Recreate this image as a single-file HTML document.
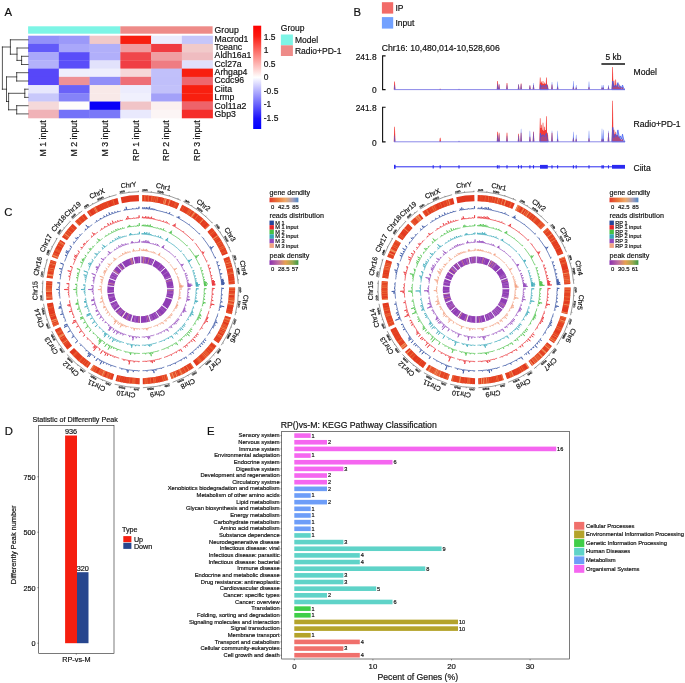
<!DOCTYPE html>
<html><head><meta charset="utf-8"><title>Figure</title>
<style>html,body{margin:0;padding:0;background:#fff}svg{display:block;opacity:0.999}text{font-family:"Liberation Sans",sans-serif;fill:#111;stroke:#111;stroke-width:0.18px}</style>
</head><body>
<svg width="685" height="683" viewBox="0 0 685 683">
<defs>
<linearGradient id="cbA" x1="0" y1="0" x2="0" y2="1">
<stop offset="0" stop-color="#ff0000"/><stop offset="0.10" stop-color="#fb1a10"/><stop offset="0.5" stop-color="#ffffff"/><stop offset="0.90" stop-color="#1a10fb"/><stop offset="1" stop-color="#0000ff"/></linearGradient>
<linearGradient id="gd" x1="0" y1="0" x2="1" y2="0"><stop offset="0" stop-color="#e23a2a"/><stop offset="0.3" stop-color="#ea7a3c"/><stop offset="0.55" stop-color="#efaa6a"/><stop offset="0.8" stop-color="#a8a0b8"/><stop offset="1" stop-color="#4a86c8"/></linearGradient>
<linearGradient id="pd" x1="0" y1="0" x2="1" y2="0"><stop offset="0" stop-color="#8a30b0"/><stop offset="0.3" stop-color="#c070a0"/><stop offset="0.55" stop-color="#e8a050"/><stop offset="0.8" stop-color="#9aa850"/><stop offset="1" stop-color="#3a9a48"/></linearGradient>
<filter id="bl" x="-5%" y="-30%" width="110%" height="160%"><feGaussianBlur stdDeviation="0.35"/></filter>
</defs>
<rect width="685" height="683" fill="#fff"/>
<g id="panelA">
<text x="4.6" y="16" font-size="11.3">A</text>
<rect x="28.1" y="26.3" width="92.25" height="7.4" fill="#7df5e6"/>
<rect x="120.35" y="26.3" width="92.25" height="7.4" fill="#ee8b88"/>
<rect x="28.10" y="35.70" width="31.05" height="8.53" fill="#9391f9"/>
<rect x="58.85" y="35.70" width="31.05" height="8.53" fill="#9b99f9"/>
<rect x="89.60" y="35.70" width="31.05" height="8.53" fill="#f1c9c9"/>
<rect x="120.35" y="35.70" width="31.05" height="8.53" fill="#f81f10"/>
<rect x="151.10" y="35.70" width="31.05" height="8.53" fill="#ececfd"/>
<rect x="181.85" y="35.70" width="31.05" height="8.53" fill="#c6c6fa"/>
<rect x="28.10" y="43.93" width="31.05" height="8.53" fill="#625af9"/>
<rect x="58.85" y="43.93" width="31.05" height="8.53" fill="#a9a7fa"/>
<rect x="89.60" y="43.93" width="31.05" height="8.53" fill="#b1aff9"/>
<rect x="120.35" y="43.93" width="31.05" height="8.53" fill="#f09da0"/>
<rect x="151.10" y="43.93" width="31.05" height="8.53" fill="#f03c42"/>
<rect x="181.85" y="43.93" width="31.05" height="8.53" fill="#f1caca"/>
<rect x="28.10" y="52.16" width="31.05" height="8.53" fill="#aaa8fa"/>
<rect x="58.85" y="52.16" width="31.05" height="8.53" fill="#5a4ef9"/>
<rect x="89.60" y="52.16" width="31.05" height="8.53" fill="#b1affa"/>
<rect x="120.35" y="52.16" width="31.05" height="8.53" fill="#f0464b"/>
<rect x="151.10" y="52.16" width="31.05" height="8.53" fill="#f09ea2"/>
<rect x="181.85" y="52.16" width="31.05" height="8.53" fill="#efbcc0"/>
<rect x="28.10" y="60.39" width="31.05" height="8.53" fill="#b3b1fa"/>
<rect x="58.85" y="60.39" width="31.05" height="8.53" fill="#5a4ef9"/>
<rect x="89.60" y="60.39" width="31.05" height="8.53" fill="#e2e2fc"/>
<rect x="120.35" y="60.39" width="31.05" height="8.53" fill="#f03e44"/>
<rect x="151.10" y="60.39" width="31.05" height="8.53" fill="#ef7c82"/>
<rect x="181.85" y="60.39" width="31.05" height="8.53" fill="#e0e0fc"/>
<rect x="28.10" y="68.62" width="31.05" height="8.53" fill="#5747f9"/>
<rect x="58.85" y="68.62" width="31.05" height="8.53" fill="#efeffd"/>
<rect x="89.60" y="68.62" width="31.05" height="8.53" fill="#efeffd"/>
<rect x="120.35" y="68.62" width="31.05" height="8.53" fill="#f6d8d9"/>
<rect x="151.10" y="68.62" width="31.05" height="8.53" fill="#c1c0fa"/>
<rect x="181.85" y="68.62" width="31.05" height="8.53" fill="#f81f10"/>
<rect x="28.10" y="76.85" width="31.05" height="8.53" fill="#5747f9"/>
<rect x="58.85" y="76.85" width="31.05" height="8.53" fill="#ee9196"/>
<rect x="89.60" y="76.85" width="31.05" height="8.53" fill="#918ff8"/>
<rect x="120.35" y="76.85" width="31.05" height="8.53" fill="#ee6f76"/>
<rect x="151.10" y="76.85" width="31.05" height="8.53" fill="#c0bffa"/>
<rect x="181.85" y="76.85" width="31.05" height="8.53" fill="#ee676e"/>
<rect x="28.10" y="85.08" width="31.05" height="8.53" fill="#e7e7fd"/>
<rect x="58.85" y="85.08" width="31.05" height="8.53" fill="#6a62f8"/>
<rect x="89.60" y="85.08" width="31.05" height="8.53" fill="#f8e9e8"/>
<rect x="120.35" y="85.08" width="31.05" height="8.53" fill="#ececfd"/>
<rect x="151.10" y="85.08" width="31.05" height="8.53" fill="#c2c1fa"/>
<rect x="181.85" y="85.08" width="31.05" height="8.53" fill="#f81f10"/>
<rect x="28.10" y="93.31" width="31.05" height="8.53" fill="#c8c8fb"/>
<rect x="58.85" y="93.31" width="31.05" height="8.53" fill="#8583f8"/>
<rect x="89.60" y="93.31" width="31.05" height="8.53" fill="#f8e9e8"/>
<rect x="120.35" y="93.31" width="31.05" height="8.53" fill="#f0f0fd"/>
<rect x="151.10" y="93.31" width="31.05" height="8.53" fill="#a3a1f9"/>
<rect x="181.85" y="93.31" width="31.05" height="8.53" fill="#f81f10"/>
<rect x="28.10" y="101.54" width="31.05" height="8.53" fill="#f5d9da"/>
<rect x="58.85" y="101.54" width="31.05" height="8.53" fill="#fffdfb"/>
<rect x="89.60" y="101.54" width="31.05" height="8.53" fill="#0a00f8"/>
<rect x="120.35" y="101.54" width="31.05" height="8.53" fill="#f1c4c7"/>
<rect x="151.10" y="101.54" width="31.05" height="8.53" fill="#fbf0f0"/>
<rect x="181.85" y="101.54" width="31.05" height="8.53" fill="#ee636a"/>
<rect x="28.10" y="109.77" width="31.05" height="8.53" fill="#f0b2b7"/>
<rect x="58.85" y="109.77" width="31.05" height="8.53" fill="#7472f8"/>
<rect x="89.60" y="109.77" width="31.05" height="8.53" fill="#7a78f8"/>
<rect x="120.35" y="109.77" width="31.05" height="8.53" fill="#e9e9fd"/>
<rect x="151.10" y="109.77" width="31.05" height="8.53" fill="#fcf5f5"/>
<rect x="181.85" y="109.77" width="31.05" height="8.53" fill="#f52e2a"/>
<text x="214.6" y="33.4" font-size="8.7">Group</text>
<text x="214.6" y="41.60" font-size="8.7">Macrod1</text>
<text x="214.6" y="49.97" font-size="8.7">Tceanc</text>
<text x="214.6" y="58.34" font-size="8.7">Aldh16a1</text>
<text x="214.6" y="66.71" font-size="8.7">Ccl27a</text>
<text x="214.6" y="75.08" font-size="8.7">Arhgap4</text>
<text x="214.6" y="83.45" font-size="8.7">Ccdc96</text>
<text x="214.6" y="91.82" font-size="8.7">Ciita</text>
<text x="214.6" y="100.19" font-size="8.7">Lrmp</text>
<text x="214.6" y="108.56" font-size="8.7">Col11a2</text>
<text x="214.6" y="116.93" font-size="8.7">Gbp3</text>
<text transform="translate(46.48,120.3) rotate(-90)" text-anchor="end" font-size="8.8">M 1 input</text>
<text transform="translate(77.22,120.3) rotate(-90)" text-anchor="end" font-size="8.8">M 2 input</text>
<text transform="translate(107.97,120.3) rotate(-90)" text-anchor="end" font-size="8.8">M 3 input</text>
<text transform="translate(138.72,120.3) rotate(-90)" text-anchor="end" font-size="8.8">RP 1 input</text>
<text transform="translate(169.47,120.3) rotate(-90)" text-anchor="end" font-size="8.8">RP 2 input</text>
<text transform="translate(200.22,120.3) rotate(-90)" text-anchor="end" font-size="8.8">RP 3 input</text>
<path d="M21.6 56.3L28.1 56.3M21.6 64.5L28.1 64.5M21.6 56.3L21.6 64.5M17.0 60.4L21.6 60.4M17.0 48.0L28.1 48.0M17.0 48.0L17.0 60.4M10.4 54.2L17.0 54.2M10.4 39.8L28.1 39.8M10.4 39.8L10.4 54.2M2.4 47.0L10.4 47.0M16.7 72.7L28.1 72.7M16.7 81.0L28.1 81.0M16.7 72.7L16.7 81.0M24.8 89.2L28.1 89.2M24.8 97.4L28.1 97.4M24.8 89.2L24.8 97.4M16.7 105.7L28.1 105.7M16.7 113.9L28.1 113.9M16.7 105.7L16.7 113.9M8.6 93.3L24.8 93.3M8.6 109.8L16.7 109.8M8.6 93.3L8.6 109.8M6.5 76.9L16.7 76.9M6.5 101.5L8.6 101.5M6.5 76.9L6.5 101.5M2.4 89.2L6.5 89.2M2.4 47.0L2.4 89.2" stroke="#111" stroke-width="0.7" fill="none" stroke-linecap="square"/>
<rect x="253.2" y="25.7" width="8" height="103.3" fill="url(#cbA)"/>
<text x="263.8" y="39.80" font-size="8.45">1.5</text>
<text x="263.8" y="53.32" font-size="8.45">1</text>
<text x="263.8" y="66.84" font-size="8.45">0.5</text>
<text x="263.8" y="80.36" font-size="8.45">0</text>
<text x="263.8" y="93.88" font-size="8.45">-0.5</text>
<text x="263.8" y="107.40" font-size="8.45">-1</text>
<text x="263.8" y="120.92" font-size="8.45">-1.5</text>
<text x="280.8" y="31.4" font-size="8.5">Group</text>
<rect x="280.9" y="34.5" width="12" height="10.8" fill="#7df5e6"/>
<rect x="280.9" y="45.3" width="12" height="10.7" fill="#ee8b88"/>
<text x="294.9" y="42.9" font-size="8.5">Model</text>
<text x="294.9" y="54.2" font-size="8.5">Radio+PD-1</text>
</g>
<g id="panelB">
<text x="353.4" y="16.1" font-size="11.3">B</text>
<rect x="381.9" y="2.2" width="11.3" height="11.4" fill="#f26b68"/>
<rect x="381.9" y="17.1" width="11.3" height="11.5" fill="#72a1ff"/>
<text x="395.4" y="10.6" font-size="8.5">IP</text>
<text x="395.4" y="26.1" font-size="8.5">Input</text>
<text x="381.8" y="50.7" font-size="8.66">Chr16: 10,480,014-10,528,606</text>
<path d="M385.6 55.9H382.6V89.6H385.6" stroke="#111" stroke-width="1.1" fill="none"/>
<text x="376.6" y="59.8" font-size="8.4" text-anchor="end">241.8</text>
<text x="376.6" y="93.2" font-size="8.4" text-anchor="end">0</text>
<path d="M385.6 107.2H382.6V141.9H385.6" stroke="#111" stroke-width="1.1" fill="none"/>
<text x="376.6" y="111.1" font-size="8.4" text-anchor="end">241.8</text>
<text x="376.6" y="145.5" font-size="8.4" text-anchor="end">0</text>
<path d="M601.4 64H625" stroke="#111" stroke-width="1.5"/>
<text x="613.4" y="59.8" font-size="8.4" text-anchor="middle">5 kb</text>
<text x="633.5" y="74.6" font-size="8.6">Model</text>
<text x="633.5" y="127.2" font-size="8.6">Radio+PD-1</text>
<text x="633.5" y="170.7" font-size="8.6">Ciita</text>
<g filter="url(#bl)"><path d="M393.75 89.6L394.30 81.6L394.90 81.6L395.45 89.6ZM439.35 89.6L439.90 88.8L440.50 88.8L441.05 89.6ZM458.15 89.6L458.70 89.3L459.30 89.3L459.85 89.6ZM496.75 89.6L497.30 81.0L497.90 81.0L498.45 89.6ZM498.25 89.6L498.80 84.6L499.40 84.6L499.95 89.6ZM506.15 89.6L506.70 83.1L507.30 83.1L507.85 89.6ZM517.75 89.6L518.30 84.6L518.90 84.6L519.45 89.6ZM520.25 89.6L520.80 83.6L521.40 83.6L521.95 89.6ZM529.05 89.6L529.60 85.6L530.20 85.6L530.75 89.6ZM532.65 89.6L533.20 85.1L533.80 85.1L534.35 89.6ZM539.35 89.6L539.90 77.6L540.50 77.6L541.05 89.6ZM540.75 89.6L541.30 81.6L541.90 81.6L542.45 89.6ZM542.15 89.6L542.70 81.1L543.30 81.1L543.85 89.6ZM543.75 89.6L544.30 82.6L544.90 82.6L545.45 89.6ZM545.55 89.6L546.10 77.6L546.70 77.6L547.25 89.6ZM546.75 89.6L547.30 84.6L547.90 84.6L548.45 89.6ZM551.15 89.6L551.70 84.6L552.30 84.6L552.85 89.6ZM556.75 89.6L557.30 86.6L557.90 86.6L558.45 89.6ZM572.55 89.6L573.10 86.6L573.70 86.6L574.25 89.6ZM575.35 89.6L575.90 87.6L576.50 87.6L577.05 89.6ZM588.15 89.6L588.70 87.1L589.30 87.1L589.85 89.6ZM601.15 89.6L601.70 87.6L602.30 87.6L602.85 89.6ZM602.45 89.6L603.00 87.6L603.60 87.6L604.15 89.6ZM607.65 89.6L608.20 86.6L608.80 86.6L609.35 89.6ZM611.75 89.6L612.30 67.1L612.90 67.1L613.45 89.6ZM613.15 89.6L613.70 80.6L614.30 80.6L614.85 89.6ZM614.85 89.6L615.40 79.6L616.00 79.6L616.55 89.6ZM616.65 89.6L617.20 83.6L617.80 83.6L618.35 89.6ZM618.35 89.6L618.90 84.6L619.50 84.6L620.05 89.6ZM619.75 89.6L620.30 86.6L620.90 86.6L621.45 89.6ZM621.55 89.6L622.10 87.1L622.70 87.1L623.25 89.6ZM623.15 89.6L623.70 88.6L624.30 88.6L624.85 89.6ZM540 89.6L540.6 82.6L543 84.1L546 83.6L547.8 87.6L548.2 89.6ZM612 89.6L612.8 82.6L615 86.1L618 86.6L621 88.6L623 89.6Z" fill="#f2302c" fill-opacity="0.95"/>
<path d="M393.85 89.6L394.42 85.1L394.78 85.1L395.35 89.6ZM439.45 89.6L440.02 89.1L440.38 89.1L440.95 89.6ZM458.25 89.6L458.82 88.8L459.18 88.8L459.75 89.6ZM496.85 89.6L497.42 83.6L497.78 83.6L498.35 89.6ZM498.35 89.6L498.92 84.1L499.28 84.1L499.85 89.6ZM506.25 89.6L506.82 84.6L507.18 84.6L507.75 89.6ZM517.85 89.6L518.42 84.1L518.78 84.1L519.35 89.6ZM520.35 89.6L520.92 84.1L521.28 84.1L521.85 89.6ZM529.15 89.6L529.72 84.9L530.08 84.9L530.65 89.6ZM532.75 89.6L533.32 83.1L533.68 83.1L534.25 89.6ZM551.25 89.6L551.82 82.1L552.18 82.1L552.75 89.6ZM556.85 89.6L557.42 81.6L557.78 81.6L558.35 89.6ZM572.65 89.6L573.22 81.1L573.58 81.1L574.15 89.6ZM575.45 89.6L576.02 84.9L576.38 84.9L576.95 89.6ZM588.25 89.6L588.82 81.6L589.18 81.6L589.75 89.6ZM601.25 89.6L601.82 84.9L602.18 84.9L602.75 89.6ZM602.55 89.6L603.12 84.9L603.48 84.9L604.05 89.6ZM607.75 89.6L608.32 84.9L608.68 84.9L609.25 89.6Z" fill="#4060f0" fill-opacity="0.72"/>
<path d="M540.0 89.6L540.4 84.6L541.5 86.6L543.0 85.4L544.5 86.6L546.4 84.6L547.4 87.6L548.2 89.6Z" fill="#4060f0" fill-opacity="0.4" stroke="#3656f0" stroke-width="0.7" stroke-linejoin="round"/>
<path d="M611.8 89.6L612.8 81.1L613.9 87.1L615.5 85.1L616.5 86.6L617.9 82.6L619.3 87.1L620.4 86.1L621.4 88.1L622.5 85.1L623.8 88.6L625.0 89.6Z" fill="#4060f0" fill-opacity="0.4" stroke="#3656f0" stroke-width="0.7" stroke-linejoin="round"/>
<path d="M394 89.6H625" stroke="#7672e4" stroke-width="0.85"/></g>
<g filter="url(#bl)"><path d="M393.75 141.8L394.30 126.8L394.90 126.8L395.45 141.8ZM439.35 141.8L439.90 137.8L440.50 137.8L441.05 141.8ZM458.15 141.8L458.70 141.5L459.30 141.5L459.85 141.8ZM496.75 141.8L497.30 131.8L497.90 131.8L498.45 141.8ZM498.25 141.8L498.80 132.8L499.40 132.8L499.95 141.8ZM506.15 141.8L506.70 132.8L507.30 132.8L507.85 141.8ZM517.75 141.8L518.30 133.8L518.90 133.8L519.45 141.8ZM520.25 141.8L520.80 132.8L521.40 132.8L521.95 141.8ZM529.05 141.8L529.60 136.8L530.20 136.8L530.75 141.8ZM532.65 141.8L533.20 131.8L533.80 131.8L534.35 141.8ZM539.35 141.8L539.90 118.3L540.50 118.3L541.05 141.8ZM540.75 141.8L541.30 124.8L541.90 124.8L542.45 141.8ZM542.15 141.8L542.70 122.8L543.30 122.8L543.85 141.8ZM543.75 141.8L544.30 126.8L544.90 126.8L545.45 141.8ZM545.55 141.8L546.10 116.3L546.70 116.3L547.25 141.8ZM546.75 141.8L547.30 132.8L547.90 132.8L548.45 141.8ZM551.15 141.8L551.70 132.8L552.30 132.8L552.85 141.8ZM556.75 141.8L557.30 138.8L557.90 138.8L558.45 141.8ZM572.55 141.8L573.10 137.8L573.70 137.8L574.25 141.8ZM575.35 141.8L575.90 138.8L576.50 138.8L577.05 141.8ZM588.15 141.8L588.70 138.3L589.30 138.3L589.85 141.8ZM601.15 141.8L601.70 138.8L602.30 138.8L602.85 141.8ZM602.45 141.8L603.00 138.8L603.60 138.8L604.15 141.8ZM607.65 141.8L608.20 132.8L608.80 132.8L609.35 141.8ZM611.75 141.8L612.30 100.8L612.90 100.8L613.45 141.8ZM613.15 141.8L613.70 129.8L614.30 129.8L614.85 141.8ZM614.85 141.8L615.40 131.8L616.00 131.8L616.55 141.8ZM616.65 141.8L617.20 134.8L617.80 134.8L618.35 141.8ZM618.35 141.8L618.90 136.8L619.50 136.8L620.05 141.8ZM619.75 141.8L620.30 138.8L620.90 138.8L621.45 141.8ZM621.55 141.8L622.10 138.8L622.70 138.8L623.25 141.8ZM623.15 141.8L623.70 140.8L624.30 140.8L624.85 141.8ZM540 141.8L540.6 127.8L543 130.8L546 129.8L547.8 137.8L548.2 141.8ZM612 141.8L612.8 127.8L615 134.8L618 135.8L621 139.8L623 141.8Z" fill="#f2302c" fill-opacity="0.95"/>
<path d="M393.85 141.8L394.42 135.3L394.78 135.3L395.35 141.8ZM439.45 141.8L440.02 141.2L440.38 141.2L440.95 141.8ZM458.25 141.8L458.82 140.8L459.18 140.8L459.75 141.8ZM496.85 141.8L497.42 134.8L497.78 134.8L498.35 141.8ZM498.35 141.8L498.92 134.3L499.28 134.3L499.85 141.8ZM506.25 141.8L506.82 135.8L507.18 135.8L507.75 141.8ZM517.85 141.8L518.42 135.3L518.78 135.3L519.35 141.8ZM520.35 141.8L520.92 128.8L521.28 128.8L521.85 141.8ZM529.15 141.8L529.72 130.8L530.08 130.8L530.65 141.8ZM532.75 141.8L533.32 131.8L533.68 131.8L534.25 141.8ZM551.25 141.8L551.82 130.8L552.18 130.8L552.75 141.8ZM556.85 141.8L557.42 130.8L557.78 130.8L558.35 141.8ZM572.65 141.8L573.22 131.8L573.58 131.8L574.15 141.8ZM575.45 141.8L576.02 134.8L576.38 134.8L576.95 141.8ZM588.25 141.8L588.82 130.8L589.18 130.8L589.75 141.8ZM601.25 141.8L601.82 128.8L602.18 128.8L602.75 141.8ZM602.55 141.8L603.12 129.8L603.48 129.8L604.05 141.8ZM607.75 141.8L608.32 130.8L608.68 130.8L609.25 141.8Z" fill="#4060f0" fill-opacity="0.72"/>
<path d="M540.0 141.8L540.4 133.3L541.5 136.7L543.0 134.7L544.5 136.7L546.4 133.3L547.4 138.4L548.2 141.8Z" fill="#4060f0" fill-opacity="0.4" stroke="#3656f0" stroke-width="0.7" stroke-linejoin="round"/>
<path d="M611.8 141.8L612.8 127.4L613.9 137.6L615.5 134.2L616.5 136.7L617.9 129.9L619.3 137.6L620.4 135.9L621.4 139.2L622.5 134.2L623.8 140.1L625.0 141.8Z" fill="#4060f0" fill-opacity="0.4" stroke="#3656f0" stroke-width="0.7" stroke-linejoin="round"/>
<path d="M394 141.8H625" stroke="#7672e4" stroke-width="0.85"/></g>
<path d="M394 166.8H625" stroke="#2a2af0" stroke-width="1"/>
<path d="M433.2 165.20000000000002V168.4M440.2 165.20000000000002V168.4M459.0 165.20000000000002V168.4M497.4 165.20000000000002V168.4M499.0 165.20000000000002V168.4M507.0 165.20000000000002V168.4M518.5 165.20000000000002V168.4M521.3 165.20000000000002V168.4M529.9 165.20000000000002V168.4M533.5 165.20000000000002V168.4M552.0 165.20000000000002V168.4M557.6 165.20000000000002V168.4M573.4 165.20000000000002V168.4M576.2 165.20000000000002V168.4M589.0 165.20000000000002V168.4M602.0 165.20000000000002V168.4M603.3 165.20000000000002V168.4M608.5 165.20000000000002V168.4" stroke="#2a2af0" stroke-width="1.1"/>
<rect x="394" y="164.8" width="1.6" height="4" fill="#2a2af0"/>
<rect x="540" y="164.9" width="7.8" height="3.8" fill="#2a2af0"/>
<rect x="612" y="164.9" width="13" height="3.8" fill="#2a2af0"/>
</g>
<g id="panelC">
<text x="4.3" y="215.7" font-size="11.3">C</text>
<g>
<path d="M142.2 195.1A94.6 94.6 0 0 1 179.3 203.4L176.8 209.0A88.5 88.5 0 0 0 142.0 201.2ZM182.3 204.8A94.6 94.6 0 0 1 209.8 225.3L205.3 229.5A88.5 88.5 0 0 0 179.6 210.3ZM212.0 227.8A94.6 94.6 0 0 1 227.9 253.5L222.3 255.8A88.5 88.5 0 0 0 207.4 231.8ZM229.1 256.6A94.6 94.6 0 0 1 234.9 284.1L228.8 284.5A88.5 88.5 0 0 0 223.4 258.7ZM235.1 287.4A94.6 94.6 0 0 1 231.8 314.3L225.9 312.8A88.5 88.5 0 0 0 229.0 287.5ZM230.9 317.5A94.6 94.6 0 0 1 218.5 343.3L213.4 339.8A88.5 88.5 0 0 0 225.1 315.7ZM216.5 346.0A94.6 94.6 0 0 1 196.5 365.9L192.9 361.0A88.5 88.5 0 0 0 211.6 342.3ZM193.8 367.8A94.6 94.6 0 0 1 171.5 379.1L169.5 373.3A88.5 88.5 0 0 0 190.4 362.8ZM168.3 380.1A94.6 94.6 0 0 1 142.8 384.3L142.7 378.2A88.5 88.5 0 0 0 166.5 374.3ZM139.5 384.3A94.6 94.6 0 0 1 115.5 380.9L117.1 375.1A88.5 88.5 0 0 0 139.6 378.2ZM112.4 380.0A94.6 94.6 0 0 1 90.2 369.8L93.5 364.7A88.5 88.5 0 0 0 114.2 374.2ZM87.5 368.0A94.6 94.6 0 0 1 69.4 352.1L74.0 348.1A88.5 88.5 0 0 0 90.9 363.0ZM67.3 349.6A94.6 94.6 0 0 1 54.8 329.7L60.3 327.1A88.5 88.5 0 0 0 72.0 345.8ZM53.4 326.7A94.6 94.6 0 0 1 46.9 303.4L52.9 302.5A88.5 88.5 0 0 0 59.0 324.3ZM46.5 300.1A94.6 94.6 0 0 1 46.3 281.0L52.4 281.5A88.5 88.5 0 0 0 52.5 299.4ZM46.7 277.7A94.6 94.6 0 0 1 50.7 259.8L56.5 261.8A88.5 88.5 0 0 0 52.7 278.5ZM51.8 256.7A94.6 94.6 0 0 1 60.2 239.7L65.4 242.9A88.5 88.5 0 0 0 57.6 258.9ZM62.0 236.9A94.6 94.6 0 0 1 72.7 223.7L77.1 228.0A88.5 88.5 0 0 0 67.0 240.3ZM75.0 221.4A94.6 94.6 0 0 1 84.2 213.7L87.9 218.6A88.5 88.5 0 0 0 79.2 225.8ZM86.9 211.7A94.6 94.6 0 0 1 117.5 198.0L118.9 203.9A88.5 88.5 0 0 0 90.4 216.8ZM120.7 197.2A94.6 94.6 0 0 1 138.8 195.1L139.0 201.2A88.5 88.5 0 0 0 121.9 203.2Z" fill="#e2381f"/>
<path d="M147.0 195.3A94.6 94.6 0 0 1 148.2 195.4L147.7 201.5A88.5 88.5 0 0 0 146.6 201.4ZM153.3 196.0A94.6 94.6 0 0 1 153.9 196.1L153.1 202.1A88.5 88.5 0 0 0 152.5 202.0ZM161.2 197.4A94.6 94.6 0 0 1 162.4 197.7L160.9 203.6A88.5 88.5 0 0 0 159.9 203.3ZM162.7 197.7A94.6 94.6 0 0 1 163.4 197.9L161.9 203.8A88.5 88.5 0 0 0 161.2 203.7ZM168.1 199.2A94.6 94.6 0 0 1 169.5 199.6L167.6 205.5A88.5 88.5 0 0 0 166.3 205.0ZM171.0 200.1A94.6 94.6 0 0 1 171.5 200.3L169.5 206.1A88.5 88.5 0 0 0 169.0 205.9ZM172.5 200.7A94.6 94.6 0 0 1 173.6 201.1L171.5 206.8A88.5 88.5 0 0 0 170.4 206.4ZM173.9 201.2A94.6 94.6 0 0 1 174.4 201.4L172.2 207.1A88.5 88.5 0 0 0 171.8 206.9ZM177.1 202.4A94.6 94.6 0 0 1 178.1 202.9L175.7 208.5A88.5 88.5 0 0 0 174.7 208.1ZM178.5 203.1A94.6 94.6 0 0 1 179.1 203.3L176.6 208.9A88.5 88.5 0 0 0 176.1 208.7ZM182.3 204.8A94.6 94.6 0 0 1 183.4 205.4L180.6 210.8A88.5 88.5 0 0 0 179.6 210.3ZM185.4 206.5A94.6 94.6 0 0 1 186.4 207.0L183.4 212.3A88.5 88.5 0 0 0 182.5 211.8ZM187.2 207.4A94.6 94.6 0 0 1 187.8 207.8L184.7 213.0A88.5 88.5 0 0 0 184.2 212.7ZM188.4 208.1A94.6 94.6 0 0 1 189.1 208.5L185.9 213.8A88.5 88.5 0 0 0 185.3 213.4ZM192.9 210.9A94.6 94.6 0 0 1 194.0 211.7L190.5 216.7A88.5 88.5 0 0 0 189.5 216.0ZM199.5 215.7A94.6 94.6 0 0 1 200.4 216.5L196.5 221.2A88.5 88.5 0 0 0 195.7 220.5ZM201.0 217.0A94.6 94.6 0 0 1 201.8 217.7L197.9 222.3A88.5 88.5 0 0 0 197.1 221.7ZM202.0 217.8A94.6 94.6 0 0 1 202.9 218.6L198.9 223.2A88.5 88.5 0 0 0 198.0 222.4ZM205.0 220.5A94.6 94.6 0 0 1 205.3 220.8L201.2 225.3A88.5 88.5 0 0 0 200.9 225.0ZM205.7 221.1A94.6 94.6 0 0 1 206.0 221.5L201.8 225.9A88.5 88.5 0 0 0 201.5 225.6ZM206.3 221.7A94.6 94.6 0 0 1 207.0 222.5L202.7 226.8A88.5 88.5 0 0 0 202.1 226.1ZM212.8 228.7A94.6 94.6 0 0 1 213.8 229.9L209.0 233.7A88.5 88.5 0 0 0 208.2 232.7ZM215.1 231.5A94.6 94.6 0 0 1 216.0 232.7L211.1 236.4A88.5 88.5 0 0 0 210.3 235.3ZM220.0 238.4A94.6 94.6 0 0 1 220.7 239.5L215.5 242.8A88.5 88.5 0 0 0 214.8 241.7ZM225.5 248.2A94.6 94.6 0 0 1 226.1 249.4L220.6 252.0A88.5 88.5 0 0 0 220.0 250.9ZM229.1 256.6A94.6 94.6 0 0 1 229.3 257.0L223.5 259.1A88.5 88.5 0 0 0 223.4 258.7ZM229.5 257.6A94.6 94.6 0 0 1 229.7 258.2L224.0 260.2A88.5 88.5 0 0 0 223.8 259.7ZM232.0 265.6A94.6 94.6 0 0 1 232.2 266.3L226.3 267.8A88.5 88.5 0 0 0 226.1 267.1ZM232.8 268.8A94.6 94.6 0 0 1 233.1 270.2L227.1 271.5A88.5 88.5 0 0 0 226.8 270.2ZM233.1 270.4A94.6 94.6 0 0 1 233.3 271.3L227.3 272.5A88.5 88.5 0 0 0 227.1 271.7ZM233.9 274.7A94.6 94.6 0 0 1 234.0 275.5L228.0 276.5A88.5 88.5 0 0 0 227.9 275.6ZM234.1 275.7A94.6 94.6 0 0 1 234.2 277.0L228.2 277.8A88.5 88.5 0 0 0 228.0 276.6ZM234.3 277.7A94.6 94.6 0 0 1 234.5 278.7L228.4 279.4A88.5 88.5 0 0 0 228.3 278.5ZM234.6 279.5A94.6 94.6 0 0 1 234.6 280.0L228.5 280.6A88.5 88.5 0 0 0 228.5 280.2ZM234.7 281.2A94.6 94.6 0 0 1 234.8 281.7L228.7 282.3A88.5 88.5 0 0 0 228.6 281.7ZM235.1 289.1A94.6 94.6 0 0 1 235.1 290.0L229.0 290.0A88.5 88.5 0 0 0 229.0 289.1ZM235.1 291.3A94.6 94.6 0 0 1 235.1 292.0L229.0 291.8A88.5 88.5 0 0 0 229.0 291.2ZM233.7 305.9A94.6 94.6 0 0 1 233.5 307.0L227.5 305.9A88.5 88.5 0 0 0 227.7 304.8ZM232.9 309.9A94.6 94.6 0 0 1 232.6 311.1L226.7 309.7A88.5 88.5 0 0 0 227.0 308.6ZM232.4 312.0A94.6 94.6 0 0 1 232.1 313.3L226.2 311.8A88.5 88.5 0 0 0 226.5 310.6ZM230.9 317.5A94.6 94.6 0 0 1 230.6 318.4L224.8 316.6A88.5 88.5 0 0 0 225.1 315.7ZM221.5 338.5A94.6 94.6 0 0 1 221.0 339.3L215.8 336.1A88.5 88.5 0 0 0 216.3 335.3ZM220.5 340.2A94.6 94.6 0 0 1 219.7 341.4L214.6 338.1A88.5 88.5 0 0 0 215.3 337.0ZM215.1 347.9A94.6 94.6 0 0 1 214.3 348.8L209.6 345.0A88.5 88.5 0 0 0 210.3 344.1ZM213.0 350.4A94.6 94.6 0 0 1 212.3 351.4L207.6 347.4A88.5 88.5 0 0 0 208.3 346.5ZM212.0 351.6A94.6 94.6 0 0 1 211.5 352.2L207.0 348.1A88.5 88.5 0 0 0 207.4 347.7ZM210.5 353.4A94.6 94.6 0 0 1 209.8 354.1L205.3 349.9A88.5 88.5 0 0 0 206.0 349.3ZM205.2 358.7A94.6 94.6 0 0 1 204.2 359.7L200.1 355.2A88.5 88.5 0 0 0 201.0 354.3ZM203.6 360.1A94.6 94.6 0 0 1 202.6 361.0L198.6 356.4A88.5 88.5 0 0 0 199.6 355.6ZM199.2 363.9A94.6 94.6 0 0 1 198.8 364.2L195.1 359.4A88.5 88.5 0 0 0 195.4 359.1ZM192.1 369.0A94.6 94.6 0 0 1 191.6 369.3L188.3 364.2A88.5 88.5 0 0 0 188.8 363.8ZM190.6 370.0A94.6 94.6 0 0 1 189.7 370.5L186.5 365.3A88.5 88.5 0 0 0 187.3 364.8ZM188.0 371.5A94.6 94.6 0 0 1 186.8 372.2L183.8 366.9A88.5 88.5 0 0 0 184.9 366.2ZM180.0 375.6A94.6 94.6 0 0 1 179.5 375.9L176.9 370.3A88.5 88.5 0 0 0 177.5 370.1ZM162.2 381.8A94.6 94.6 0 0 1 161.8 381.9L160.4 375.9A88.5 88.5 0 0 0 160.8 375.8ZM161.3 382.0A94.6 94.6 0 0 1 160.9 382.1L159.5 376.1A88.5 88.5 0 0 0 159.9 376.0ZM160.2 382.2A94.6 94.6 0 0 1 159.2 382.4L157.9 376.5A88.5 88.5 0 0 0 158.9 376.3ZM158.2 382.6A94.6 94.6 0 0 1 157.1 382.8L156.0 376.8A88.5 88.5 0 0 0 157.1 376.6ZM150.1 383.8A94.6 94.6 0 0 1 149.3 383.9L148.7 377.8A88.5 88.5 0 0 0 149.5 377.7ZM149.0 383.9A94.6 94.6 0 0 1 148.2 384.0L147.7 377.9A88.5 88.5 0 0 0 148.5 377.8ZM139.5 384.3A94.6 94.6 0 0 1 138.2 384.3L138.4 378.2A88.5 88.5 0 0 0 139.6 378.2ZM137.5 384.3A94.6 94.6 0 0 1 136.3 384.2L136.6 378.1A88.5 88.5 0 0 0 137.7 378.2ZM131.3 383.9A94.6 94.6 0 0 1 130.3 383.7L131.0 377.7A88.5 88.5 0 0 0 131.9 377.8ZM128.5 383.5A94.6 94.6 0 0 1 127.3 383.4L128.1 377.3A88.5 88.5 0 0 0 129.2 377.5ZM127.2 383.4A94.6 94.6 0 0 1 126.5 383.3L127.4 377.2A88.5 88.5 0 0 0 128.0 377.3ZM126.3 383.2A94.6 94.6 0 0 1 125.1 383.0L126.1 377.0A88.5 88.5 0 0 0 127.2 377.2ZM124.1 382.9A94.6 94.6 0 0 1 122.9 382.6L124.0 376.7A88.5 88.5 0 0 0 125.2 376.9ZM121.8 382.4A94.6 94.6 0 0 1 120.5 382.2L121.7 376.2A88.5 88.5 0 0 0 123.1 376.5ZM111.1 379.6A94.6 94.6 0 0 1 110.1 379.3L112.1 373.5A88.5 88.5 0 0 0 113.0 373.8ZM108.8 378.8A94.6 94.6 0 0 1 107.9 378.5L110.0 372.8A88.5 88.5 0 0 0 110.9 373.1ZM95.7 373.0A94.6 94.6 0 0 1 95.3 372.8L98.2 367.5A88.5 88.5 0 0 0 98.6 367.7ZM94.3 372.2A94.6 94.6 0 0 1 93.4 371.7L96.4 366.5A88.5 88.5 0 0 0 97.3 366.9ZM87.5 368.0A94.6 94.6 0 0 1 87.1 367.8L90.5 362.7A88.5 88.5 0 0 0 90.9 363.0ZM85.1 366.4A94.6 94.6 0 0 1 84.4 365.9L88.0 361.0A88.5 88.5 0 0 0 88.7 361.4ZM80.7 363.0A94.6 94.6 0 0 1 79.7 362.1L83.6 357.5A88.5 88.5 0 0 0 84.6 358.3ZM77.9 360.6A94.6 94.6 0 0 1 77.1 359.9L81.2 355.4A88.5 88.5 0 0 0 82.0 356.1ZM76.4 359.2A94.6 94.6 0 0 1 76.0 358.9L80.2 354.5A88.5 88.5 0 0 0 80.5 354.8ZM75.4 358.4A94.6 94.6 0 0 1 75.1 358.0L79.3 353.6A88.5 88.5 0 0 0 79.6 353.9ZM74.4 357.4A94.6 94.6 0 0 1 73.6 356.6L77.9 352.3A88.5 88.5 0 0 0 78.7 353.0ZM67.3 349.6A94.6 94.6 0 0 1 66.5 348.6L71.3 344.8A88.5 88.5 0 0 0 72.0 345.8ZM65.1 346.9A94.6 94.6 0 0 1 64.7 346.3L69.6 342.7A88.5 88.5 0 0 0 70.0 343.2ZM64.4 346.0A94.6 94.6 0 0 1 64.0 345.3L68.9 341.7A88.5 88.5 0 0 0 69.4 342.3ZM61.0 341.0A94.6 94.6 0 0 1 60.7 340.4L65.8 337.2A88.5 88.5 0 0 0 66.2 337.7ZM55.7 331.6A94.6 94.6 0 0 1 55.2 330.5L60.7 327.9A88.5 88.5 0 0 0 61.2 328.9ZM48.8 312.9A94.6 94.6 0 0 1 48.6 312.3L54.6 310.9A88.5 88.5 0 0 0 54.7 311.4ZM48.3 311.0A94.6 94.6 0 0 1 48.2 310.3L54.1 308.9A88.5 88.5 0 0 0 54.3 309.6ZM48.0 309.5A94.6 94.6 0 0 1 47.8 308.3L53.7 307.1A88.5 88.5 0 0 0 54.0 308.3ZM47.4 306.3A94.6 94.6 0 0 1 47.3 305.9L53.3 304.8A88.5 88.5 0 0 0 53.4 305.2ZM47.2 305.6A94.6 94.6 0 0 1 47.1 305.0L53.2 304.0A88.5 88.5 0 0 0 53.3 304.6ZM46.5 300.1A94.6 94.6 0 0 1 46.4 299.4L52.5 298.8A88.5 88.5 0 0 0 52.5 299.4ZM46.0 293.0A94.6 94.6 0 0 1 45.9 292.1L52.0 291.9A88.5 88.5 0 0 0 52.1 292.8ZM46.1 284.1A94.6 94.6 0 0 1 46.1 283.5L52.2 283.9A88.5 88.5 0 0 0 52.2 284.4ZM46.7 277.7A94.6 94.6 0 0 1 46.9 276.2L52.9 277.1A88.5 88.5 0 0 0 52.7 278.5ZM47.4 272.8A94.6 94.6 0 0 1 47.5 272.3L53.5 273.4A88.5 88.5 0 0 0 53.4 273.9ZM48.7 266.9A94.6 94.6 0 0 1 49.0 265.6L54.9 267.1A88.5 88.5 0 0 0 54.6 268.4ZM49.9 262.5A94.6 94.6 0 0 1 50.1 261.8L55.9 263.6A88.5 88.5 0 0 0 55.7 264.3ZM55.8 247.7A94.6 94.6 0 0 1 56.1 247.0L61.5 249.8A88.5 88.5 0 0 0 61.2 250.4ZM57.9 243.6A94.6 94.6 0 0 1 58.2 243.1L63.5 246.1A88.5 88.5 0 0 0 63.2 246.6ZM59.6 240.6A94.6 94.6 0 0 1 59.9 240.2L65.1 243.4A88.5 88.5 0 0 0 64.9 243.8ZM62.0 236.9A94.6 94.6 0 0 1 62.5 236.2L67.5 239.7A88.5 88.5 0 0 0 67.0 240.3ZM65.2 232.5A94.6 94.6 0 0 1 65.6 231.9L70.5 235.6A88.5 88.5 0 0 0 70.0 236.2ZM68.3 228.6A94.6 94.6 0 0 1 68.5 228.3L73.2 232.2A88.5 88.5 0 0 0 72.9 232.6ZM68.9 227.9A94.6 94.6 0 0 1 69.6 227.1L74.2 231.1A88.5 88.5 0 0 0 73.5 231.9ZM71.3 225.2A94.6 94.6 0 0 1 72.0 224.4L76.4 228.7A88.5 88.5 0 0 0 75.7 229.4ZM76.3 220.2A94.6 94.6 0 0 1 77.0 219.6L81.1 224.1A88.5 88.5 0 0 0 80.4 224.7ZM79.0 217.9A94.6 94.6 0 0 1 80.0 217.0L83.9 221.7A88.5 88.5 0 0 0 82.9 222.5ZM80.5 216.5A94.6 94.6 0 0 1 81.4 215.8L85.2 220.6A88.5 88.5 0 0 0 84.4 221.2ZM83.4 214.3A94.6 94.6 0 0 1 84.1 213.8L87.7 218.7A88.5 88.5 0 0 0 87.0 219.2ZM91.3 208.9A94.6 94.6 0 0 1 92.2 208.3L95.3 213.6A88.5 88.5 0 0 0 94.5 214.1ZM95.3 206.6A94.6 94.6 0 0 1 96.2 206.1L99.1 211.5A88.5 88.5 0 0 0 98.2 211.9ZM98.0 205.2A94.6 94.6 0 0 1 99.0 204.7L101.7 210.2A88.5 88.5 0 0 0 100.7 210.6ZM99.8 204.3A94.6 94.6 0 0 1 100.9 203.8L103.5 209.3A88.5 88.5 0 0 0 102.4 209.8ZM101.7 203.4A94.6 94.6 0 0 1 102.8 202.9L105.3 208.5A88.5 88.5 0 0 0 104.2 209.0ZM103.1 202.8A94.6 94.6 0 0 1 104.0 202.4L106.3 208.1A88.5 88.5 0 0 0 105.5 208.4ZM104.5 202.2A94.6 94.6 0 0 1 105.4 201.8L107.7 207.5A88.5 88.5 0 0 0 106.8 207.9ZM107.2 201.1A94.6 94.6 0 0 1 108.3 200.8L110.4 206.5A88.5 88.5 0 0 0 109.4 206.8ZM110.5 200.0A94.6 94.6 0 0 1 111.4 199.7L113.2 205.5A88.5 88.5 0 0 0 112.4 205.8Z" fill="#e84e28" fill-opacity="0.7"/>
<path d="M142.2 195.1A94.6 94.6 0 0 1 143.0 195.1L142.9 201.2A88.5 88.5 0 0 0 142.0 201.2ZM144.1 195.2A94.6 94.6 0 0 1 145.0 195.2L144.7 201.3A88.5 88.5 0 0 0 143.8 201.3ZM145.6 195.2A94.6 94.6 0 0 1 146.3 195.3L145.9 201.4A88.5 88.5 0 0 0 145.3 201.3ZM151.4 195.7A94.6 94.6 0 0 1 152.5 195.9L151.7 201.9A88.5 88.5 0 0 0 150.7 201.8ZM152.8 195.9A94.6 94.6 0 0 1 153.2 196.0L152.4 202.0A88.5 88.5 0 0 0 152.0 201.9ZM154.0 196.1A94.6 94.6 0 0 1 154.9 196.2L154.0 202.2A88.5 88.5 0 0 0 153.2 202.1ZM155.9 196.4A94.6 94.6 0 0 1 156.8 196.5L155.8 202.5A88.5 88.5 0 0 0 154.9 202.4ZM157.4 196.6A94.6 94.6 0 0 1 158.5 196.8L157.3 202.8A88.5 88.5 0 0 0 156.3 202.6ZM175.2 201.7A94.6 94.6 0 0 1 175.8 201.9L173.5 207.6A88.5 88.5 0 0 0 173.0 207.4ZM176.3 202.1A94.6 94.6 0 0 1 176.9 202.4L174.5 208.0A88.5 88.5 0 0 0 174.0 207.8ZM184.2 205.8A94.6 94.6 0 0 1 184.7 206.1L181.9 211.5A88.5 88.5 0 0 0 181.3 211.2ZM189.2 208.6A94.6 94.6 0 0 1 189.6 208.9L186.5 214.1A88.5 88.5 0 0 0 186.1 213.8ZM189.9 209.0A94.6 94.6 0 0 1 190.8 209.6L187.5 214.7A88.5 88.5 0 0 0 186.7 214.2ZM191.2 209.8A94.6 94.6 0 0 1 192.4 210.6L189.1 215.7A88.5 88.5 0 0 0 187.9 215.0ZM195.5 212.8A94.6 94.6 0 0 1 196.0 213.1L192.5 218.1A88.5 88.5 0 0 0 192.0 217.7ZM197.9 214.5A94.6 94.6 0 0 1 198.8 215.2L195.0 220.0A88.5 88.5 0 0 0 194.2 219.4ZM208.7 224.2A94.6 94.6 0 0 1 209.5 225.0L205.1 229.2A88.5 88.5 0 0 0 204.3 228.4ZM214.3 230.5A94.6 94.6 0 0 1 214.8 231.2L210.0 235.0A88.5 88.5 0 0 0 209.5 234.3ZM218.9 236.8A94.6 94.6 0 0 1 219.4 237.5L214.3 240.9A88.5 88.5 0 0 0 213.9 240.2ZM221.2 240.3A94.6 94.6 0 0 1 221.9 241.5L216.6 244.6A88.5 88.5 0 0 0 216.0 243.5ZM222.3 242.2A94.6 94.6 0 0 1 222.7 242.9L217.4 245.9A88.5 88.5 0 0 0 217.0 245.2ZM223.1 243.5A94.6 94.6 0 0 1 223.3 244.0L218.0 246.9A88.5 88.5 0 0 0 217.7 246.5ZM223.9 245.0A94.6 94.6 0 0 1 224.5 246.2L219.1 249.0A88.5 88.5 0 0 0 218.5 247.9ZM224.7 246.7A94.6 94.6 0 0 1 225.3 247.7L219.8 250.4A88.5 88.5 0 0 0 219.3 249.4ZM226.5 250.3A94.6 94.6 0 0 1 226.7 250.7L221.1 253.2A88.5 88.5 0 0 0 220.9 252.8ZM226.9 251.2A94.6 94.6 0 0 1 227.2 251.8L221.6 254.3A88.5 88.5 0 0 0 221.3 253.7ZM230.0 259.1A94.6 94.6 0 0 1 230.4 260.1L224.6 262.0A88.5 88.5 0 0 0 224.2 261.0ZM230.6 261.0A94.6 94.6 0 0 1 230.9 261.7L225.0 263.5A88.5 88.5 0 0 0 224.8 262.8ZM231.5 263.7A94.6 94.6 0 0 1 231.8 265.0L225.9 266.6A88.5 88.5 0 0 0 225.6 265.4ZM233.4 271.6A94.6 94.6 0 0 1 233.5 272.4L227.5 273.5A88.5 88.5 0 0 0 227.4 272.8ZM234.8 282.4A94.6 94.6 0 0 1 234.9 283.3L228.8 283.7A88.5 88.5 0 0 0 228.7 282.9ZM235.1 287.4A94.6 94.6 0 0 1 235.1 288.8L229.0 288.9A88.5 88.5 0 0 0 229.0 287.5ZM235.1 290.1A94.6 94.6 0 0 1 235.1 291.0L229.0 290.9A88.5 88.5 0 0 0 229.0 290.1ZM235.1 292.7A94.6 94.6 0 0 1 235.0 293.7L228.9 293.4A88.5 88.5 0 0 0 229.0 292.5ZM234.8 297.4A94.6 94.6 0 0 1 234.7 298.0L228.7 297.4A88.5 88.5 0 0 0 228.7 296.9ZM234.7 298.6A94.6 94.6 0 0 1 234.5 300.0L228.5 299.3A88.5 88.5 0 0 0 228.6 298.0ZM234.2 302.9A94.6 94.6 0 0 1 234.0 303.8L228.0 302.9A88.5 88.5 0 0 0 228.1 302.0ZM232.1 313.5A94.6 94.6 0 0 1 231.8 314.3L226.0 312.7A88.5 88.5 0 0 0 226.2 311.9ZM229.8 320.9A94.6 94.6 0 0 1 229.6 321.4L223.9 319.4A88.5 88.5 0 0 0 224.0 318.9ZM229.3 322.2A94.6 94.6 0 0 1 228.9 323.4L223.2 321.3A88.5 88.5 0 0 0 223.6 320.1ZM228.1 325.4A94.6 94.6 0 0 1 227.8 326.0L222.2 323.7A88.5 88.5 0 0 0 222.4 323.1ZM227.7 326.4A94.6 94.6 0 0 1 227.2 327.5L221.6 325.0A88.5 88.5 0 0 0 222.1 324.0ZM227.0 328.0A94.6 94.6 0 0 1 226.4 329.2L220.9 326.7A88.5 88.5 0 0 0 221.4 325.6ZM224.7 332.8A94.6 94.6 0 0 1 224.3 333.6L218.9 330.8A88.5 88.5 0 0 0 219.3 330.0ZM224.2 333.9A94.6 94.6 0 0 1 223.7 334.7L218.3 331.8A88.5 88.5 0 0 0 218.8 331.0ZM222.1 337.6A94.6 94.6 0 0 1 221.6 338.4L216.4 335.2A88.5 88.5 0 0 0 216.8 334.5ZM219.4 341.9A94.6 94.6 0 0 1 219.1 342.3L214.0 338.9A88.5 88.5 0 0 0 214.3 338.5ZM216.5 346.0A94.6 94.6 0 0 1 216.0 346.7L211.1 343.0A88.5 88.5 0 0 0 211.6 342.3ZM214.2 349.0A94.6 94.6 0 0 1 213.8 349.5L209.1 345.6A88.5 88.5 0 0 0 209.5 345.2ZM213.6 349.7A94.6 94.6 0 0 1 213.1 350.3L208.4 346.4A88.5 88.5 0 0 0 208.9 345.8ZM211.3 352.5A94.6 94.6 0 0 1 210.7 353.1L206.2 349.0A88.5 88.5 0 0 0 206.7 348.4ZM209.7 354.2A94.6 94.6 0 0 1 208.9 355.0L204.5 350.8A88.5 88.5 0 0 0 205.2 350.1ZM208.6 355.3A94.6 94.6 0 0 1 207.7 356.3L203.4 352.0A88.5 88.5 0 0 0 204.2 351.1ZM206.4 357.6A94.6 94.6 0 0 1 205.4 358.5L201.2 354.1A88.5 88.5 0 0 0 202.1 353.2ZM202.5 361.2A94.6 94.6 0 0 1 201.5 362.0L197.6 357.3A88.5 88.5 0 0 0 198.5 356.6ZM201.4 362.1A94.6 94.6 0 0 1 200.4 362.9L196.6 358.2A88.5 88.5 0 0 0 197.5 357.4ZM200.0 363.3A94.6 94.6 0 0 1 199.6 363.6L195.8 358.8A88.5 88.5 0 0 0 196.2 358.5ZM193.8 367.8A94.6 94.6 0 0 1 192.8 368.5L189.4 363.5A88.5 88.5 0 0 0 190.4 362.8ZM191.5 369.4A94.6 94.6 0 0 1 191.1 369.6L187.8 364.5A88.5 88.5 0 0 0 188.2 364.3ZM186.7 372.3A94.6 94.6 0 0 1 185.4 373.0L182.5 367.6A88.5 88.5 0 0 0 183.7 367.0ZM184.6 373.4A94.6 94.6 0 0 1 184.0 373.7L181.2 368.3A88.5 88.5 0 0 0 181.8 368.0ZM183.4 374.0A94.6 94.6 0 0 1 182.7 374.4L179.9 368.9A88.5 88.5 0 0 0 180.7 368.6ZM181.3 375.1A94.6 94.6 0 0 1 180.5 375.4L177.9 369.9A88.5 88.5 0 0 0 178.7 369.6ZM176.0 377.4A94.6 94.6 0 0 1 175.2 377.7L172.9 372.0A88.5 88.5 0 0 0 173.7 371.7ZM172.9 378.6A94.6 94.6 0 0 1 171.6 379.0L169.6 373.3A88.5 88.5 0 0 0 170.8 372.8ZM168.3 380.1A94.6 94.6 0 0 1 167.1 380.5L165.4 374.6A88.5 88.5 0 0 0 166.5 374.3ZM166.2 380.7A94.6 94.6 0 0 1 164.9 381.1L163.3 375.2A88.5 88.5 0 0 0 164.6 374.9ZM164.2 381.3A94.6 94.6 0 0 1 163.0 381.6L161.5 375.7A88.5 88.5 0 0 0 162.6 375.4ZM156.4 382.9A94.6 94.6 0 0 1 155.4 383.1L154.5 377.1A88.5 88.5 0 0 0 155.4 376.9ZM155.0 383.2A94.6 94.6 0 0 1 153.5 383.4L152.7 377.4A88.5 88.5 0 0 0 154.1 377.2ZM151.5 383.7A94.6 94.6 0 0 1 150.4 383.8L149.8 377.7A88.5 88.5 0 0 0 150.8 377.6ZM147.9 384.0A94.6 94.6 0 0 1 146.5 384.1L146.1 378.0A88.5 88.5 0 0 0 147.4 377.9ZM146.0 384.1A94.6 94.6 0 0 1 144.5 384.2L144.3 378.1A88.5 88.5 0 0 0 145.6 378.1ZM135.3 384.2A94.6 94.6 0 0 1 134.7 384.1L135.1 378.0A88.5 88.5 0 0 0 135.6 378.1ZM134.5 384.1A94.6 94.6 0 0 1 133.5 384.0L134.0 378.0A88.5 88.5 0 0 0 134.9 378.0ZM133.4 384.0A94.6 94.6 0 0 1 132.0 383.9L132.5 377.8A88.5 88.5 0 0 0 133.8 377.9ZM129.9 383.7A94.6 94.6 0 0 1 128.8 383.6L129.6 377.5A88.5 88.5 0 0 0 130.6 377.6ZM119.5 381.9A94.6 94.6 0 0 1 118.6 381.7L120.0 375.8A88.5 88.5 0 0 0 120.8 376.0ZM117.6 381.5A94.6 94.6 0 0 1 116.9 381.3L118.5 375.4A88.5 88.5 0 0 0 119.1 375.6ZM109.8 379.2A94.6 94.6 0 0 1 108.9 378.9L111.0 373.1A88.5 88.5 0 0 0 111.7 373.4ZM107.6 378.4A94.6 94.6 0 0 1 106.6 378.0L108.8 372.3A88.5 88.5 0 0 0 109.8 372.7ZM106.4 377.9A94.6 94.6 0 0 1 105.4 377.6L107.7 371.9A88.5 88.5 0 0 0 108.6 372.3ZM103.7 376.9A94.6 94.6 0 0 1 102.6 376.4L105.1 370.8A88.5 88.5 0 0 0 106.1 371.2ZM100.9 375.6A94.6 94.6 0 0 1 100.2 375.3L102.8 369.8A88.5 88.5 0 0 0 103.5 370.1ZM99.9 375.1A94.6 94.6 0 0 1 99.0 374.7L101.6 369.2A88.5 88.5 0 0 0 102.5 369.6ZM98.7 374.5A94.6 94.6 0 0 1 97.6 374.0L100.3 368.6A88.5 88.5 0 0 0 101.4 369.1ZM95.1 372.7A94.6 94.6 0 0 1 94.4 372.3L97.4 367.0A88.5 88.5 0 0 0 98.1 367.4ZM93.3 371.7A94.6 94.6 0 0 1 92.3 371.1L95.4 365.9A88.5 88.5 0 0 0 96.3 366.4ZM92.0 370.9A94.6 94.6 0 0 1 91.3 370.5L94.5 365.3A88.5 88.5 0 0 0 95.2 365.7ZM86.3 367.2A94.6 94.6 0 0 1 85.4 366.6L88.9 361.6A88.5 88.5 0 0 0 89.8 362.2ZM83.6 365.3A94.6 94.6 0 0 1 83.0 364.8L86.7 360.0A88.5 88.5 0 0 0 87.3 360.4ZM82.1 364.1A94.6 94.6 0 0 1 81.5 363.6L85.3 358.8A88.5 88.5 0 0 0 85.8 359.3ZM78.8 361.4A94.6 94.6 0 0 1 78.4 361.1L82.4 356.5A88.5 88.5 0 0 0 82.8 356.8ZM73.4 356.4A94.6 94.6 0 0 1 72.9 355.8L77.2 351.6A88.5 88.5 0 0 0 77.8 352.1ZM72.5 355.5A94.6 94.6 0 0 1 72.2 355.1L76.6 350.9A88.5 88.5 0 0 0 76.9 351.3ZM63.7 344.9A94.6 94.6 0 0 1 63.3 344.4L68.3 340.9A88.5 88.5 0 0 0 68.7 341.4ZM61.9 342.3A94.6 94.6 0 0 1 61.6 341.8L66.7 338.5A88.5 88.5 0 0 0 67.0 339.0ZM60.3 339.9A94.6 94.6 0 0 1 59.8 339.1L65.0 335.9A88.5 88.5 0 0 0 65.5 336.7ZM58.0 336.1A94.6 94.6 0 0 1 57.8 335.6L63.1 332.7A88.5 88.5 0 0 0 63.4 333.1ZM57.3 334.8A94.6 94.6 0 0 1 57.1 334.3L62.5 331.4A88.5 88.5 0 0 0 62.7 331.9ZM57.0 334.1A94.6 94.6 0 0 1 56.4 333.0L61.8 330.3A88.5 88.5 0 0 0 62.4 331.3ZM56.3 332.8A94.6 94.6 0 0 1 56.0 332.2L61.4 329.4A88.5 88.5 0 0 0 61.7 330.0ZM53.4 326.7A94.6 94.6 0 0 1 53.0 325.6L58.6 323.3A88.5 88.5 0 0 0 59.0 324.3ZM52.7 325.0A94.6 94.6 0 0 1 52.3 323.9L58.0 321.7A88.5 88.5 0 0 0 58.4 322.8ZM50.0 317.4A94.6 94.6 0 0 1 49.8 316.4L55.6 314.7A88.5 88.5 0 0 0 55.9 315.6ZM49.5 315.6A94.6 94.6 0 0 1 49.3 314.7L55.2 313.1A88.5 88.5 0 0 0 55.4 313.9ZM47.7 308.2A94.6 94.6 0 0 1 47.6 307.3L53.5 306.2A88.5 88.5 0 0 0 53.7 307.0ZM46.4 299.1A94.6 94.6 0 0 1 46.3 298.5L52.4 297.9A88.5 88.5 0 0 0 52.4 298.5ZM46.0 294.8A94.6 94.6 0 0 1 46.0 294.0L52.1 293.8A88.5 88.5 0 0 0 52.1 294.5ZM45.9 290.0A94.6 94.6 0 0 1 45.9 289.1L52.0 289.1A88.5 88.5 0 0 0 52.0 290.0ZM45.9 288.7A94.6 94.6 0 0 1 45.9 287.2L52.0 287.4A88.5 88.5 0 0 0 52.0 288.8ZM45.9 286.9A94.6 94.6 0 0 1 46.0 286.5L52.1 286.7A88.5 88.5 0 0 0 52.0 287.1ZM46.0 286.0A94.6 94.6 0 0 1 46.0 284.8L52.1 285.1A88.5 88.5 0 0 0 52.1 286.3ZM47.7 271.5A94.6 94.6 0 0 1 47.8 271.0L53.7 272.2A88.5 88.5 0 0 0 53.7 272.7ZM47.9 270.4A94.6 94.6 0 0 1 48.2 269.0L54.1 270.4A88.5 88.5 0 0 0 53.9 271.7ZM49.3 264.7A94.6 94.6 0 0 1 49.4 264.1L55.3 265.7A88.5 88.5 0 0 0 55.2 266.3ZM50.2 261.4A94.6 94.6 0 0 1 50.5 260.6L56.3 262.5A88.5 88.5 0 0 0 56.0 263.3ZM51.8 256.7A94.6 94.6 0 0 1 52.0 256.2L57.7 258.4A88.5 88.5 0 0 0 57.6 258.9ZM52.9 253.9A94.6 94.6 0 0 1 53.1 253.5L58.7 255.8A88.5 88.5 0 0 0 58.6 256.2ZM53.4 252.9A94.6 94.6 0 0 1 53.6 252.3L59.2 254.7A88.5 88.5 0 0 0 59.0 255.3ZM54.3 250.8A94.6 94.6 0 0 1 54.5 250.2L60.1 252.8A88.5 88.5 0 0 0 59.8 253.3ZM54.7 249.9A94.6 94.6 0 0 1 55.0 249.2L60.5 251.8A88.5 88.5 0 0 0 60.2 252.5ZM55.1 248.9A94.6 94.6 0 0 1 55.5 248.2L61.0 250.9A88.5 88.5 0 0 0 60.7 251.5ZM57.0 245.3A94.6 94.6 0 0 1 57.5 244.2L62.9 247.2A88.5 88.5 0 0 0 62.4 248.1ZM58.2 243.0A94.6 94.6 0 0 1 58.8 242.0L64.1 245.1A88.5 88.5 0 0 0 63.5 246.0ZM63.1 235.3A94.6 94.6 0 0 1 63.6 234.6L68.6 238.1A88.5 88.5 0 0 0 68.1 238.8ZM65.7 231.8A94.6 94.6 0 0 1 66.2 231.1L71.0 234.9A88.5 88.5 0 0 0 70.5 235.5ZM67.0 230.2A94.6 94.6 0 0 1 67.8 229.2L72.5 233.1A88.5 88.5 0 0 0 71.7 234.0ZM69.9 226.7A94.6 94.6 0 0 1 70.6 226.0L75.1 230.1A88.5 88.5 0 0 0 74.5 230.8ZM75.0 221.4A94.6 94.6 0 0 1 76.0 220.5L80.2 224.9A88.5 88.5 0 0 0 79.2 225.8ZM77.4 219.2A94.6 94.6 0 0 1 78.5 218.2L82.5 222.8A88.5 88.5 0 0 0 81.5 223.8ZM81.5 215.8A94.6 94.6 0 0 1 82.0 215.3L85.8 220.1A88.5 88.5 0 0 0 85.3 220.5ZM88.0 211.0A94.6 94.6 0 0 1 88.9 210.4L92.2 215.5A88.5 88.5 0 0 0 91.4 216.1ZM106.1 201.6A94.6 94.6 0 0 1 106.8 201.3L109.0 207.0A88.5 88.5 0 0 0 108.3 207.2ZM112.2 199.4A94.6 94.6 0 0 1 113.3 199.1L115.0 204.9A88.5 88.5 0 0 0 114.0 205.3Z" fill="#ee7840" fill-opacity="0.7"/>
<path d="M148.6 195.4A94.6 94.6 0 0 1 149.1 195.5L148.6 201.6A88.5 88.5 0 0 0 148.1 201.5ZM164.2 198.1A94.6 94.6 0 0 1 165.0 198.3L163.4 204.2A88.5 88.5 0 0 0 162.7 204.0ZM165.5 198.5A94.6 94.6 0 0 1 166.9 198.8L165.2 204.7A88.5 88.5 0 0 0 163.9 204.3ZM169.6 199.7A94.6 94.6 0 0 1 170.7 200.0L168.7 205.8A88.5 88.5 0 0 0 167.7 205.5ZM194.2 211.8A94.6 94.6 0 0 1 195.3 212.6L191.8 217.6A88.5 88.5 0 0 0 190.7 216.8ZM203.1 218.8A94.6 94.6 0 0 1 203.9 219.4L199.8 224.0A88.5 88.5 0 0 0 199.1 223.3ZM217.7 235.0A94.6 94.6 0 0 1 218.3 235.9L213.3 239.4A88.5 88.5 0 0 0 212.7 238.5ZM230.9 262.0A94.6 94.6 0 0 1 231.2 262.8L225.3 264.5A88.5 88.5 0 0 0 225.1 263.8ZM232.3 266.8A94.6 94.6 0 0 1 232.6 268.1L226.7 269.5A88.5 88.5 0 0 0 226.4 268.3ZM233.6 273.0A94.6 94.6 0 0 1 233.7 273.7L227.7 274.7A88.5 88.5 0 0 0 227.6 274.0ZM234.6 280.4A94.6 94.6 0 0 1 234.7 280.9L228.6 281.5A88.5 88.5 0 0 0 228.6 281.0ZM235.0 294.4A94.6 94.6 0 0 1 234.9 295.3L228.8 294.9A88.5 88.5 0 0 0 228.9 294.1ZM234.5 300.6A94.6 94.6 0 0 1 234.3 301.9L228.3 301.1A88.5 88.5 0 0 0 228.4 299.9ZM234.0 304.0A94.6 94.6 0 0 1 233.8 305.2L227.8 304.2A88.5 88.5 0 0 0 228.0 303.1ZM230.4 319.3A94.6 94.6 0 0 1 230.2 319.7L224.4 317.8A88.5 88.5 0 0 0 224.6 317.4ZM230.1 320.0A94.6 94.6 0 0 1 229.9 320.7L224.1 318.7A88.5 88.5 0 0 0 224.3 318.0ZM226.3 329.6A94.6 94.6 0 0 1 225.9 330.3L220.4 327.7A88.5 88.5 0 0 0 220.7 327.0ZM225.5 331.2A94.6 94.6 0 0 1 225.2 331.8L219.8 329.1A88.5 88.5 0 0 0 220.0 328.6ZM222.8 336.3A94.6 94.6 0 0 1 222.4 337.0L217.1 333.9A88.5 88.5 0 0 0 217.5 333.3ZM207.3 356.7A94.6 94.6 0 0 1 206.8 357.2L202.5 352.8A88.5 88.5 0 0 0 203.0 352.4ZM189.5 370.6A94.6 94.6 0 0 1 188.9 371.0L185.8 365.7A88.5 88.5 0 0 0 186.3 365.4ZM182.6 374.4A94.6 94.6 0 0 1 181.5 374.9L178.9 369.4A88.5 88.5 0 0 0 179.9 369.0ZM178.9 376.2A94.6 94.6 0 0 1 178.5 376.3L176.1 370.7A88.5 88.5 0 0 0 176.4 370.6ZM177.7 376.7A94.6 94.6 0 0 1 176.6 377.1L174.3 371.5A88.5 88.5 0 0 0 175.3 371.1ZM174.6 377.9A94.6 94.6 0 0 1 173.3 378.4L171.1 372.7A88.5 88.5 0 0 0 172.4 372.2ZM102.5 376.3A94.6 94.6 0 0 1 101.3 375.8L103.8 370.2A88.5 88.5 0 0 0 105.0 370.7ZM91.2 370.4A94.6 94.6 0 0 1 90.5 370.0L93.7 364.8A88.5 88.5 0 0 0 94.4 365.2ZM79.3 361.8A94.6 94.6 0 0 1 78.9 361.5L82.9 356.9A88.5 88.5 0 0 0 83.2 357.2ZM62.8 343.7A94.6 94.6 0 0 1 62.3 342.9L67.3 339.5A88.5 88.5 0 0 0 67.8 340.2ZM59.3 338.2A94.6 94.6 0 0 1 58.7 337.2L64.0 334.1A88.5 88.5 0 0 0 64.5 335.0ZM58.6 337.1A94.6 94.6 0 0 1 58.1 336.2L63.4 333.2A88.5 88.5 0 0 0 63.9 334.0ZM52.0 323.0A94.6 94.6 0 0 1 51.7 322.2L57.4 320.1A88.5 88.5 0 0 0 57.7 320.9ZM51.4 321.5A94.6 94.6 0 0 1 51.0 320.2L56.7 318.3A88.5 88.5 0 0 0 57.1 319.4ZM46.3 298.1A94.6 94.6 0 0 1 46.2 297.1L52.3 296.6A88.5 88.5 0 0 0 52.3 297.5ZM46.1 296.5A94.6 94.6 0 0 1 46.1 295.8L52.2 295.4A88.5 88.5 0 0 0 52.2 296.1ZM45.9 291.9A94.6 94.6 0 0 1 45.9 290.5L52.0 290.5A88.5 88.5 0 0 0 52.0 291.8ZM46.1 283.1A94.6 94.6 0 0 1 46.2 282.4L52.3 282.9A88.5 88.5 0 0 0 52.2 283.5ZM47.0 275.6A94.6 94.6 0 0 1 47.0 275.0L53.1 276.0A88.5 88.5 0 0 0 53.0 276.5ZM47.1 274.9A94.6 94.6 0 0 1 47.3 273.7L53.3 274.7A88.5 88.5 0 0 0 53.1 275.9ZM48.4 268.1A94.6 94.6 0 0 1 48.6 267.4L54.5 268.8A88.5 88.5 0 0 0 54.3 269.5ZM49.6 263.5A94.6 94.6 0 0 1 49.8 262.9L55.6 264.6A88.5 88.5 0 0 0 55.5 265.2ZM52.2 255.8A94.6 94.6 0 0 1 52.7 254.5L58.4 256.7A88.5 88.5 0 0 0 57.9 258.0ZM58.9 241.8A94.6 94.6 0 0 1 59.4 241.1L64.6 244.2A88.5 88.5 0 0 0 64.2 244.9ZM64.1 233.9A94.6 94.6 0 0 1 64.8 232.9L69.7 236.6A88.5 88.5 0 0 0 69.0 237.5ZM93.2 207.8A94.6 94.6 0 0 1 93.8 207.4L96.8 212.7A88.5 88.5 0 0 0 96.2 213.1ZM94.2 207.2A94.6 94.6 0 0 1 95.1 206.7L98.0 212.1A88.5 88.5 0 0 0 97.1 212.5Z" fill="#f4a468" fill-opacity="0.8"/>
<text transform="translate(142.6,190.9) rotate(1.0)" font-size="2.7" text-anchor="start" fill="#333" stroke="none">0Mb</text>
<text transform="translate(160.5,192.9) rotate(11.7)" font-size="2.7" text-anchor="middle" fill="#333" stroke="none">90Mb</text>
<text transform="translate(184.4,201.2) rotate(26.2)" font-size="2.7" text-anchor="start" fill="#333" stroke="none">0Mb</text>
<text transform="translate(199.3,210.3) rotate(36.5)" font-size="2.7" text-anchor="middle" fill="#333" stroke="none">90Mb</text>
<text transform="translate(215.4,225.3) rotate(49.1)" font-size="2.7" text-anchor="start" fill="#333" stroke="none">0Mb</text>
<text transform="translate(225.6,239.5) rotate(59.5)" font-size="2.7" text-anchor="middle" fill="#333" stroke="none">90Mb</text>
<text transform="translate(233.2,255.4) rotate(69.5)" font-size="2.7" text-anchor="start" fill="#333" stroke="none">0Mb</text>
<text transform="translate(237.6,271.4) rotate(79.3)" font-size="2.7" text-anchor="middle" fill="#333" stroke="none">90Mb</text>
<text transform="translate(239.3,287.6) rotate(88.6)" font-size="2.7" text-anchor="start" fill="#333" stroke="none">0Mb</text>
<text transform="translate(238.2,304.1) rotate(98.4)" font-size="2.7" text-anchor="middle" fill="#333" stroke="none">90Mb</text>
<text transform="translate(234.8,319.1) rotate(107.1)" font-size="2.7" text-anchor="start" fill="#333" stroke="none">0Mb</text>
<text transform="translate(228.1,335.4) rotate(117.6)" font-size="2.7" text-anchor="middle" fill="#333" stroke="none">90Mb</text>
<text transform="translate(219.7,348.7) rotate(126.5)" font-size="2.7" text-anchor="start" fill="#333" stroke="none">0Mb</text>
<text transform="translate(207.7,362.1) rotate(137.1)" font-size="2.7" text-anchor="middle" fill="#333" stroke="none">90Mb</text>
<text transform="translate(195.9,371.5) rotate(145.7)" font-size="2.7" text-anchor="start" fill="#333" stroke="none">0Mb</text>
<text transform="translate(180.3,380.1) rotate(156.3)" font-size="2.7" text-anchor="middle" fill="#333" stroke="none">90Mb</text>
<text transform="translate(169.2,384.2) rotate(162.9)" font-size="2.7" text-anchor="start" fill="#333" stroke="none">0Mb</text>
<text transform="translate(150.4,388.0) rotate(174.2)" font-size="2.7" text-anchor="middle" fill="#333" stroke="none">90Mb</text>
<text transform="translate(139.1,388.5) rotate(180.6)" font-size="2.7" text-anchor="start" fill="#333" stroke="none">0Mb</text>
<text transform="translate(122.1,386.8) rotate(190.7)" font-size="2.7" text-anchor="middle" fill="#333" stroke="none">90Mb</text>
<text transform="translate(110.8,383.9) rotate(197.3)" font-size="2.7" text-anchor="start" fill="#333" stroke="none">0Mb</text>
<text transform="translate(93.8,376.8) rotate(208.2)" font-size="2.7" text-anchor="middle" fill="#333" stroke="none">90Mb</text>
<text transform="translate(84.8,371.3) rotate(214.1)" font-size="2.7" text-anchor="start" fill="#333" stroke="none">0Mb</text>
<text transform="translate(70.6,359.5) rotate(225.0)" font-size="2.7" text-anchor="middle" fill="#333" stroke="none">90Mb</text>
<text transform="translate(63.8,352.0) rotate(230.7)" font-size="2.7" text-anchor="start" fill="#333" stroke="none">0Mb</text>
<text transform="translate(53.8,337.0) rotate(241.4)" font-size="2.7" text-anchor="middle" fill="#333" stroke="none">90Mb</text>
<text transform="translate(49.4,328.0) rotate(247.0)" font-size="2.7" text-anchor="start" fill="#333" stroke="none">0Mb</text>
<text transform="translate(44.0,310.9) rotate(257.6)" font-size="2.7" text-anchor="middle" fill="#333" stroke="none">90Mb</text>
<text transform="translate(42.3,300.2) rotate(263.7)" font-size="2.7" text-anchor="start" fill="#333" stroke="none">0Mb</text>
<text transform="translate(42.5,276.8) rotate(277.3)" font-size="2.7" text-anchor="start" fill="#333" stroke="none">0Mb</text>
<text transform="translate(48.0,254.9) rotate(290.4)" font-size="2.7" text-anchor="start" fill="#333" stroke="none">0Mb</text>
<text transform="translate(58.7,234.3) rotate(303.9)" font-size="2.7" text-anchor="start" fill="#333" stroke="none">0Mb</text>
<text transform="translate(72.4,218.2) rotate(316.2)" font-size="2.7" text-anchor="start" fill="#333" stroke="none">0Mb</text>
<text transform="translate(84.8,208.1) rotate(325.5)" font-size="2.7" text-anchor="start" fill="#333" stroke="none">0Mb</text>
<text transform="translate(100.7,199.3) rotate(336.2)" font-size="2.7" text-anchor="middle" fill="#333" stroke="none">90Mb</text>
<text transform="translate(120.1,193.0) rotate(347.9)" font-size="2.7" text-anchor="start" fill="#333" stroke="none">0Mb</text>
<path d="M142.2 191.7A98.0 98.0 0 0 1 180.7 200.3M142.2 191.7L142.2 190.7M151.3 192.3L151.4 191.3M160.3 193.7L160.5 192.8M169.2 196.0L169.5 195.0M177.8 199.1L178.2 198.1M183.8 201.8A98.0 98.0 0 0 1 212.3 223.0M183.8 201.8L184.2 200.9M191.5 206.0L192.0 205.2M198.8 211.0L199.4 210.1M205.7 216.5L206.4 215.8M212.0 222.7L212.7 222.0M214.6 225.5A98.0 98.0 0 0 1 231.0 252.2M214.6 225.5L215.3 224.9M220.1 232.5L220.9 231.9M224.9 239.9L225.8 239.4M229.0 247.7L229.9 247.3M232.3 255.4A98.0 98.0 0 0 1 238.3 283.9M232.3 255.4L233.2 255.0M234.9 263.4L235.9 263.1M236.8 271.6L237.8 271.4M238.0 279.9L239.0 279.8M238.5 287.3A98.0 98.0 0 0 1 235.1 315.2M238.5 287.3L239.5 287.3M238.3 295.7L239.3 295.7M237.5 304.0L238.4 304.1M235.9 312.2L236.9 312.4M234.2 318.5A98.0 98.0 0 0 1 221.3 345.2M234.2 318.5L235.1 318.8M231.2 326.9L232.1 327.3M227.4 335.0L228.3 335.5M222.9 342.8L223.7 343.3M219.3 348.0A98.0 98.0 0 0 1 198.5 368.7M219.3 348.0L220.1 348.6M213.5 355.0L214.3 355.7M207.2 361.5L207.8 362.3M200.2 367.4L200.8 368.2M195.7 370.7A98.0 98.0 0 0 1 172.6 382.3M195.7 370.7L196.3 371.5M188.0 375.4L188.5 376.3M179.9 379.4L180.3 380.3M169.3 383.4A98.0 98.0 0 0 1 142.9 387.7M169.3 383.4L169.6 384.3M159.9 385.8L160.1 386.7M150.3 387.2L150.4 388.2M139.5 387.7A98.0 98.0 0 0 1 114.6 384.2M139.5 387.7L139.5 388.7M130.8 387.2L130.7 388.2M122.3 386.0L122.1 387.0M111.4 383.3A98.0 98.0 0 0 1 88.4 372.7M111.4 383.3L111.1 384.2M102.6 380.1L102.2 381.0M94.2 376.1L93.7 376.9M85.6 370.8A98.0 98.0 0 0 1 66.9 354.4M85.6 370.8L85.0 371.7M78.1 365.2L77.4 366.0M71.2 358.9L70.4 359.7M64.7 351.8A98.0 98.0 0 0 1 51.7 331.1M64.7 351.8L63.9 352.4M59.2 344.4L58.4 345.0M54.5 336.6L53.6 337.1M50.3 328.0A98.0 98.0 0 0 1 43.5 303.8M50.3 328.0L49.4 328.4M47.1 319.5L46.2 319.8M44.8 310.8L43.8 311.0M43.1 300.5A98.0 98.0 0 0 1 42.9 280.6M43.1 300.5L42.1 300.6M42.5 291.9L41.5 291.9M42.7 283.3L41.7 283.2M43.3 277.2A98.0 98.0 0 0 1 47.5 258.8M43.3 277.2L42.3 277.1M44.8 268.7L43.8 268.5M47.0 260.3L46.1 260.0M48.6 255.5A98.0 98.0 0 0 1 57.3 237.9M48.6 255.5L47.7 255.2M52.3 247.0L51.4 246.5M56.8 238.8L55.9 238.3M59.2 235.0A98.0 98.0 0 0 1 70.2 221.4M59.2 235.0L58.3 234.5M64.4 228.0L63.6 227.4M70.1 221.5L69.4 220.8M72.7 219.0A98.0 98.0 0 0 1 82.2 210.9M72.7 219.0L72.0 218.2M79.6 213.0L78.9 212.2M85.0 208.9A98.0 98.0 0 0 1 116.6 194.7M85.0 208.9L84.4 208.1M92.8 204.1L92.3 203.2M101.0 200.0L100.6 199.1M109.6 196.7L109.3 195.8M120.0 193.9A98.0 98.0 0 0 1 138.8 191.7M120.0 193.9L119.7 192.9M129.1 192.4L129.0 191.4M138.4 191.7L138.4 190.7" stroke="#111" stroke-width="0.42" fill="none"/>
<text transform="translate(163.0,189.2) rotate(12.6)" font-size="7" text-anchor="middle">Chr1</text>
<text transform="translate(202.0,207.1) rotate(36.6)" font-size="7" text-anchor="middle">Chr2</text>
<text transform="translate(228.1,235.6) rotate(58.3)" font-size="7" text-anchor="middle">Chr3</text>
<text transform="translate(241.3,268.4) rotate(78.0)" font-size="7" text-anchor="middle">Chr4</text>
<text transform="translate(242.8,302.0) rotate(96.8)" font-size="7" text-anchor="middle">Chr5</text>
<text transform="translate(233.2,334.5) rotate(115.8)" font-size="7" text-anchor="middle">Chr6</text>
<text transform="translate(213.2,362.7) rotate(135.1)" font-size="7" text-anchor="middle">Chr7</text>
<text transform="translate(186.8,381.7) rotate(153.3)" font-size="7" text-anchor="middle">Chr8</text>
<text transform="translate(157.1,391.4) rotate(170.8)" font-size="7" text-anchor="middle">Chr9</text>
<text transform="translate(126.3,391.7) rotate(187.9)" font-size="7" text-anchor="middle">Chr10</text>
<text transform="translate(97.5,383.3) rotate(204.7)" font-size="7" text-anchor="middle">Chr11</text>
<text transform="translate(72.4,367.0) rotate(221.4)" font-size="7" text-anchor="middle">Chr12</text>
<text transform="translate(53.3,344.5) rotate(237.8)" font-size="7" text-anchor="middle">Chr13</text>
<text transform="translate(41.3,317.5) rotate(254.3)" font-size="7" text-anchor="middle">Chr14</text>
<text transform="translate(37.5,290.6) rotate(269.5)" font-size="7" text-anchor="middle">Chr15</text>
<text transform="translate(40.1,266.8) rotate(282.9)" font-size="7" text-anchor="middle">Chr16</text>
<text transform="translate(48.0,244.3) rotate(296.1)" font-size="7" text-anchor="middle">Chr17</text>
<text transform="translate(60.5,224.8) rotate(309.0)" font-size="7" text-anchor="middle">Chr18</text>
<text transform="translate(74.1,211.0) rotate(319.9)" font-size="7" text-anchor="middle">Chr19</text>
<text transform="translate(98.1,195.8) rotate(335.7)" font-size="7" text-anchor="middle">ChrX</text>
<text transform="translate(128.8,187.4) rotate(353.4)" font-size="7" text-anchor="middle">ChrY</text>
<path d="M141.9 208.7A81.0 81.0 0 0 1 142.6 208.7L142.9 207.1L143.2 208.7A81.0 81.0 0 0 1 144.2 208.8L144.6 207.4L144.8 208.8A81.0 81.0 0 0 1 145.9 208.9L146.3 207.0L146.5 208.9A81.0 81.0 0 0 1 147.5 209.0L148.0 207.4L148.1 209.1A81.0 81.0 0 0 1 149.1 209.2L149.7 206.7L149.7 209.2A81.0 81.0 0 0 1 150.8 209.4L151.2 208.2L151.4 209.4A81.0 81.0 0 0 1 152.4 209.6L152.9 208.3L153.0 209.7A81.0 81.0 0 0 1 154.0 209.8L154.5 208.9L154.6 209.9A81.0 81.0 0 0 1 155.3 210.1L155.7 209.5L155.9 210.2A81.0 81.0 0 0 1 161.7 211.5L162.1 211.1L162.3 211.7A81.0 81.0 0 0 1 165.8 212.7L166.4 211.9L166.4 212.9A81.0 81.0 0 0 1 168.9 213.8L169.8 212.3L169.4 214.0A81.0 81.0 0 0 1 170.4 214.4L170.9 214.0L171.0 214.6A81.0 81.0 0 0 1 173.7 215.8M176.3 217.0A81.0 81.0 0 0 1 177.3 217.5L178.2 216.5L177.8 217.8A81.0 81.0 0 0 1 178.1 218.0L179.2 216.5L178.6 218.2A81.0 81.0 0 0 1 178.9 218.4L179.7 217.6L179.4 218.7A81.0 81.0 0 0 1 188.6 224.5L189.3 224.2L189.1 224.9A81.0 81.0 0 0 1 199.0 233.7L199.7 233.5L199.4 234.1A81.0 81.0 0 0 1 199.8 234.6M201.7 236.7A81.0 81.0 0 0 1 203.2 238.4L203.8 238.3L203.6 238.9A81.0 81.0 0 0 1 209.5 247.3L211.0 246.8L209.8 247.8A81.0 81.0 0 0 1 210.1 248.2L213.6 246.5L210.4 248.7A81.0 81.0 0 0 1 210.6 249.1L212.1 248.6L210.9 249.6A81.0 81.0 0 0 1 214.8 257.5L215.9 257.3L215.0 258.0A81.0 81.0 0 0 1 215.3 258.7M216.4 261.3A81.0 81.0 0 0 1 216.7 262.2L218.3 261.9L216.9 262.8A81.0 81.0 0 0 1 217.8 265.6L219.7 265.4L218.0 266.2A81.0 81.0 0 0 1 219.0 269.8L220.6 269.7L219.2 270.4A81.0 81.0 0 0 1 219.9 273.8L222.2 273.7L220.0 274.4A81.0 81.0 0 0 1 220.5 276.9L221.5 277.1L220.6 277.5A81.0 81.0 0 0 1 220.8 279.3L223.4 279.3L220.9 279.9A81.0 81.0 0 0 1 221.0 280.5L223.9 280.5L221.0 281.1A81.0 81.0 0 0 1 221.1 281.5L223.6 281.5L221.1 282.1A81.0 81.0 0 0 1 221.2 282.4L224.3 282.5L221.2 283.0A81.0 81.0 0 0 1 221.3 283.4L224.6 283.4L221.3 284.0A81.0 81.0 0 0 1 221.3 284.2L224.1 284.4L221.4 284.8A81.0 81.0 0 0 1 221.4 284.9M221.5 287.7A81.0 81.0 0 0 1 221.5 288.1L223.8 288.4L221.5 288.7A81.0 81.0 0 0 1 221.5 289.8L222.2 290.1L221.5 290.4A81.0 81.0 0 0 1 221.4 294.4L222.6 294.8L221.3 295.0A81.0 81.0 0 0 1 221.1 297.9L222.1 298.3L221.0 298.5A81.0 81.0 0 0 1 220.7 301.4L222.5 302.0L220.6 302.0A81.0 81.0 0 0 1 219.9 305.5L224.2 306.7L219.8 306.1A81.0 81.0 0 0 1 219.7 306.7L221.2 307.3L219.6 307.2A81.0 81.0 0 0 1 219.1 309.4L219.9 309.9L218.9 310.0A81.0 81.0 0 0 1 218.7 310.8M217.9 313.5A81.0 81.0 0 0 1 217.3 315.6L217.9 316.1L217.1 316.1A81.0 81.0 0 0 1 215.5 320.2L216.7 321.0L215.3 320.7A81.0 81.0 0 0 1 215.0 321.5L217.4 322.9L214.7 322.1A81.0 81.0 0 0 1 214.4 322.9L215.3 323.7L214.1 323.4A81.0 81.0 0 0 1 213.8 324.2L215.4 325.4L213.5 324.8A81.0 81.0 0 0 1 213.1 325.6L214.2 326.4L212.9 326.1A81.0 81.0 0 0 1 212.5 326.9L213.7 327.9L212.2 327.4A81.0 81.0 0 0 1 209.4 332.2L210.2 333.1L209.1 332.7A81.0 81.0 0 0 1 207.3 335.6M205.6 337.9A81.0 81.0 0 0 1 204.6 339.2L206.0 340.7L204.3 339.7A81.0 81.0 0 0 1 203.1 341.1L204.6 342.8L202.7 341.6A81.0 81.0 0 0 1 201.5 343.0L202.8 344.5L201.1 343.4A81.0 81.0 0 0 1 199.6 345.1L201.0 346.9L199.2 345.6A81.0 81.0 0 0 1 197.9 346.9L198.5 347.9L197.5 347.3A81.0 81.0 0 0 1 195.8 348.9L196.0 349.6L195.4 349.3A81.0 81.0 0 0 1 192.5 351.8L193.6 353.5L192.1 352.2A81.0 81.0 0 0 1 190.6 353.3L191.2 354.5L190.2 353.7A81.0 81.0 0 0 1 188.5 355.0M186.1 356.6A81.0 81.0 0 0 1 185.9 356.8L186.6 358.5L185.4 357.1A81.0 81.0 0 0 1 184.2 357.9L184.5 358.8L183.7 358.2A81.0 81.0 0 0 1 180.9 359.9L181.2 360.9L180.4 360.2A81.0 81.0 0 0 1 175.2 362.9L175.5 364.1L174.7 363.1A81.0 81.0 0 0 1 170.3 365.0L170.3 365.8L169.7 365.2A81.0 81.0 0 0 1 167.0 366.2M164.3 367.1A81.0 81.0 0 0 1 161.4 368.0L161.3 368.8L160.8 368.1A81.0 81.0 0 0 1 156.0 369.2L156.0 370.7L155.4 369.3A81.0 81.0 0 0 1 153.8 369.6L154.1 373.1L153.2 369.7A81.0 81.0 0 0 1 152.5 369.8L152.4 371.0L151.9 369.9A81.0 81.0 0 0 1 147.2 370.4L147.0 371.5L146.6 370.5A81.0 81.0 0 0 1 142.5 370.7M139.7 370.7A81.0 81.0 0 0 1 138.9 370.7L138.6 371.3L138.3 370.7A81.0 81.0 0 0 1 133.7 370.4L133.3 372.1L133.1 370.4A81.0 81.0 0 0 1 128.6 369.8L127.8 372.7L128.0 369.7A81.0 81.0 0 0 1 127.5 369.7L127.0 371.3L126.9 369.6A81.0 81.0 0 0 1 122.4 368.7L121.9 369.5L121.9 368.5A81.0 81.0 0 0 1 119.1 367.8M116.4 367.0A81.0 81.0 0 0 1 111.5 365.3L110.8 366.4L110.9 365.1A81.0 81.0 0 0 1 109.4 364.5L108.8 365.1L108.9 364.3A81.0 81.0 0 0 1 107.2 363.6L106.5 364.4L106.7 363.3A81.0 81.0 0 0 1 104.4 362.2L103.3 363.6L103.8 361.9A81.0 81.0 0 0 1 102.2 361.1L100.1 364.4L101.7 360.8A81.0 81.0 0 0 1 100.6 360.2L99.7 361.1L100.1 359.9A81.0 81.0 0 0 1 97.8 358.5L95.9 360.9L97.5 358.3M95.1 356.8L94.2 357.9L94.8 356.6A81.0 81.0 0 0 1 91.4 354.1L88.9 357.0L91.0 353.8A81.0 81.0 0 0 1 90.4 353.4L87.4 356.7L90.0 353.0A81.0 81.0 0 0 1 89.5 352.6L87.9 354.0L89.0 352.2A81.0 81.0 0 0 1 86.9 350.4L85.8 351.1L86.4 350.0A81.0 81.0 0 0 1 81.4 345.0L80.4 345.6L80.9 344.6A81.0 81.0 0 0 1 79.6 343.2M77.8 341.0L75.3 342.9L77.6 340.7A81.0 81.0 0 0 1 74.2 336.3L71.7 337.7L73.9 335.8A81.0 81.0 0 0 1 73.4 335.1L72.6 335.3L73.1 334.6A81.0 81.0 0 0 1 70.7 330.8L67.7 332.2L70.4 330.3A81.0 81.0 0 0 1 68.0 325.8L64.0 327.4L67.7 325.2A81.0 81.0 0 0 1 67.3 324.3L64.0 325.5L67.1 323.9M65.9 321.3A81.0 81.0 0 0 1 65.7 320.9L64.7 321.0L65.5 320.3A81.0 81.0 0 0 1 64.3 317.2L63.3 317.2L64.1 316.6A81.0 81.0 0 0 1 63.2 314.0L60.4 314.6L63.1 313.5A81.0 81.0 0 0 1 62.6 311.9L61.5 311.9L62.4 311.4A81.0 81.0 0 0 1 61.6 307.9L58.6 308.3L61.4 307.3A81.0 81.0 0 0 1 61.3 306.9L58.8 307.1L61.2 306.3A81.0 81.0 0 0 1 60.8 303.9L59.7 303.8L60.6 303.3A81.0 81.0 0 0 1 60.3 301.4M60.0 298.6A81.0 81.0 0 0 1 59.7 295.4L58.8 295.1L59.7 294.8A81.0 81.0 0 0 1 59.6 293.1L58.4 292.9L59.5 292.5A81.0 81.0 0 0 1 59.5 289.8L56.3 289.4L59.5 289.2A81.0 81.0 0 0 1 59.5 287.6L58.4 287.3L59.5 287.0A81.0 81.0 0 0 1 59.8 283.3L57.3 282.8L59.8 282.7A81.0 81.0 0 0 1 59.8 282.2M60.2 279.4A81.0 81.0 0 0 1 60.8 275.1L59.4 274.5L60.9 274.5A81.0 81.0 0 0 1 61.5 272.0L60.5 271.4L61.6 271.4A81.0 81.0 0 0 1 62.1 269.5L59.2 268.5L62.2 268.9A81.0 81.0 0 0 1 63.5 264.5L60.4 263.1L63.6 264.1M64.6 261.5A81.0 81.0 0 0 1 66.8 256.2L65.0 255.0L67.0 255.6A81.0 81.0 0 0 1 67.9 253.7L65.6 252.2L68.2 253.2A81.0 81.0 0 0 1 68.6 252.4L66.0 250.7L68.9 251.9A81.0 81.0 0 0 1 69.1 251.4L68.5 250.8L69.4 250.9A81.0 81.0 0 0 1 70.3 249.4L69.8 248.8L70.6 248.8A81.0 81.0 0 0 1 71.5 247.2L69.8 245.8L71.7 246.9M73.3 244.5A81.0 81.0 0 0 1 74.3 243.0L73.3 241.9L74.7 242.5A81.0 81.0 0 0 1 77.0 239.5L75.3 237.8L77.3 239.0A81.0 81.0 0 0 1 77.9 238.3L76.9 237.1L78.2 237.9A81.0 81.0 0 0 1 80.2 235.6L79.6 234.6L80.6 235.1A81.0 81.0 0 0 1 82.4 233.2M84.4 231.2A81.0 81.0 0 0 1 85.7 230.0L85.1 228.9L86.2 229.6A81.0 81.0 0 0 1 88.0 228.0L85.8 224.9L88.5 227.6A81.0 81.0 0 0 1 88.8 227.3L88.4 226.4L89.3 226.9A81.0 81.0 0 0 1 92.3 224.6M94.6 222.9A81.0 81.0 0 0 1 96.8 221.5L96.4 220.4L97.3 221.2A81.0 81.0 0 0 1 100.5 219.3L100.1 218.0L101.0 219.0A81.0 81.0 0 0 1 104.3 217.2L103.8 215.6L104.8 217.0A81.0 81.0 0 0 1 106.9 216.0L106.5 214.4L107.4 215.8A81.0 81.0 0 0 1 109.5 214.9L108.9 212.5L110.1 214.6A81.0 81.0 0 0 1 112.2 213.8L111.9 212.1L112.8 213.6A81.0 81.0 0 0 1 114.9 212.8L114.8 211.5L115.5 212.7A81.0 81.0 0 0 1 117.7 212.0L117.7 210.9L118.3 211.8A81.0 81.0 0 0 1 120.8 211.1M123.5 210.5A81.0 81.0 0 0 1 124.8 210.2L124.8 208.9L125.4 210.1A81.0 81.0 0 0 1 126.3 210.0L126.1 206.8L126.9 209.9A81.0 81.0 0 0 1 127.9 209.7L128.1 209.0L128.4 209.6A81.0 81.0 0 0 1 132.5 209.1L132.7 208.3L133.1 209.0A81.0 81.0 0 0 1 136.4 208.8L136.7 207.8L137.0 208.8A81.0 81.0 0 0 1 138.7 208.7L139.0 206.7L139.1 208.7" stroke="#25449a" stroke-width="0.65" fill="none" stroke-linejoin="miter"/>
<path d="M141.8 218.0A71.7 71.7 0 0 1 142.3 218.0L142.7 216.5L142.9 218.0A71.7 71.7 0 0 1 143.8 218.1L144.1 217.0L144.4 218.1A71.7 71.7 0 0 1 145.2 218.2L145.7 216.2L145.8 218.2A71.7 71.7 0 0 1 146.7 218.3L147.1 216.7L147.3 218.3A71.7 71.7 0 0 1 148.1 218.4L148.6 216.7L148.7 218.5A71.7 71.7 0 0 1 149.6 218.6L150.0 217.3L150.2 218.7A71.7 71.7 0 0 1 151.0 218.8L151.6 216.7L151.6 218.9A71.7 71.7 0 0 1 152.4 219.0L152.9 218.1L153.0 219.1A71.7 71.7 0 0 1 153.6 219.2L154.0 218.4L154.2 219.3A71.7 71.7 0 0 1 159.2 220.5L159.7 219.8L159.8 220.6A71.7 71.7 0 0 1 162.8 221.6L163.5 220.6L163.4 221.8A71.7 71.7 0 0 1 165.6 222.5L166.3 221.4L166.1 222.7A71.7 71.7 0 0 1 166.9 223.1L167.5 222.4L167.5 223.3A71.7 71.7 0 0 1 169.9 224.3M172.2 225.4A71.7 71.7 0 0 1 173.1 225.8L174.1 224.5L173.6 226.1A71.7 71.7 0 0 1 173.8 226.2L175.5 223.6L174.3 226.5A71.7 71.7 0 0 1 174.4 226.5L175.4 225.5L175.0 226.8A71.7 71.7 0 0 1 183.1 232.0L183.7 231.6L183.5 232.4A71.7 71.7 0 0 1 192.3 240.1L193.2 239.6L192.7 240.5A71.7 71.7 0 0 1 193.0 240.9M194.7 242.8A71.7 71.7 0 0 1 196.0 244.3L196.5 244.3L196.4 244.8A71.7 71.7 0 0 1 201.6 252.2L202.8 251.8L201.9 252.7A71.7 71.7 0 0 1 202.1 252.9L204.3 252.0L202.4 253.5A71.7 71.7 0 0 1 202.5 253.7L203.5 253.5L202.8 254.3A71.7 71.7 0 0 1 206.3 261.1L207.3 261.0L206.5 261.7A71.7 71.7 0 0 1 206.7 262.3M207.7 264.6A71.7 71.7 0 0 1 207.9 265.3L209.5 265.1L208.1 265.9A71.7 71.7 0 0 1 208.9 268.4L210.8 268.1L209.1 268.9A71.7 71.7 0 0 1 210.0 272.1L211.0 272.1L210.1 272.6A71.7 71.7 0 0 1 210.8 275.6L212.2 275.6L210.9 276.2A71.7 71.7 0 0 1 211.3 278.3L212.5 278.5L211.4 278.9A71.7 71.7 0 0 1 211.6 280.5L214.0 280.5L211.7 281.1A71.7 71.7 0 0 1 211.7 281.5L215.0 281.5L211.8 282.1A71.7 71.7 0 0 1 211.8 282.4L214.6 282.4L211.9 283.0A71.7 71.7 0 0 1 211.9 283.2L214.6 283.3L212.0 283.8A71.7 71.7 0 0 1 212.0 284.1L215.4 284.1L212.0 284.7A71.7 71.7 0 0 1 212.0 284.8L215.3 284.9L212.1 285.4A71.7 71.7 0 0 1 212.1 285.4M212.2 287.9A71.7 71.7 0 0 1 212.2 288.3L214.6 288.5L212.2 288.9A71.7 71.7 0 0 1 212.2 289.7L213.3 290.0L212.2 290.3A71.7 71.7 0 0 1 212.1 293.8L213.6 294.2L212.0 294.4A71.7 71.7 0 0 1 211.8 296.9L212.7 297.3L211.8 297.5A71.7 71.7 0 0 1 211.5 300.0L213.3 300.6L211.4 300.6A71.7 71.7 0 0 1 210.8 303.7L214.3 304.7L210.7 304.3A71.7 71.7 0 0 1 210.6 304.7L211.7 305.2L210.5 305.3A71.7 71.7 0 0 1 210.1 307.1L210.7 307.6L209.9 307.7A71.7 71.7 0 0 1 209.7 308.4M209.0 310.8A71.7 71.7 0 0 1 208.5 312.6L209.1 313.1L208.3 313.1A71.7 71.7 0 0 1 206.9 316.7L208.4 317.6L206.7 317.2A71.7 71.7 0 0 1 206.4 317.9L208.0 318.9L206.2 318.4A71.7 71.7 0 0 1 205.9 319.1L207.1 319.9L205.7 319.6A71.7 71.7 0 0 1 205.4 320.2L207.9 321.8L205.1 320.8A71.7 71.7 0 0 1 204.8 321.4L205.8 322.2L204.5 322.0A71.7 71.7 0 0 1 204.2 322.6L205.0 323.3L203.9 323.1A71.7 71.7 0 0 1 201.5 327.3L202.6 328.4L201.2 327.8A71.7 71.7 0 0 1 199.6 330.3M198.1 332.3A71.7 71.7 0 0 1 197.3 333.5L198.4 334.8L196.9 334.0A71.7 71.7 0 0 1 195.9 335.2L197.0 336.5L195.6 335.6A71.7 71.7 0 0 1 194.6 336.8L195.3 337.9L194.2 337.3A71.7 71.7 0 0 1 192.8 338.7L195.3 341.4L192.4 339.2A71.7 71.7 0 0 1 191.3 340.3L192.3 341.6L190.9 340.7A71.7 71.7 0 0 1 189.5 342.1L189.8 342.9L189.0 342.5A71.7 71.7 0 0 1 186.6 344.6L187.5 346.2L186.1 345.0A71.7 71.7 0 0 1 184.9 346.0L185.7 347.5L184.4 346.4A71.7 71.7 0 0 1 182.9 347.5M180.9 348.9A71.7 71.7 0 0 1 180.7 349.1L182.1 351.7L180.2 349.4A71.7 71.7 0 0 1 179.3 350.0L179.5 351.0L178.7 350.3A71.7 71.7 0 0 1 176.3 351.8L176.6 352.8L175.8 352.1A71.7 71.7 0 0 1 171.3 354.5L171.5 355.6L170.7 354.7A71.7 71.7 0 0 1 166.9 356.4L166.9 357.0L166.4 356.6A71.7 71.7 0 0 1 164.0 357.5M161.6 358.2A71.7 71.7 0 0 1 159.0 359.0L158.9 359.5L158.5 359.1A71.7 71.7 0 0 1 154.3 360.1L154.3 362.0L153.7 360.2A71.7 71.7 0 0 1 152.3 360.4L152.5 363.1L151.7 360.5A71.7 71.7 0 0 1 151.2 360.6L151.1 362.2L150.6 360.7A71.7 71.7 0 0 1 146.5 361.2L146.2 362.0L145.9 361.2A71.7 71.7 0 0 1 142.3 361.4M139.7 361.4A71.7 71.7 0 0 1 139.1 361.4L138.8 362.2L138.5 361.4A71.7 71.7 0 0 1 134.5 361.2L134.1 362.4L133.9 361.1A71.7 71.7 0 0 1 130.0 360.6L129.1 364.4L129.4 360.5A71.7 71.7 0 0 1 129.1 360.5L128.6 361.6L128.5 360.4A71.7 71.7 0 0 1 124.5 359.6L124.0 360.7L124.0 359.5A71.7 71.7 0 0 1 121.6 358.9M119.2 358.2A71.7 71.7 0 0 1 114.9 356.7L114.2 357.6L114.3 356.4A71.7 71.7 0 0 1 113.0 355.9L112.5 356.4L112.5 355.7A71.7 71.7 0 0 1 111.1 355.1L110.3 356.0L110.5 354.8A71.7 71.7 0 0 1 108.5 353.9L107.2 355.9L108.0 353.6A71.7 71.7 0 0 1 106.6 352.9L104.9 355.5L106.1 352.6A71.7 71.7 0 0 1 105.2 352.1L104.4 353.0L104.7 351.8A71.7 71.7 0 0 1 102.7 350.6L100.5 353.7L102.4 350.4M100.3 349.1L99.3 350.4L100.0 348.9A71.7 71.7 0 0 1 97.1 346.8L93.6 350.8L96.6 346.4A71.7 71.7 0 0 1 96.2 346.1L94.0 348.4L95.7 345.7A71.7 71.7 0 0 1 95.4 345.4L93.2 347.6L94.9 345.0A71.7 71.7 0 0 1 93.0 343.4L92.0 344.1L92.6 343.0A71.7 71.7 0 0 1 88.2 338.7L87.1 339.3L87.8 338.3A71.7 71.7 0 0 1 86.6 337.0M85.0 335.1L83.3 336.4L84.8 334.8A71.7 71.7 0 0 1 81.9 331.0L79.0 332.6L81.5 330.5A71.7 71.7 0 0 1 81.1 329.9L80.4 330.0L80.8 329.4A71.7 71.7 0 0 1 78.7 326.1L76.4 327.1L78.4 325.6A71.7 71.7 0 0 1 76.3 321.7L72.2 323.4L76.1 321.1A71.7 71.7 0 0 1 75.7 320.3L73.1 321.2L75.5 320.0M74.5 317.7A71.7 71.7 0 0 1 74.3 317.3L73.2 317.5L74.1 316.8A71.7 71.7 0 0 1 73.1 314.0L72.0 314.1L72.9 313.5A71.7 71.7 0 0 1 72.1 311.3L69.0 311.9L71.9 310.7A71.7 71.7 0 0 1 71.6 309.4L70.7 309.4L71.4 308.8A71.7 71.7 0 0 1 70.6 305.9L68.6 306.0L70.5 305.3A71.7 71.7 0 0 1 70.4 304.9L67.2 305.3L70.3 304.3A71.7 71.7 0 0 1 69.9 302.3L69.1 302.1L69.8 301.7A71.7 71.7 0 0 1 69.6 300.1M69.2 297.6A71.7 71.7 0 0 1 69.0 294.8L68.1 294.5L68.9 294.2A71.7 71.7 0 0 1 68.9 292.8L67.8 292.5L68.8 292.2A71.7 71.7 0 0 1 68.8 289.8L64.2 289.5L68.8 289.2A71.7 71.7 0 0 1 68.8 287.9L67.5 287.6L68.8 287.3A71.7 71.7 0 0 1 69.0 284.1L66.6 283.6L69.1 283.5A71.7 71.7 0 0 1 69.1 283.1M69.4 280.6A71.7 71.7 0 0 1 70.0 276.8L68.5 276.2L70.1 276.2A71.7 71.7 0 0 1 70.5 274.0L69.5 273.5L70.7 273.4A71.7 71.7 0 0 1 71.1 271.9L67.7 270.7L71.2 271.3A71.7 71.7 0 0 1 72.4 267.4L70.0 266.3L72.5 267.1M73.3 264.7A71.7 71.7 0 0 1 75.2 260.0L73.7 259.0L75.5 259.5A71.7 71.7 0 0 1 76.2 257.9L74.2 256.5L76.5 257.3A71.7 71.7 0 0 1 76.8 256.7L74.5 255.1L77.1 256.2A71.7 71.7 0 0 1 77.3 255.9L76.4 255.0L77.6 255.3A71.7 71.7 0 0 1 78.3 254.0L77.9 253.5L78.6 253.5A71.7 71.7 0 0 1 79.4 252.1L77.8 250.7L79.6 251.8M81.0 249.7A71.7 71.7 0 0 1 81.9 248.4L80.7 247.1L82.3 247.9A71.7 71.7 0 0 1 84.2 245.3L83.0 243.9L84.6 244.8A71.7 71.7 0 0 1 85.0 244.3L84.1 243.1L85.4 243.8A71.7 71.7 0 0 1 87.1 241.8L86.7 241.0L87.5 241.4A71.7 71.7 0 0 1 89.1 239.7M90.9 237.9A71.7 71.7 0 0 1 92.0 236.9L91.4 235.8L92.4 236.5A71.7 71.7 0 0 1 94.0 235.1L92.3 232.6L94.5 234.7A71.7 71.7 0 0 1 94.7 234.5L94.2 233.4L95.2 234.1A71.7 71.7 0 0 1 97.9 232.1M99.9 230.6A71.7 71.7 0 0 1 101.8 229.4L101.5 228.4L102.3 229.0A71.7 71.7 0 0 1 105.0 227.4L104.6 226.0L105.6 227.1A71.7 71.7 0 0 1 108.4 225.6L107.6 223.2L109.0 225.3A71.7 71.7 0 0 1 110.7 224.5L110.3 222.8L111.3 224.2A71.7 71.7 0 0 1 113.1 223.5L112.3 220.7L113.6 223.2A71.7 71.7 0 0 1 115.4 222.5L115.3 221.3L116.0 222.3A71.7 71.7 0 0 1 117.8 221.7L117.7 220.3L118.4 221.5A71.7 71.7 0 0 1 120.3 220.9L120.3 219.9L120.9 220.7A71.7 71.7 0 0 1 123.0 220.2M125.5 219.6A71.7 71.7 0 0 1 126.5 219.4L126.5 217.9L127.1 219.3A71.7 71.7 0 0 1 127.9 219.1L127.7 216.0L128.5 219.0A71.7 71.7 0 0 1 129.3 218.9L129.5 218.2L129.9 218.8A71.7 71.7 0 0 1 133.4 218.4L133.6 217.7L134.0 218.3A71.7 71.7 0 0 1 136.9 218.1L137.1 217.3L137.5 218.1A71.7 71.7 0 0 1 138.9 218.0L139.1 215.4L139.2 218.0" stroke="#e8242a" stroke-width="0.65" fill="none" stroke-linejoin="miter"/>
<path d="M141.6 226.0A63.7 63.7 0 0 1 142.1 226.0L142.4 224.9L142.7 226.0A63.7 63.7 0 0 1 143.4 226.1L143.7 224.7L144.0 226.1A63.7 63.7 0 0 1 144.7 226.1L145.1 224.6L145.3 226.2A63.7 63.7 0 0 1 145.9 226.2L146.4 225.1L146.5 226.3A63.7 63.7 0 0 1 147.2 226.4L147.7 224.7L147.8 226.4A63.7 63.7 0 0 1 148.5 226.5L149.0 225.1L149.1 226.6A63.7 63.7 0 0 1 149.8 226.7L150.4 224.5L150.4 226.8A63.7 63.7 0 0 1 151.1 226.9L151.5 226.0L151.7 227.0A63.7 63.7 0 0 1 152.1 227.1L152.5 226.4L152.7 227.2A63.7 63.7 0 0 1 157.1 228.2L157.6 227.6L157.7 228.4A63.7 63.7 0 0 1 160.3 229.2L161.0 228.1L160.9 229.4A63.7 63.7 0 0 1 162.8 230.0L163.7 228.5L163.3 230.2A63.7 63.7 0 0 1 164.0 230.5L164.4 230.1L164.5 230.7A63.7 63.7 0 0 1 166.6 231.6M168.6 232.5A63.7 63.7 0 0 1 169.4 232.9L170.4 231.7L169.9 233.2A63.7 63.7 0 0 1 170.0 233.2L171.7 230.7L170.5 233.5A63.7 63.7 0 0 1 170.6 233.6L171.6 232.4L171.2 233.9A63.7 63.7 0 0 1 178.3 238.4L178.8 238.3L178.8 238.8A63.7 63.7 0 0 1 186.5 245.6L187.3 245.2L186.9 246.0A63.7 63.7 0 0 1 187.2 246.3M188.6 248.0A63.7 63.7 0 0 1 189.8 249.3L190.2 249.3L190.2 249.8A63.7 63.7 0 0 1 194.8 256.3L196.3 255.7L195.1 256.8A63.7 63.7 0 0 1 195.2 257.0L198.9 255.1L195.5 257.5A63.7 63.7 0 0 1 195.6 257.7L197.2 257.2L195.9 258.2A63.7 63.7 0 0 1 198.9 264.3L199.7 264.3L199.2 264.8A63.7 63.7 0 0 1 199.4 265.3M200.2 267.4A63.7 63.7 0 0 1 200.4 268.0L201.6 267.9L200.6 268.6A63.7 63.7 0 0 1 201.3 270.7L202.9 270.5L201.5 271.3A63.7 63.7 0 0 1 202.2 274.0L203.6 274.0L202.4 274.6A63.7 63.7 0 0 1 203.0 277.1L204.3 277.2L203.1 277.7A63.7 63.7 0 0 1 203.4 279.6L205.0 279.6L203.5 280.2A63.7 63.7 0 0 1 203.7 281.5L205.4 281.5L203.7 282.1A63.7 63.7 0 0 1 203.8 282.4L206.9 282.4L203.8 283.0A63.7 63.7 0 0 1 203.9 283.2L205.6 283.3L203.9 283.8A63.7 63.7 0 0 1 203.9 283.9L207.8 283.9L204.0 284.5A63.7 63.7 0 0 1 204.0 284.7L206.0 284.8L204.0 285.3A63.7 63.7 0 0 1 204.1 285.3L207.0 285.5L204.1 285.9M204.2 288.1A63.7 63.7 0 0 1 204.2 288.4L206.4 288.7L204.2 289.0A63.7 63.7 0 0 1 204.2 289.7L205.0 290.0L204.2 290.3A63.7 63.7 0 0 1 204.1 293.3L205.6 293.7L204.1 293.9A63.7 63.7 0 0 1 203.9 296.1L204.8 296.5L203.8 296.7A63.7 63.7 0 0 1 203.5 298.8L205.1 299.4L203.5 299.4A63.7 63.7 0 0 1 203.0 302.1L205.6 302.9L202.9 302.7A63.7 63.7 0 0 1 202.8 303.0L204.1 303.6L202.7 303.6A63.7 63.7 0 0 1 202.3 305.1L203.1 305.6L202.2 305.7A63.7 63.7 0 0 1 202.0 306.3M201.4 308.4A63.7 63.7 0 0 1 200.9 310.0L201.6 310.6L200.7 310.6A63.7 63.7 0 0 1 199.5 313.6L200.8 314.5L199.3 314.2A63.7 63.7 0 0 1 199.1 314.7L201.4 316.0L198.9 315.2A63.7 63.7 0 0 1 198.6 315.7L199.4 316.4L198.4 316.3A63.7 63.7 0 0 1 198.1 316.8L200.9 318.5L197.9 317.3A63.7 63.7 0 0 1 197.6 317.9L198.6 318.7L197.4 318.4A63.7 63.7 0 0 1 197.1 318.9L198.5 319.9L196.8 319.4A63.7 63.7 0 0 1 194.7 323.1L195.7 324.1L194.4 323.6A63.7 63.7 0 0 1 193.0 325.8M191.7 327.6A63.7 63.7 0 0 1 191.0 328.6L192.1 329.8L190.6 329.0A63.7 63.7 0 0 1 189.8 330.1L191.4 331.8L189.4 330.5A63.7 63.7 0 0 1 188.5 331.5L190.0 333.2L188.1 332.0A63.7 63.7 0 0 1 187.0 333.2L189.5 336.0L186.6 333.7A63.7 63.7 0 0 1 185.7 334.6L186.5 335.8L185.3 335.0A63.7 63.7 0 0 1 184.0 336.2L184.2 336.9L183.6 336.6A63.7 63.7 0 0 1 181.5 338.5L182.3 340.0L181.0 338.9A63.7 63.7 0 0 1 180.0 339.7L180.7 341.1L179.5 340.1A63.7 63.7 0 0 1 178.2 341.0M176.4 342.3A63.7 63.7 0 0 1 176.2 342.4L177.7 345.1L175.7 342.8A63.7 63.7 0 0 1 175.0 343.3L175.2 344.3L174.5 343.6A63.7 63.7 0 0 1 172.4 344.9L172.5 345.8L171.8 345.2A63.7 63.7 0 0 1 167.9 347.2L168.2 348.6L167.3 347.5A63.7 63.7 0 0 1 164.0 348.9L163.9 349.4L163.4 349.1A63.7 63.7 0 0 1 161.3 349.9M159.2 350.6A63.7 63.7 0 0 1 157.0 351.2L156.8 351.8L156.4 351.4A63.7 63.7 0 0 1 152.8 352.2L152.7 353.8L152.2 352.3A63.7 63.7 0 0 1 151.0 352.5L151.3 356.2L150.4 352.6A63.7 63.7 0 0 1 150.0 352.7L149.9 354.1L149.4 352.8A63.7 63.7 0 0 1 145.8 353.2L145.6 354.3L145.2 353.2A63.7 63.7 0 0 1 142.1 353.4M139.8 353.4A63.7 63.7 0 0 1 139.3 353.4L139.0 354.0L138.7 353.4A63.7 63.7 0 0 1 135.2 353.2L134.8 354.4L134.6 353.1A63.7 63.7 0 0 1 131.2 352.7L130.5 354.9L130.6 352.6A63.7 63.7 0 0 1 130.4 352.6L129.9 353.6L129.8 352.5A63.7 63.7 0 0 1 126.4 351.8L125.9 352.5L125.8 351.7A63.7 63.7 0 0 1 123.7 351.1M121.6 350.5A63.7 63.7 0 0 1 117.8 349.2L116.9 350.6L117.2 349.0A63.7 63.7 0 0 1 116.1 348.5L115.6 349.0L115.6 348.3A63.7 63.7 0 0 1 114.4 347.8L113.6 348.9L113.9 347.6A63.7 63.7 0 0 1 112.1 346.7L110.9 348.5L111.6 346.5A63.7 63.7 0 0 1 110.4 345.9L108.1 349.6L109.9 345.6A63.7 63.7 0 0 1 109.2 345.2L108.3 346.1L108.7 344.9A63.7 63.7 0 0 1 107.0 343.9L104.8 346.7L106.6 343.7M104.8 342.4L103.7 343.9L104.5 342.2A63.7 63.7 0 0 1 102.0 340.4L98.6 344.4L101.5 340.1A63.7 63.7 0 0 1 101.2 339.8L98.9 342.2L100.7 339.4A63.7 63.7 0 0 1 100.4 339.2L98.7 340.8L100.0 338.8A63.7 63.7 0 0 1 98.4 337.5L97.3 338.2L97.9 337.1A63.7 63.7 0 0 1 94.0 333.3L93.1 333.7L93.6 332.8A63.7 63.7 0 0 1 92.6 331.7M91.2 330.0L89.1 331.7L91.0 329.8A63.7 63.7 0 0 1 88.4 326.4L85.5 328.1L88.1 325.9A63.7 63.7 0 0 1 87.8 325.5L87.0 325.6L87.5 325.0A63.7 63.7 0 0 1 85.6 322.1L83.4 323.0L85.3 321.6A63.7 63.7 0 0 1 83.5 318.1L80.4 319.3L83.2 317.6A63.7 63.7 0 0 1 82.9 316.9L80.0 318.0L82.8 316.6M81.9 314.6A63.7 63.7 0 0 1 81.7 314.3L80.9 314.3L81.5 313.7A63.7 63.7 0 0 1 80.6 311.4L79.4 311.4L80.4 310.8A63.7 63.7 0 0 1 79.8 308.9L77.1 309.4L79.6 308.3A63.7 63.7 0 0 1 79.3 307.2L78.3 307.2L79.1 306.7A63.7 63.7 0 0 1 78.4 304.1L75.7 304.4L78.3 303.5A63.7 63.7 0 0 1 78.3 303.3L75.8 303.5L78.1 302.7A63.7 63.7 0 0 1 77.8 300.9L77.0 300.8L77.7 300.3A63.7 63.7 0 0 1 77.5 298.9M77.2 296.7A63.7 63.7 0 0 1 77.0 294.2L76.3 294.0L76.9 293.6A63.7 63.7 0 0 1 76.9 292.5L75.7 292.2L76.8 291.9A63.7 63.7 0 0 1 76.8 289.8L73.4 289.5L76.8 289.2A63.7 63.7 0 0 1 76.8 288.1L75.8 287.8L76.8 287.5A63.7 63.7 0 0 1 77.0 284.8L75.1 284.3L77.0 284.2A63.7 63.7 0 0 1 77.1 283.8M77.3 281.6A63.7 63.7 0 0 1 77.8 278.2L76.2 277.6L77.9 277.7A63.7 63.7 0 0 1 78.3 275.8L76.9 275.2L78.5 275.2A63.7 63.7 0 0 1 78.8 273.9L77.0 273.1L78.9 273.3A63.7 63.7 0 0 1 79.9 269.9L76.9 268.6L80.1 269.6M80.8 267.5A63.7 63.7 0 0 1 82.5 263.4L80.3 262.0L82.7 262.8A63.7 63.7 0 0 1 83.4 261.5L81.9 260.4L83.7 260.9A63.7 63.7 0 0 1 83.9 260.4L81.8 259.0L84.2 259.9A63.7 63.7 0 0 1 84.3 259.7L83.2 258.7L84.6 259.1A63.7 63.7 0 0 1 85.2 258.0L84.8 257.5L85.5 257.5A63.7 63.7 0 0 1 86.2 256.3L84.8 255.1L86.4 256.0M87.6 254.2A63.7 63.7 0 0 1 88.4 253.0L87.6 252.1L88.8 252.5A63.7 63.7 0 0 1 90.5 250.3L88.9 248.6L90.9 249.8A63.7 63.7 0 0 1 91.2 249.4L90.3 248.2L91.6 248.9A63.7 63.7 0 0 1 93.1 247.2L92.6 246.3L93.5 246.7A63.7 63.7 0 0 1 94.8 245.3M96.4 243.7A63.7 63.7 0 0 1 97.4 242.8L96.8 241.8L97.8 242.4A63.7 63.7 0 0 1 99.2 241.2L97.5 238.7L99.7 240.8A63.7 63.7 0 0 1 99.8 240.7L99.2 239.5L100.3 240.3A63.7 63.7 0 0 1 102.6 238.5M104.4 237.2A63.7 63.7 0 0 1 106.1 236.1L105.8 235.1L106.6 235.8A63.7 63.7 0 0 1 109.0 234.4L108.8 233.4L109.5 234.1A63.7 63.7 0 0 1 112.0 232.7L111.6 231.3L112.5 232.5A63.7 63.7 0 0 1 114.0 231.8L113.8 230.6L114.6 231.5A63.7 63.7 0 0 1 116.1 230.9L115.7 229.0L116.6 230.6A63.7 63.7 0 0 1 118.2 230.0L117.9 228.5L118.8 229.8A63.7 63.7 0 0 1 120.3 229.3L120.3 228.2L120.9 229.1A63.7 63.7 0 0 1 122.5 228.6L122.5 227.5L123.1 228.4A63.7 63.7 0 0 1 125.0 227.9M127.1 227.4A63.7 63.7 0 0 1 128.1 227.2L128.1 226.0L128.7 227.1A63.7 63.7 0 0 1 129.3 227.0L129.2 224.9L129.9 226.9A63.7 63.7 0 0 1 130.5 226.8L130.6 225.8L131.1 226.7A63.7 63.7 0 0 1 134.2 226.3L134.4 225.8L134.8 226.3A63.7 63.7 0 0 1 137.2 226.1L137.5 224.9L137.8 226.1A63.7 63.7 0 0 1 139.0 226.0L139.3 223.1L139.4 226.0" stroke="#45c044" stroke-width="0.65" fill="none" stroke-linejoin="miter"/>
<path d="M141.5 234.2A55.5 55.5 0 0 1 141.8 234.2L142.2 233.1L142.4 234.2A55.5 55.5 0 0 1 143.0 234.3L143.3 233.3L143.6 234.3A55.5 55.5 0 0 1 144.1 234.3L144.6 232.0L144.7 234.4A55.5 55.5 0 0 1 145.2 234.4L145.6 232.9L145.8 234.5A55.5 55.5 0 0 1 146.3 234.5L146.9 232.2L146.9 234.6A55.5 55.5 0 0 1 147.4 234.6L147.9 233.6L148.0 234.7A55.5 55.5 0 0 1 148.6 234.8L149.2 232.6L149.1 234.9A55.5 55.5 0 0 1 149.7 235.0L150.1 234.1L150.3 235.1A55.5 55.5 0 0 1 150.6 235.1L151.0 234.2L151.1 235.2A55.5 55.5 0 0 1 154.9 236.1L155.4 235.5L155.5 236.3A55.5 55.5 0 0 1 157.7 236.9L158.5 235.7L158.3 237.1A55.5 55.5 0 0 1 159.9 237.7L160.7 236.2L160.4 237.9A55.5 55.5 0 0 1 160.9 238.1L161.4 237.8L161.5 238.3A55.5 55.5 0 0 1 163.3 239.1M165.0 239.9A55.5 55.5 0 0 1 165.6 240.2L166.7 238.9L166.2 240.5L167.9 237.9L166.7 240.8L167.6 239.7L167.2 241.1A55.5 55.5 0 0 1 173.4 245.0L173.8 244.9L173.9 245.4A55.5 55.5 0 0 1 180.5 251.3L181.5 250.8L180.9 251.7A55.5 55.5 0 0 1 181.2 251.9M182.4 253.4A55.5 55.5 0 0 1 183.4 254.5L184.0 254.4L183.8 255.0A55.5 55.5 0 0 1 187.7 260.6L189.2 260.1L188.1 261.1A55.5 55.5 0 0 1 188.1 261.2L192.0 259.3L188.4 261.7A55.5 55.5 0 0 1 188.5 261.8L190.1 261.2L188.8 262.3A55.5 55.5 0 0 1 191.4 267.5L192.2 267.5L191.6 268.1A55.5 55.5 0 0 1 191.8 268.5M192.5 270.3A55.5 55.5 0 0 1 192.7 270.8L194.2 270.5L192.9 271.3A55.5 55.5 0 0 1 193.5 273.1L195.0 273.0L193.6 273.7A55.5 55.5 0 0 1 194.3 276.0L195.8 275.9L194.4 276.6A55.5 55.5 0 0 1 194.9 278.7L196.5 278.7L195.0 279.3A55.5 55.5 0 0 1 195.3 280.8L196.6 280.9L195.4 281.4A55.5 55.5 0 0 1 195.5 282.5L197.4 282.5L195.6 283.1A55.5 55.5 0 0 1 195.6 283.3L198.0 283.3L195.7 283.9A55.5 55.5 0 0 1 195.7 284.0L197.7 284.1L195.8 284.6A55.5 55.5 0 0 1 195.8 284.6L200.0 284.6L195.8 285.2A55.5 55.5 0 0 1 195.8 285.3L197.8 285.4L195.9 285.9L198.9 286.0L195.9 286.4M196.0 288.3A55.5 55.5 0 0 1 196.0 288.5L198.6 288.8L196.0 289.1A55.5 55.5 0 0 1 196.0 289.6L197.0 289.9L196.0 290.2A55.5 55.5 0 0 1 195.9 292.8L197.2 293.2L195.9 293.4A55.5 55.5 0 0 1 195.7 295.2L196.5 295.6L195.7 295.8A55.5 55.5 0 0 1 195.4 297.6L196.7 298.1L195.3 298.2A55.5 55.5 0 0 1 195.0 300.4L198.1 301.4L194.8 301.0A55.5 55.5 0 0 1 194.8 301.2L196.9 302.0L194.7 301.8A55.5 55.5 0 0 1 194.4 303.1L195.2 303.6L194.2 303.7A55.5 55.5 0 0 1 194.1 304.2M193.5 306.0A55.5 55.5 0 0 1 193.1 307.3L194.1 308.0L192.9 307.9A55.5 55.5 0 0 1 192.0 310.5L193.0 311.3L191.7 311.1A55.5 55.5 0 0 1 191.6 311.4L193.3 312.5L191.3 312.0A55.5 55.5 0 0 1 191.2 312.4L192.3 313.2L190.9 312.9A55.5 55.5 0 0 1 190.7 313.3L193.5 314.9L190.5 313.8A55.5 55.5 0 0 1 190.3 314.2L191.2 315.0L190.0 314.7A55.5 55.5 0 0 1 189.8 315.1L191.1 316.1L189.6 315.6A55.5 55.5 0 0 1 187.8 318.8L188.7 319.7L187.5 319.3A55.5 55.5 0 0 1 186.2 321.1M185.1 322.7A55.5 55.5 0 0 1 184.5 323.5L185.3 324.5L184.1 324.0A55.5 55.5 0 0 1 183.5 324.8L184.9 326.4L183.1 325.3A55.5 55.5 0 0 1 182.4 326.1L183.4 327.4L182.0 326.6A55.5 55.5 0 0 1 181.0 327.6L183.1 330.0L180.6 328.0A55.5 55.5 0 0 1 179.9 328.8L181.0 330.4L179.5 329.2A55.5 55.5 0 0 1 178.5 330.2L178.8 331.0L178.0 330.6A55.5 55.5 0 0 1 176.2 332.2L177.5 334.3L175.8 332.6A55.5 55.5 0 0 1 174.9 333.2L175.4 334.4L174.4 333.6A55.5 55.5 0 0 1 173.4 334.4M171.8 335.5A55.5 55.5 0 0 1 171.7 335.6L173.1 338.4L171.2 336.0A55.5 55.5 0 0 1 170.6 336.4L170.7 337.1L170.0 336.7A55.5 55.5 0 0 1 168.3 337.7L168.7 339.0L167.8 338.0A55.5 55.5 0 0 1 164.4 339.8L164.6 340.9L163.8 340.1A55.5 55.5 0 0 1 161.0 341.3L161.0 342.0L160.5 341.5A55.5 55.5 0 0 1 158.7 342.1M156.8 342.7A55.5 55.5 0 0 1 154.9 343.3L154.8 343.9L154.3 343.4A55.5 55.5 0 0 1 151.2 344.2L151.2 345.8L150.6 344.3A55.5 55.5 0 0 1 149.7 344.4L149.8 346.7L149.1 344.5A55.5 55.5 0 0 1 148.8 344.6L148.7 345.8L148.2 344.7A55.5 55.5 0 0 1 145.2 345.0L145.0 345.9L144.6 345.0A55.5 55.5 0 0 1 141.9 345.2M139.9 345.2A55.5 55.5 0 0 1 139.5 345.2L139.2 346.1L138.9 345.2A55.5 55.5 0 0 1 136.0 345.0L135.5 346.2L135.4 345.0A55.5 55.5 0 0 1 132.4 344.6L131.6 347.7L131.8 344.5A55.5 55.5 0 0 1 131.7 344.5L131.2 346.0L131.1 344.4A55.5 55.5 0 0 1 128.2 343.8L127.7 344.7L127.6 343.7A55.5 55.5 0 0 1 125.9 343.2M124.0 342.7A55.5 55.5 0 0 1 120.7 341.6L119.9 342.7L120.2 341.3A55.5 55.5 0 0 1 119.3 341.0L118.8 341.5L118.7 340.8A55.5 55.5 0 0 1 117.8 340.3L116.8 341.8L117.3 340.1A55.5 55.5 0 0 1 115.8 339.4L114.8 340.8L115.3 339.1A55.5 55.5 0 0 1 114.4 338.7L112.2 342.1L113.8 338.4A55.5 55.5 0 0 1 113.3 338.0L112.6 338.6L112.7 337.8A55.5 55.5 0 0 1 111.3 336.9L109.5 339.2L111.0 336.7M109.4 335.7L108.2 337.3L109.1 335.5A55.5 55.5 0 0 1 107.0 333.9L104.1 337.2L106.5 333.5A55.5 55.5 0 0 1 106.3 333.4L104.2 335.5L105.8 333.0A55.5 55.5 0 0 1 105.6 332.9L104.2 334.2L105.1 332.5A55.5 55.5 0 0 1 103.8 331.3L102.7 332.1L103.4 330.9A55.5 55.5 0 0 1 100.0 327.7L99.1 328.2L99.6 327.3A55.5 55.5 0 0 1 98.8 326.3M97.6 324.9L95.0 326.9L97.3 324.6A55.5 55.5 0 0 1 95.2 321.7L92.2 323.4L94.8 321.2A55.5 55.5 0 0 1 94.6 320.9L93.8 321.1L94.3 320.4A55.5 55.5 0 0 1 92.7 318.0L90.2 319.1L92.4 317.4A55.5 55.5 0 0 1 90.9 314.5L86.6 316.2L90.6 314.0A55.5 55.5 0 0 1 90.4 313.5L86.6 314.9L90.2 313.2M89.4 311.4A55.5 55.5 0 0 1 89.3 311.1L88.3 311.2L89.1 310.6A55.5 55.5 0 0 1 88.3 308.6L87.3 308.6L88.1 308.0A55.5 55.5 0 0 1 87.6 306.5L84.5 307.1L87.4 305.9A55.5 55.5 0 0 1 87.2 305.0L86.1 305.0L87.0 304.4A55.5 55.5 0 0 1 86.4 302.3L84.5 302.4L86.3 301.7A55.5 55.5 0 0 1 86.3 301.6L84.0 301.7L86.2 301.0A55.5 55.5 0 0 1 85.9 299.5L84.8 299.4L85.8 298.9A55.5 55.5 0 0 1 85.6 297.7M85.3 295.8A55.5 55.5 0 0 1 85.1 293.7L84.5 293.4L85.1 293.1A55.5 55.5 0 0 1 85.1 292.1L83.7 291.9L85.0 291.5A55.5 55.5 0 0 1 85.0 289.8L81.0 289.5L85.0 289.2A55.5 55.5 0 0 1 85.0 288.4L83.9 288.0L85.0 287.8A55.5 55.5 0 0 1 85.2 285.4L83.1 285.0L85.2 284.8A55.5 55.5 0 0 1 85.2 284.6M85.4 282.6A55.5 55.5 0 0 1 85.9 279.8L84.8 279.2L86.0 279.2A55.5 55.5 0 0 1 86.3 277.6L84.5 276.9L86.5 277.1A55.5 55.5 0 0 1 86.7 276.0L83.6 274.8L86.9 275.4A55.5 55.5 0 0 1 87.7 272.5L83.8 270.9L87.8 272.2M88.5 270.4A55.5 55.5 0 0 1 89.9 266.8L88.7 265.9L90.2 266.3A55.5 55.5 0 0 1 90.7 265.1L88.1 263.5L91.0 264.6A55.5 55.5 0 0 1 91.2 264.2L89.6 263.0L91.5 263.7A55.5 55.5 0 0 1 91.5 263.6L90.9 262.9L91.8 263.0A55.5 55.5 0 0 1 92.3 262.1L91.9 261.5L92.6 261.6A55.5 55.5 0 0 1 93.2 260.7L91.8 259.4L93.4 260.4M94.4 258.7A55.5 55.5 0 0 1 95.1 257.8L94.5 256.9L95.5 257.3A55.5 55.5 0 0 1 96.9 255.4L94.7 253.2L97.3 254.9A55.5 55.5 0 0 1 97.5 254.6L96.7 253.5L97.9 254.1A55.5 55.5 0 0 1 99.1 252.7L98.5 251.7L99.5 252.2A55.5 55.5 0 0 1 100.7 251.0M102.1 249.6A55.5 55.5 0 0 1 102.9 248.9L102.0 247.4L103.3 248.5A55.5 55.5 0 0 1 104.5 247.5L102.5 244.7L104.9 247.1A55.5 55.5 0 0 1 105.0 247.0L104.5 245.9L105.5 246.6A55.5 55.5 0 0 1 107.5 245.1M109.1 244.0A55.5 55.5 0 0 1 110.5 243.0L110.1 241.9L111.0 242.7A55.5 55.5 0 0 1 113.0 241.5L112.5 240.0L113.5 241.2A55.5 55.5 0 0 1 115.6 240.1L115.1 238.4L116.1 239.8A55.5 55.5 0 0 1 117.4 239.2L117.0 237.7L117.9 239.0A55.5 55.5 0 0 1 119.2 238.5L118.5 236.0L119.8 238.2A55.5 55.5 0 0 1 121.0 237.7L120.9 236.6L121.6 237.5A55.5 55.5 0 0 1 122.9 237.1L122.9 236.1L123.5 236.9A55.5 55.5 0 0 1 124.8 236.5L124.9 235.8L125.4 236.3A55.5 55.5 0 0 1 127.0 235.9M128.9 235.4A55.5 55.5 0 0 1 129.6 235.3L129.7 233.9L130.2 235.2A55.5 55.5 0 0 1 130.7 235.1L130.6 233.0L131.3 235.0A55.5 55.5 0 0 1 131.7 234.9L131.9 234.1L132.3 234.8A55.5 55.5 0 0 1 134.9 234.5L135.2 233.9L135.5 234.4A55.5 55.5 0 0 1 137.6 234.3L137.9 233.6L138.2 234.2A55.5 55.5 0 0 1 139.2 234.2L139.4 231.8L139.5 234.2" stroke="#35a7b8" stroke-width="0.65" fill="none" stroke-linejoin="miter"/>
<path d="M141.3 242.4A47.3 47.3 0 0 1 141.6 242.4L141.9 241.3L142.2 242.4A47.3 47.3 0 0 1 142.6 242.4L142.9 241.5L143.2 242.5A47.3 47.3 0 0 1 143.5 242.5L143.9 240.8L144.1 242.5A47.3 47.3 0 0 1 144.5 242.6L144.9 241.3L145.1 242.6A47.3 47.3 0 0 1 145.4 242.7L146.0 240.0L146.0 242.7A47.3 47.3 0 0 1 146.4 242.8L146.8 241.6L147.0 242.8A47.3 47.3 0 0 1 147.3 242.9L148.0 240.6L147.9 243.0A47.3 47.3 0 0 1 148.3 243.0L148.8 241.5L148.9 243.1A47.3 47.3 0 0 1 149.0 243.2L149.5 242.3L149.6 243.3A47.3 47.3 0 0 1 152.8 244.0L153.2 243.4L153.3 244.2A47.3 47.3 0 0 1 155.1 244.7L155.8 243.6L155.7 244.9A47.3 47.3 0 0 1 157.0 245.4L157.8 244.0L157.5 245.6A47.3 47.3 0 0 1 157.8 245.7L158.4 245.1L158.4 245.9A47.3 47.3 0 0 1 159.9 246.6M161.4 247.3A47.3 47.3 0 0 1 161.9 247.5L162.9 246.2L162.4 247.8L164.1 245.2L162.9 248.0L163.6 247.2L163.3 248.3A47.3 47.3 0 0 1 168.5 251.6L169.0 251.4L169.0 251.9A47.3 47.3 0 0 1 174.6 256.9L175.6 256.4L175.0 257.3A47.3 47.3 0 0 1 175.1 257.5M176.3 258.7A47.3 47.3 0 0 1 177.0 259.7L177.6 259.6L177.4 260.1A47.3 47.3 0 0 1 180.7 264.8L182.2 264.3L181.1 265.4L183.6 264.2L181.4 265.9L182.6 265.5L181.7 266.4A47.3 47.3 0 0 1 183.8 270.8L184.9 270.6L184.1 271.3A47.3 47.3 0 0 1 184.2 271.6M184.8 273.1A47.3 47.3 0 0 1 184.9 273.5L186.5 273.3L185.1 274.1A47.3 47.3 0 0 1 185.6 275.5L187.6 275.2L185.8 276.1A47.3 47.3 0 0 1 186.3 278.0L187.7 277.9L186.5 278.5A47.3 47.3 0 0 1 186.9 280.3L188.7 280.2L187.0 280.9A47.3 47.3 0 0 1 187.2 282.1L188.4 282.2L187.3 282.7A47.3 47.3 0 0 1 187.4 283.5L189.1 283.6L187.5 284.1A47.3 47.3 0 0 1 187.5 284.2L191.4 284.1L187.5 284.8L189.2 284.9L187.6 285.4L192.4 285.2L187.6 285.9L190.5 286.0L187.7 286.5L190.6 286.5L187.7 286.9M187.8 288.5A47.3 47.3 0 0 1 187.8 288.7L190.5 288.9L187.8 289.3A47.3 47.3 0 0 1 187.8 289.6L188.5 289.9L187.8 290.2A47.3 47.3 0 0 1 187.7 292.3L189.1 292.7L187.7 292.9A47.3 47.3 0 0 1 187.6 294.4L188.4 294.8L187.5 295.0A47.3 47.3 0 0 1 187.3 296.4L189.5 297.0L187.2 297.0A47.3 47.3 0 0 1 186.9 298.8L190.1 299.8L186.8 299.4A47.3 47.3 0 0 1 186.8 299.5L188.8 300.2L186.7 300.1A47.3 47.3 0 0 1 186.4 301.1L187.0 301.5L186.3 301.7A47.3 47.3 0 0 1 186.2 302.0M185.7 303.6A47.3 47.3 0 0 1 185.4 304.7L186.2 305.3L185.2 305.3A47.3 47.3 0 0 1 184.4 307.4L185.3 308.1L184.1 307.9A47.3 47.3 0 0 1 184.0 308.2L185.3 309.1L183.8 308.7A47.3 47.3 0 0 1 183.7 309.0L184.8 309.8L183.4 309.5A47.3 47.3 0 0 1 183.3 309.8L186.3 311.5L183.1 310.3A47.3 47.3 0 0 1 183.0 310.5L184.4 311.6L182.7 311.1A47.3 47.3 0 0 1 182.6 311.3L183.9 312.3L182.3 311.8A47.3 47.3 0 0 1 180.8 314.4L182.0 315.5L180.5 314.9A47.3 47.3 0 0 1 179.5 316.5M178.5 317.8A47.3 47.3 0 0 1 178.0 318.5L179.2 319.8L177.7 319.0A47.3 47.3 0 0 1 177.1 319.6L178.2 320.9L176.8 320.1A47.3 47.3 0 0 1 176.2 320.7L177.4 322.1L175.8 321.2A47.3 47.3 0 0 1 175.1 322.0L176.5 323.8L174.7 322.4A47.3 47.3 0 0 1 174.1 323.0L175.0 324.3L173.7 323.4A47.3 47.3 0 0 1 172.9 324.2L173.2 325.0L172.4 324.6A47.3 47.3 0 0 1 171.0 325.9L172.1 327.8L170.5 326.3A47.3 47.3 0 0 1 169.9 326.8L170.3 327.8L169.4 327.1A47.3 47.3 0 0 1 168.5 327.8M167.2 328.8A47.3 47.3 0 0 1 167.1 328.8L168.5 331.4L166.6 329.2A47.3 47.3 0 0 1 166.2 329.4L166.3 330.3L165.6 329.8A47.3 47.3 0 0 1 164.2 330.6L164.5 331.7L163.7 330.9A47.3 47.3 0 0 1 160.9 332.4L161.0 333.4L160.4 332.6A47.3 47.3 0 0 1 158.0 333.6L158.0 334.4L157.5 333.9A47.3 47.3 0 0 1 156.0 334.4M154.4 334.9A47.3 47.3 0 0 1 152.8 335.4L152.7 336.1L152.2 335.5A47.3 47.3 0 0 1 149.7 336.1L149.8 338.4L149.1 336.2A47.3 47.3 0 0 1 148.4 336.3L148.6 339.3L147.8 336.4A47.3 47.3 0 0 1 147.6 336.5L147.5 337.5L147.0 336.5A47.3 47.3 0 0 1 144.5 336.8L144.3 337.6L143.9 336.9A47.3 47.3 0 0 1 141.7 337.0M140.0 337.0A47.3 47.3 0 0 1 139.7 337.0L139.4 337.8L139.1 337.0A47.3 47.3 0 0 1 136.7 336.8L136.2 338.3L136.1 336.8A47.3 47.3 0 0 1 133.7 336.5L132.8 340.3L133.1 336.4L132.5 338.0L132.5 336.3A47.3 47.3 0 0 1 130.1 335.8L129.5 337.1L129.5 335.7A47.3 47.3 0 0 1 128.0 335.3M126.4 334.9A47.3 47.3 0 0 1 123.7 333.9L122.8 335.4L123.1 333.7A47.3 47.3 0 0 1 122.5 333.4L121.9 334.1L121.9 333.2A47.3 47.3 0 0 1 121.2 332.9L120.2 334.3L120.6 332.6A47.3 47.3 0 0 1 119.5 332.1L118.6 333.2L119.0 331.8A47.3 47.3 0 0 1 118.3 331.4L116.3 334.4L117.7 331.2A47.3 47.3 0 0 1 117.3 330.9L116.5 331.7L116.8 330.6A47.3 47.3 0 0 1 115.7 330.0L113.4 333.0L115.4 329.8M114.0 328.9L112.9 330.4L113.7 328.7A47.3 47.3 0 0 1 111.9 327.4L109.0 330.8L111.5 327.0A47.3 47.3 0 0 1 111.4 327.0L108.4 330.2L110.9 326.6A47.3 47.3 0 0 1 110.8 326.5L109.3 327.8L110.3 326.1A47.3 47.3 0 0 1 109.3 325.2L108.3 325.9L108.8 324.8A47.3 47.3 0 0 1 106.0 322.1L104.8 322.9L105.6 321.7A47.3 47.3 0 0 1 105.0 320.9M103.9 319.7L102.3 320.9L103.7 319.4A47.3 47.3 0 0 1 101.9 317.0L99.5 318.3L101.5 316.5A47.3 47.3 0 0 1 101.4 316.3L100.5 316.6L101.1 315.8A47.3 47.3 0 0 1 99.8 313.8L96.7 315.3L99.5 313.3A47.3 47.3 0 0 1 98.2 310.9L95.9 311.7L97.9 310.3A47.3 47.3 0 0 1 97.8 310.0L95.6 310.7L97.6 309.7M97.0 308.2A47.3 47.3 0 0 1 96.9 308.0L95.7 308.2L96.7 307.5A47.3 47.3 0 0 1 96.0 305.8L95.0 305.9L95.8 305.3A47.3 47.3 0 0 1 95.4 304.0L91.7 304.9L95.2 303.5A47.3 47.3 0 0 1 95.1 302.8L94.1 302.8L94.9 302.2A47.3 47.3 0 0 1 94.4 300.5L91.4 300.8L94.3 299.9A47.3 47.3 0 0 1 94.3 299.8L91.2 300.2L94.2 299.3A47.3 47.3 0 0 1 94.0 298.1L93.3 297.9L93.9 297.5A47.3 47.3 0 0 1 93.7 296.5M93.5 294.9A47.3 47.3 0 0 1 93.3 293.1L92.7 292.9L93.3 292.5A47.3 47.3 0 0 1 93.2 291.8L91.8 291.6L93.2 291.2A47.3 47.3 0 0 1 93.2 289.9L88.2 289.5L93.2 289.3A47.3 47.3 0 0 1 93.2 288.6L91.9 288.3L93.2 288.0A47.3 47.3 0 0 1 93.3 286.1L91.2 285.6L93.4 285.5A47.3 47.3 0 0 1 93.4 285.3M93.6 283.7A47.3 47.3 0 0 1 94.0 281.3L92.7 280.7L94.1 280.7A47.3 47.3 0 0 1 94.3 279.5L93.0 278.9L94.5 278.9A47.3 47.3 0 0 1 94.7 278.0L92.8 277.2L94.8 277.5A47.3 47.3 0 0 1 95.5 275.1L91.7 273.5L95.6 274.8M96.2 273.2A47.3 47.3 0 0 1 97.4 270.2L96.0 269.3L97.6 269.7A47.3 47.3 0 0 1 98.1 268.8L95.7 267.3L98.3 268.3A47.3 47.3 0 0 1 98.5 268.0L96.4 266.6L98.7 267.5A47.3 47.3 0 0 1 98.7 267.5L98.0 266.7L99.0 266.9A47.3 47.3 0 0 1 99.4 266.3L98.9 265.6L99.7 265.7A47.3 47.3 0 0 1 100.2 265.0L98.9 263.8L100.3 264.7M101.2 263.3A47.3 47.3 0 0 1 101.8 262.5L101.1 261.6L102.1 262.0A47.3 47.3 0 0 1 103.3 260.5L101.0 258.2L103.7 260.0A47.3 47.3 0 0 1 103.8 259.8L103.2 258.9L104.2 259.3A47.3 47.3 0 0 1 105.2 258.2L104.9 257.5L105.6 257.7A47.3 47.3 0 0 1 106.6 256.7M107.8 255.6A47.3 47.3 0 0 1 108.4 254.9L107.9 253.9L108.9 254.5A47.3 47.3 0 0 1 109.8 253.7L108.1 251.2L110.2 253.4L109.5 252.0L110.7 253.0A47.3 47.3 0 0 1 112.4 251.7M113.7 250.7A47.3 47.3 0 0 1 114.9 250.0L114.7 249.1L115.4 249.6A47.3 47.3 0 0 1 117.0 248.6L116.7 247.5L117.5 248.3A47.3 47.3 0 0 1 119.2 247.4L118.6 245.4L119.8 247.2A47.3 47.3 0 0 1 120.8 246.7L120.6 245.6L121.3 246.5A47.3 47.3 0 0 1 122.3 246.0L121.7 243.9L122.9 245.8A47.3 47.3 0 0 1 123.9 245.4L123.8 244.3L124.4 245.2A47.3 47.3 0 0 1 125.5 244.9L125.3 243.5L126.0 244.7A47.3 47.3 0 0 1 127.1 244.3L127.2 243.6L127.6 244.2A47.3 47.3 0 0 1 129.0 243.8M130.6 243.5A47.3 47.3 0 0 1 131.2 243.3L131.3 242.2L131.8 243.2A47.3 47.3 0 0 1 132.1 243.2L132.0 241.0L132.7 243.1A47.3 47.3 0 0 1 133.0 243.0L133.2 242.2L133.6 242.9A47.3 47.3 0 0 1 135.7 242.6L135.9 241.9L136.3 242.6A47.3 47.3 0 0 1 138.0 242.5L138.3 241.5L138.6 242.4A47.3 47.3 0 0 1 139.3 242.4L139.6 239.6L139.7 242.4" stroke="#9348bd" stroke-width="0.65" fill="none" stroke-linejoin="miter"/>
<path d="M141.2 250.7A39.0 39.0 0 0 1 141.4 250.7L141.7 249.5L142.0 250.7A39.0 39.0 0 0 1 142.1 250.7L142.5 250.0L142.7 250.8A39.0 39.0 0 0 1 142.9 250.8L143.4 248.8L143.5 250.8A39.0 39.0 0 0 1 143.7 250.8L144.1 249.9L144.3 250.9A39.0 39.0 0 0 1 144.5 250.9L145.0 249.4L145.1 251.0A39.0 39.0 0 0 1 145.3 251.0L145.8 249.8L145.9 251.1A39.0 39.0 0 0 1 146.1 251.1L146.7 248.9L146.7 251.2A39.0 39.0 0 0 1 146.9 251.2L147.3 250.2L147.4 251.3A39.0 39.0 0 0 1 147.5 251.3L147.9 250.7L148.1 251.4A39.0 39.0 0 0 1 150.6 252.0L151.0 251.4L151.1 252.2A39.0 39.0 0 0 1 152.5 252.6L153.2 251.5L153.1 252.8A39.0 39.0 0 0 1 154.0 253.1L154.7 252.1L154.6 253.3A39.0 39.0 0 0 1 154.8 253.4L155.2 253.1L155.3 253.6A39.0 39.0 0 0 1 156.5 254.1M157.7 254.7A39.0 39.0 0 0 1 158.1 254.9L159.0 253.8L158.6 255.2L160.0 252.8L159.0 255.4L159.6 254.5L159.4 255.6A39.0 39.0 0 0 1 163.5 258.2L164.1 258.0L164.0 258.6A39.0 39.0 0 0 1 168.6 262.6L169.3 262.4L169.0 263.1A39.0 39.0 0 0 1 169.1 263.2M170.0 264.2A39.0 39.0 0 0 1 170.6 264.9L171.1 264.9L171.0 265.4A39.0 39.0 0 0 1 173.7 269.2L174.9 268.8L174.0 269.7L176.9 268.2L174.2 270.1L175.3 269.7L174.5 270.5A39.0 39.0 0 0 1 176.2 274.0L177.4 273.9L176.5 274.6A39.0 39.0 0 0 1 176.5 274.8M177.0 276.0A39.0 39.0 0 0 1 177.1 276.3L178.0 276.3L177.3 276.9A39.0 39.0 0 0 1 177.7 278.0L179.1 277.8L177.9 278.5A39.0 39.0 0 0 1 178.3 280.0L179.4 280.0L178.4 280.6A39.0 39.0 0 0 1 178.7 281.9L179.9 282.0L178.8 282.5A39.0 39.0 0 0 1 179.0 283.4L180.5 283.5L179.1 284.0A39.0 39.0 0 0 1 179.2 284.5L180.5 284.7L179.2 285.1L181.4 285.2L179.3 285.7L181.7 285.6L179.3 286.2L183.6 286.0L179.4 286.6L182.3 286.6L179.4 287.1L182.5 287.0L179.4 287.4M179.5 288.7A39.0 39.0 0 0 1 179.5 288.8L181.9 289.0L179.5 289.4A39.0 39.0 0 0 1 179.5 289.6L180.1 289.9L179.5 290.2A39.0 39.0 0 0 1 179.4 291.8L180.7 292.2L179.4 292.4A39.0 39.0 0 0 1 179.3 293.5L180.5 293.9L179.3 294.1A39.0 39.0 0 0 1 179.1 295.2L180.3 295.6L179.0 295.8A39.0 39.0 0 0 1 178.8 297.2L181.2 298.0L178.7 297.7L180.3 298.4L178.5 298.3A39.0 39.0 0 0 1 178.4 299.0L179.2 299.6L178.2 299.6A39.0 39.0 0 0 1 178.2 299.9M177.8 301.2A39.0 39.0 0 0 1 177.5 302.0L178.2 302.6L177.3 302.6A39.0 39.0 0 0 1 176.7 304.2L178.2 305.2L176.5 304.8A39.0 39.0 0 0 1 176.4 304.9L178.0 305.9L176.2 305.4A39.0 39.0 0 0 1 176.1 305.5L177.0 306.3L175.9 306.1A39.0 39.0 0 0 1 175.8 306.2L177.3 307.2L175.6 306.7A39.0 39.0 0 0 1 175.5 306.8L176.4 307.6L175.3 307.4A39.0 39.0 0 0 1 175.2 307.5L176.4 308.4L174.9 308.0A39.0 39.0 0 0 1 173.8 310.0L174.3 310.7L173.5 310.6A39.0 39.0 0 0 1 172.6 311.8M171.9 312.9A39.0 39.0 0 0 1 171.5 313.4L172.3 314.4L171.1 313.9A39.0 39.0 0 0 1 170.7 314.3L171.9 315.7L170.4 314.8A39.0 39.0 0 0 1 170.0 315.2L170.6 316.2L169.6 315.7A39.0 39.0 0 0 1 169.1 316.3L170.4 318.0L168.6 316.7A39.0 39.0 0 0 1 168.2 317.1L168.8 318.1L167.8 317.5A39.0 39.0 0 0 1 167.2 318.1L167.4 318.7L166.8 318.5A39.0 39.0 0 0 1 165.7 319.5L166.7 321.2L165.2 319.9A39.0 39.0 0 0 1 164.8 320.2L165.3 321.4L164.3 320.6A39.0 39.0 0 0 1 163.6 321.1M162.5 321.9A39.0 39.0 0 0 1 162.5 321.9L163.6 324.1L162.0 322.3A39.0 39.0 0 0 1 161.7 322.4L161.9 323.4L161.2 322.8A39.0 39.0 0 0 1 160.1 323.4L160.3 324.4L159.6 323.7A39.0 39.0 0 0 1 157.4 324.9L157.7 326.3L156.8 325.1A39.0 39.0 0 0 1 155.0 325.9L154.9 326.4L154.4 326.1A39.0 39.0 0 0 1 153.3 326.6M152.0 327.0A39.0 39.0 0 0 1 150.7 327.3L150.5 327.9L150.1 327.5A39.0 39.0 0 0 1 148.1 327.9L148.0 329.1L147.5 328.1A39.0 39.0 0 0 1 147.1 328.1L147.1 330.4L146.5 328.2A39.0 39.0 0 0 1 146.4 328.2L146.3 329.6L145.8 328.3A39.0 39.0 0 0 1 143.9 328.6L143.7 329.5L143.3 328.6A39.0 39.0 0 0 1 141.5 328.7M140.1 328.7A39.0 39.0 0 0 1 139.9 328.7L139.6 329.5L139.3 328.7A39.0 39.0 0 0 1 137.4 328.6L137.0 329.5L136.8 328.5A39.0 39.0 0 0 1 134.9 328.3L134.2 330.6L134.3 328.2L133.9 329.4L133.8 328.1A39.0 39.0 0 0 1 132.0 327.8L131.5 328.5L131.4 327.6A39.0 39.0 0 0 1 130.2 327.3M128.9 326.9A39.0 39.0 0 0 1 126.7 326.2L125.9 327.3L126.1 326.0A39.0 39.0 0 0 1 125.7 325.8L125.1 326.3L125.1 325.5A39.0 39.0 0 0 1 124.6 325.3L123.9 326.3L124.1 325.1A39.0 39.0 0 0 1 123.2 324.7L122.1 326.2L122.7 324.4A39.0 39.0 0 0 1 122.2 324.1L120.1 327.4L121.7 323.9A39.0 39.0 0 0 1 121.4 323.7L120.8 324.3L120.9 323.4A39.0 39.0 0 0 1 120.1 322.9L118.5 324.8L119.8 322.7M118.6 322.0L117.5 323.6L118.4 321.8A39.0 39.0 0 0 1 117.0 320.8L113.9 324.4L116.5 320.5L115.0 321.9L116.1 320.1L114.1 322.0L115.6 319.7A39.0 39.0 0 0 1 114.8 319.0L114.0 319.5L114.3 318.6A39.0 39.0 0 0 1 112.1 316.5L111.4 316.7L111.7 316.0A39.0 39.0 0 0 1 111.2 315.4M110.3 314.4L108.7 315.6L110.1 314.1A39.0 39.0 0 0 1 108.7 312.3L106.5 313.4L108.3 311.8A39.0 39.0 0 0 1 108.3 311.7L107.5 311.9L108.0 311.2A39.0 39.0 0 0 1 107.0 309.6L105.2 310.3L106.7 309.1A39.0 39.0 0 0 1 105.7 307.2L103.6 307.9L105.4 306.7A39.0 39.0 0 0 1 105.3 306.5L103.1 307.2L105.2 306.2M104.6 304.9A39.0 39.0 0 0 1 104.6 304.8L103.5 305.0L104.3 304.3A39.0 39.0 0 0 1 103.9 303.1L103.0 303.1L103.7 302.5A39.0 39.0 0 0 1 103.3 301.6L99.8 302.4L103.2 301.0A39.0 39.0 0 0 1 103.0 300.6L102.2 300.5L102.9 300.0A39.0 39.0 0 0 1 102.5 298.6L100.7 298.7L102.4 298.0L100.8 298.2L102.3 297.5A39.0 39.0 0 0 1 102.1 296.7L101.4 296.5L102.0 296.1A39.0 39.0 0 0 1 101.9 295.3M101.7 294.0A39.0 39.0 0 0 1 101.6 292.6L101.0 292.3L101.6 292.0A39.0 39.0 0 0 1 101.5 291.5L100.6 291.2L101.5 290.9A39.0 39.0 0 0 1 101.5 289.9L97.9 289.6L101.5 289.3A39.0 39.0 0 0 1 101.5 288.9L100.7 288.5L101.5 288.3A39.0 39.0 0 0 1 101.6 286.8L99.6 286.3L101.7 286.2A39.0 39.0 0 0 1 101.7 286.1M101.8 284.7A39.0 39.0 0 0 1 102.1 282.8L100.7 282.2L102.2 282.2A39.0 39.0 0 0 1 102.4 281.3L101.3 280.8L102.5 280.7A39.0 39.0 0 0 1 102.7 280.1L100.6 279.3L102.8 279.6A39.0 39.0 0 0 1 103.4 277.7L99.8 276.2L103.5 277.4M103.9 276.1A39.0 39.0 0 0 1 104.9 273.7L103.4 272.7L105.2 273.1A39.0 39.0 0 0 1 105.5 272.5L103.7 271.3L105.8 272.0A39.0 39.0 0 0 1 105.8 271.9L104.0 270.6L106.1 271.3L105.4 270.7L106.3 270.9A39.0 39.0 0 0 1 106.6 270.4L106.3 269.9L106.9 269.9A39.0 39.0 0 0 1 107.2 269.4L105.7 268.1L107.4 269.1M108.1 267.9A39.0 39.0 0 0 1 108.6 267.3L107.9 266.5L108.9 266.8A39.0 39.0 0 0 1 109.8 265.6L107.7 263.6L110.2 265.2A39.0 39.0 0 0 1 110.2 265.1L109.3 264.0L110.6 264.6A39.0 39.0 0 0 1 111.4 263.8L110.9 262.9L111.8 263.3A39.0 39.0 0 0 1 112.5 262.5M113.5 261.6A39.0 39.0 0 0 1 114.0 261.1L113.6 260.2L114.5 260.7A39.0 39.0 0 0 1 115.1 260.1L113.6 257.8L115.6 259.7L114.8 258.4L116.0 259.4A39.0 39.0 0 0 1 117.3 258.3M118.4 257.6A39.0 39.0 0 0 1 119.3 257.0L119.2 256.2L119.8 256.6A39.0 39.0 0 0 1 121.1 255.9L120.9 254.9L121.6 255.6A39.0 39.0 0 0 1 122.9 254.9L122.3 253.0L123.5 254.6A39.0 39.0 0 0 1 124.2 254.3L124.1 253.3L124.7 254.0A39.0 39.0 0 0 1 125.4 253.7L125.0 251.7L126.0 253.5A39.0 39.0 0 0 1 126.7 253.2L126.7 252.3L127.3 253.0A39.0 39.0 0 0 1 128.0 252.7L127.9 251.5L128.6 252.6A39.0 39.0 0 0 1 129.4 252.3L129.5 251.6L129.9 252.2A39.0 39.0 0 0 1 131.0 251.9M132.3 251.6A39.0 39.0 0 0 1 132.8 251.5L132.9 250.6L133.4 251.4A39.0 39.0 0 0 1 133.5 251.3L133.4 248.9L134.1 251.2A39.0 39.0 0 0 1 134.3 251.2L134.4 250.5L134.9 251.1A39.0 39.0 0 0 1 136.5 250.9L136.7 250.3L137.1 250.8A39.0 39.0 0 0 1 138.4 250.8L138.7 250.0L139.0 250.7A39.0 39.0 0 0 1 139.5 250.7L139.7 248.0L139.8 250.7" stroke="#f2a384" stroke-width="0.65" fill="none" stroke-linejoin="miter"/>
<path d="M141.0 256.5A33.2 33.2 0 0 1 154.6 259.7L151.8 265.6A26.6 26.6 0 0 0 140.9 263.1ZM155.1 259.9A33.2 33.2 0 0 1 165.2 267.5L160.3 271.9A26.6 26.6 0 0 0 152.2 265.8ZM165.6 267.9A33.2 33.2 0 0 1 171.4 277.5L165.2 280.0A26.6 26.6 0 0 0 160.6 272.2ZM171.6 278.0A33.2 33.2 0 0 1 173.7 288.3L167.1 288.6A26.6 26.6 0 0 0 165.4 280.3ZM173.7 288.8A33.2 33.2 0 0 1 172.4 298.9L166.1 297.1A26.6 26.6 0 0 0 167.1 289.0ZM172.2 299.4A33.2 33.2 0 0 1 167.5 309.0L162.2 305.1A26.6 26.6 0 0 0 165.9 297.5ZM167.2 309.4A33.2 33.2 0 0 1 159.7 316.8L155.9 311.4A26.6 26.6 0 0 0 161.9 305.5ZM159.3 317.1A33.2 33.2 0 0 1 150.8 321.3L148.8 315.0A26.6 26.6 0 0 0 155.5 311.6ZM150.3 321.4A33.2 33.2 0 0 1 140.7 322.9L140.7 316.3A26.6 26.6 0 0 0 148.4 315.1ZM140.2 322.9A33.2 33.2 0 0 1 131.2 321.6L133.0 315.2A26.6 26.6 0 0 0 140.3 316.3ZM130.7 321.4A33.2 33.2 0 0 1 122.4 317.5L126.0 312.0A26.6 26.6 0 0 0 132.6 315.1ZM121.9 317.2A33.2 33.2 0 0 1 115.2 311.2L120.2 306.9A26.6 26.6 0 0 0 125.6 311.8ZM114.8 310.8A33.2 33.2 0 0 1 110.2 303.2L116.2 300.5A26.6 26.6 0 0 0 119.9 306.6ZM110.0 302.7A33.2 33.2 0 0 1 107.6 293.9L114.1 293.1A26.6 26.6 0 0 0 116.0 300.1ZM107.5 293.4A33.2 33.2 0 0 1 107.5 286.1L114.1 286.8A26.6 26.6 0 0 0 114.1 292.7ZM107.6 285.5A33.2 33.2 0 0 1 109.2 278.7L115.4 280.9A26.6 26.6 0 0 0 114.1 286.4ZM109.4 278.2A33.2 33.2 0 0 1 112.6 271.7L118.2 275.3A26.6 26.6 0 0 0 115.6 280.5ZM112.9 271.2A33.2 33.2 0 0 1 117.1 266.1L121.8 270.8A26.6 26.6 0 0 0 118.4 274.9ZM117.5 265.8A33.2 33.2 0 0 1 121.2 262.7L125.1 268.0A26.6 26.6 0 0 0 122.1 270.5ZM121.6 262.4A33.2 33.2 0 0 1 133.0 257.4L134.5 263.8A26.6 26.6 0 0 0 125.4 267.8ZM133.5 257.2A33.2 33.2 0 0 1 140.5 256.5L140.5 263.1A26.6 26.6 0 0 0 134.9 263.7Z" fill="#8f3cb5"/>
<path d="M141.1 256.5A33.2 33.2 0 0 1 141.7 256.5L141.5 263.1A26.6 26.6 0 0 0 141.0 263.1ZM141.9 256.5A33.2 33.2 0 0 1 142.5 256.6L142.1 263.1A26.6 26.6 0 0 0 141.6 263.1ZM145.6 256.9A33.2 33.2 0 0 1 146.5 257.0L145.3 263.5A26.6 26.6 0 0 0 144.6 263.4ZM151.6 258.4A33.2 33.2 0 0 1 152.2 258.6L149.9 264.8A26.6 26.6 0 0 0 149.4 264.6ZM153.1 259.0A33.2 33.2 0 0 1 153.7 259.2L151.1 265.3A26.6 26.6 0 0 0 150.6 265.1ZM161.1 263.6A33.2 33.2 0 0 1 161.6 264.0L157.4 269.1A26.6 26.6 0 0 0 157.0 268.8ZM163.6 265.8A33.2 33.2 0 0 1 164.1 266.3L159.4 271.0A26.6 26.6 0 0 0 159.0 270.6ZM168.0 271.1A33.2 33.2 0 0 1 168.4 271.7L162.9 275.3A26.6 26.6 0 0 0 162.5 274.8ZM170.5 275.5A33.2 33.2 0 0 1 170.7 276.0L164.7 278.7A26.6 26.6 0 0 0 164.5 278.3ZM171.0 276.5A33.2 33.2 0 0 1 171.1 276.8L165.0 279.3A26.6 26.6 0 0 0 164.9 279.1ZM172.4 280.5A33.2 33.2 0 0 1 172.5 281.0L166.2 282.7A26.6 26.6 0 0 0 166.1 282.4ZM173.5 286.3A33.2 33.2 0 0 1 173.6 287.1L167.0 287.6A26.6 26.6 0 0 0 167.0 287.0ZM173.7 288.9A33.2 33.2 0 0 1 173.7 289.5L167.1 289.5A26.6 26.6 0 0 0 167.1 289.1ZM173.6 292.0A33.2 33.2 0 0 1 173.6 292.5L167.0 291.9A26.6 26.6 0 0 0 167.0 291.6ZM173.5 293.2A33.2 33.2 0 0 1 173.5 293.7L166.9 292.9A26.6 26.6 0 0 0 166.9 292.5ZM173.4 293.9A33.2 33.2 0 0 1 173.4 294.2L166.8 293.3A26.6 26.6 0 0 0 166.9 293.1ZM173.0 296.4A33.2 33.2 0 0 1 172.9 296.9L166.5 295.5A26.6 26.6 0 0 0 166.6 295.1ZM172.2 299.5A33.2 33.2 0 0 1 172.1 299.8L165.8 297.8A26.6 26.6 0 0 0 165.9 297.5ZM167.2 309.4A33.2 33.2 0 0 1 166.8 309.9L161.6 305.9A26.6 26.6 0 0 0 161.9 305.5ZM165.7 311.3A33.2 33.2 0 0 1 165.5 311.5L160.5 307.2A26.6 26.6 0 0 0 160.7 307.0ZM164.9 312.2A33.2 33.2 0 0 1 164.6 312.6L159.8 308.0A26.6 26.6 0 0 0 160.1 307.7ZM161.3 315.6A33.2 33.2 0 0 1 161.0 315.8L156.9 310.6A26.6 26.6 0 0 0 157.2 310.4ZM158.3 317.7A33.2 33.2 0 0 1 157.5 318.2L154.1 312.5A26.6 26.6 0 0 0 154.8 312.2ZM156.1 319.0A33.2 33.2 0 0 1 155.7 319.2L152.6 313.4A26.6 26.6 0 0 0 153.0 313.2ZM153.5 320.2A33.2 33.2 0 0 1 153.0 320.5L150.5 314.3A26.6 26.6 0 0 0 150.9 314.2ZM152.4 320.7A33.2 33.2 0 0 1 151.9 320.9L149.6 314.7A26.6 26.6 0 0 0 150.0 314.5ZM150.3 321.4A33.2 33.2 0 0 1 149.7 321.6L147.9 315.3A26.6 26.6 0 0 0 148.3 315.1ZM147.3 322.2A33.2 33.2 0 0 1 146.7 322.3L145.5 315.8A26.6 26.6 0 0 0 145.9 315.7ZM135.6 322.5A33.2 33.2 0 0 1 134.9 322.4L136.0 315.9A26.6 26.6 0 0 0 136.6 316.0ZM134.4 322.3A33.2 33.2 0 0 1 133.5 322.1L134.9 315.7A26.6 26.6 0 0 0 135.6 315.8ZM130.6 321.4A33.2 33.2 0 0 1 129.8 321.1L132.0 314.9A26.6 26.6 0 0 0 132.6 315.1ZM127.6 320.3A33.2 33.2 0 0 1 127.0 320.0L129.7 314.0A26.6 26.6 0 0 0 130.2 314.2ZM119.7 315.5A33.2 33.2 0 0 1 119.1 315.1L123.4 310.0A26.6 26.6 0 0 0 123.8 310.4ZM118.4 314.5A33.2 33.2 0 0 1 118.0 314.1L122.5 309.2A26.6 26.6 0 0 0 122.8 309.5ZM114.8 310.7A33.2 33.2 0 0 1 114.3 310.1L119.5 306.1A26.6 26.6 0 0 0 119.9 306.5ZM113.0 308.4A33.2 33.2 0 0 1 112.7 307.9L118.3 304.3A26.6 26.6 0 0 0 118.5 304.6ZM112.5 307.5A33.2 33.2 0 0 1 112.1 306.9L117.8 303.5A26.6 26.6 0 0 0 118.0 303.9ZM111.8 306.5A33.2 33.2 0 0 1 111.5 305.8L117.3 302.6A26.6 26.6 0 0 0 117.5 303.1ZM110.7 304.3A33.2 33.2 0 0 1 110.5 303.9L116.5 301.1A26.6 26.6 0 0 0 116.6 301.4ZM108.5 298.5A33.2 33.2 0 0 1 108.3 297.6L114.7 296.1A26.6 26.6 0 0 0 114.8 296.7ZM108.1 297.0A33.2 33.2 0 0 1 108.0 296.5L114.5 295.2A26.6 26.6 0 0 0 114.6 295.6ZM107.5 293.3A33.2 33.2 0 0 1 107.5 292.9L114.0 292.3A26.6 26.6 0 0 0 114.1 292.6ZM107.3 291.2A33.2 33.2 0 0 1 107.3 290.7L113.9 290.5A26.6 26.6 0 0 0 113.9 290.9ZM107.6 285.5A33.2 33.2 0 0 1 107.6 285.0L114.2 285.9A26.6 26.6 0 0 0 114.1 286.3ZM108.2 282.0A33.2 33.2 0 0 1 108.3 281.7L114.7 283.3A26.6 26.6 0 0 0 114.6 283.5ZM109.4 278.1A33.2 33.2 0 0 1 109.5 277.8L115.7 280.2A26.6 26.6 0 0 0 115.6 280.4ZM109.8 277.0A33.2 33.2 0 0 1 110.0 276.6L116.0 279.2A26.6 26.6 0 0 0 115.9 279.5ZM110.3 275.9A33.2 33.2 0 0 1 110.6 275.2L116.6 278.1A26.6 26.6 0 0 0 116.3 278.6ZM111.4 273.8A33.2 33.2 0 0 1 111.6 273.3L117.4 276.6A26.6 26.6 0 0 0 117.2 276.9ZM111.9 272.9A33.2 33.2 0 0 1 112.1 272.5L117.7 275.9A26.6 26.6 0 0 0 117.6 276.2ZM112.9 271.2A33.2 33.2 0 0 1 113.3 270.6L118.7 274.4A26.6 26.6 0 0 0 118.4 274.9ZM117.5 265.7A33.2 33.2 0 0 1 117.9 265.4L122.4 270.2A26.6 26.6 0 0 0 122.1 270.5ZM120.3 263.3A33.2 33.2 0 0 1 120.6 263.1L124.5 268.4A26.6 26.6 0 0 0 124.3 268.6ZM121.7 262.3A33.2 33.2 0 0 1 122.3 262.0L125.9 267.5A26.6 26.6 0 0 0 125.4 267.8ZM128.4 258.8A33.2 33.2 0 0 1 128.7 258.7L131.0 264.8A26.6 26.6 0 0 0 130.8 264.9ZM134.1 257.1A33.2 33.2 0 0 1 134.4 257.1L135.6 263.5A26.6 26.6 0 0 0 135.3 263.6ZM138.0 256.6A33.2 33.2 0 0 1 138.6 256.6L139.0 263.1A26.6 26.6 0 0 0 138.5 263.2Z" fill="#b070c4" fill-opacity="0.9"/>
<path d="M143.2 256.6A33.2 33.2 0 0 1 143.9 256.7L143.2 263.2A26.6 26.6 0 0 0 142.7 263.2ZM144.2 256.7A33.2 33.2 0 0 1 144.8 256.8L143.9 263.3A26.6 26.6 0 0 0 143.4 263.3ZM149.0 257.6A33.2 33.2 0 0 1 149.8 257.8L148.0 264.2A26.6 26.6 0 0 0 147.3 264.0ZM172.1 279.4A33.2 33.2 0 0 1 172.3 280.1L166.0 282.0A26.6 26.6 0 0 0 165.8 281.4ZM173.7 290.5A33.2 33.2 0 0 1 173.7 291.1L167.1 290.9A26.6 26.6 0 0 0 167.1 290.4ZM161.7 315.3A33.2 33.2 0 0 1 161.4 315.5L157.3 310.3A26.6 26.6 0 0 0 157.5 310.2ZM148.8 321.8A33.2 33.2 0 0 1 148.3 322.0L146.7 315.6A26.6 26.6 0 0 0 147.2 315.4ZM139.2 322.9A33.2 33.2 0 0 1 138.4 322.8L138.8 316.2A26.6 26.6 0 0 0 139.4 316.3ZM126.2 319.7A33.2 33.2 0 0 1 125.6 319.4L128.6 313.5A26.6 26.6 0 0 0 129.0 313.7ZM121.9 317.2A33.2 33.2 0 0 1 121.4 316.8L125.2 311.4A26.6 26.6 0 0 0 125.6 311.7ZM117.4 313.6A33.2 33.2 0 0 1 117.0 313.1L121.7 308.5A26.6 26.6 0 0 0 122.0 308.8ZM107.9 283.5A33.2 33.2 0 0 1 108.0 282.7L114.5 284.1A26.6 26.6 0 0 0 114.4 284.8ZM113.5 270.4A33.2 33.2 0 0 1 114.0 269.7L119.2 273.7A26.6 26.6 0 0 0 118.9 274.2ZM118.4 264.9A33.2 33.2 0 0 1 118.9 264.5L123.2 269.5A26.6 26.6 0 0 0 122.8 269.8ZM129.8 258.3A33.2 33.2 0 0 1 130.4 258.1L132.4 264.4A26.6 26.6 0 0 0 131.9 264.5ZM130.8 257.9A33.2 33.2 0 0 1 131.6 257.7L133.4 264.1A26.6 26.6 0 0 0 132.7 264.3Z" fill="#d8907c" fill-opacity="0.9"/>
<path d="M140.7 263.4L140.8 256.2M151.9 266.0L155.0 259.5M160.2 272.3L165.6 267.5M165.0 280.3L171.8 277.7M166.8 288.8L174.0 288.6M165.7 297.2L172.6 299.2M161.8 305.1L167.6 309.4M155.5 311.3L159.6 317.2M148.5 314.8L150.7 321.6M140.5 316.0L140.5 323.2M132.9 314.9L130.8 321.8M126.0 311.6L122.0 317.6M120.3 306.6L114.8 311.2M116.4 300.2L109.8 303.1M114.4 292.8L107.2 293.7M114.4 286.6L107.2 285.8M115.8 280.8L109.0 278.3M118.5 275.2L112.5 271.3M122.1 270.9L117.1 265.7M125.4 268.2L121.3 262.3M134.7 264.0L133.2 257.0" stroke="#fff" stroke-width="0.75"/>
<text x="269.5" y="194.6" font-size="7.1">gene dendity</text>
<rect x="269.5" y="197.6" width="28.9" height="4.7" fill="url(#gd)"/>
<text x="272.7" y="208.5" font-size="5.9" text-anchor="middle">0</text><text x="283.8" y="208.5" font-size="5.9" text-anchor="middle">42.5</text><text x="295.6" y="208.5" font-size="5.9" text-anchor="middle">85</text>
<text x="269.5" y="217.8" font-size="7.15">reads distribution</text>
<rect x="269.5" y="220.60" width="4.4" height="4.55" fill="#25449a"/>
<text x="275.2" y="224.80" font-size="5.6">M 1</text>
<rect x="269.5" y="225.15" width="4.4" height="4.55" fill="#e8242a"/>
<text x="275.2" y="229.35" font-size="5.6">M 1 input</text>
<rect x="269.5" y="229.70" width="4.4" height="4.55" fill="#45c044"/>
<text x="275.2" y="233.90" font-size="5.6">M 2</text>
<rect x="269.5" y="234.25" width="4.4" height="4.55" fill="#35a7b8"/>
<text x="275.2" y="238.45" font-size="5.6">M 2 input</text>
<rect x="269.5" y="238.80" width="4.4" height="4.55" fill="#9348bd"/>
<text x="275.2" y="243.00" font-size="5.6">M 3</text>
<rect x="269.5" y="243.35" width="4.4" height="4.55" fill="#f2a384"/>
<text x="275.2" y="247.55" font-size="5.6">M 3 input</text>
<text x="269.5" y="257.6" font-size="7.1">peak density</text>
<rect x="269.5" y="260.2" width="28.9" height="4.7" fill="url(#pd)"/>
<text x="272.7" y="270.5" font-size="5.9" text-anchor="middle">0</text><text x="283.8" y="270.5" font-size="5.9" text-anchor="middle">28.5</text><text x="295.1" y="270.5" font-size="5.9" text-anchor="middle">57</text>
</g>
<g>
<path d="M477.7 195.1A94.6 94.6 0 0 1 514.8 203.4L512.3 209.0A88.5 88.5 0 0 0 477.5 201.2ZM517.8 204.8A94.6 94.6 0 0 1 545.3 225.3L540.8 229.5A88.5 88.5 0 0 0 515.1 210.3ZM547.5 227.8A94.6 94.6 0 0 1 563.4 253.5L557.8 255.8A88.5 88.5 0 0 0 542.9 231.8ZM564.6 256.6A94.6 94.6 0 0 1 570.4 284.1L564.3 284.5A88.5 88.5 0 0 0 558.9 258.7ZM570.6 287.4A94.6 94.6 0 0 1 567.3 314.3L561.4 312.8A88.5 88.5 0 0 0 564.5 287.5ZM566.4 317.5A94.6 94.6 0 0 1 554.0 343.3L548.9 339.8A88.5 88.5 0 0 0 560.6 315.7ZM552.0 346.0A94.6 94.6 0 0 1 532.0 365.9L528.4 361.0A88.5 88.5 0 0 0 547.1 342.3ZM529.3 367.8A94.6 94.6 0 0 1 507.0 379.1L505.0 373.3A88.5 88.5 0 0 0 525.9 362.8ZM503.8 380.1A94.6 94.6 0 0 1 478.3 384.3L478.2 378.2A88.5 88.5 0 0 0 502.0 374.3ZM475.0 384.3A94.6 94.6 0 0 1 451.0 380.9L452.6 375.1A88.5 88.5 0 0 0 475.1 378.2ZM447.9 380.0A94.6 94.6 0 0 1 425.7 369.8L429.0 364.7A88.5 88.5 0 0 0 449.7 374.2ZM423.0 368.0A94.6 94.6 0 0 1 404.9 352.1L409.5 348.1A88.5 88.5 0 0 0 426.4 363.0ZM402.8 349.6A94.6 94.6 0 0 1 390.3 329.7L395.8 327.1A88.5 88.5 0 0 0 407.5 345.8ZM388.9 326.7A94.6 94.6 0 0 1 382.4 303.4L388.4 302.5A88.5 88.5 0 0 0 394.5 324.3ZM382.0 300.1A94.6 94.6 0 0 1 381.8 281.0L387.9 281.5A88.5 88.5 0 0 0 388.0 299.4ZM382.2 277.7A94.6 94.6 0 0 1 386.2 259.8L392.0 261.8A88.5 88.5 0 0 0 388.2 278.5ZM387.3 256.7A94.6 94.6 0 0 1 395.7 239.7L400.9 242.9A88.5 88.5 0 0 0 393.1 258.9ZM397.5 236.9A94.6 94.6 0 0 1 408.2 223.7L412.6 228.0A88.5 88.5 0 0 0 402.5 240.3ZM410.5 221.4A94.6 94.6 0 0 1 419.7 213.7L423.4 218.6A88.5 88.5 0 0 0 414.7 225.8ZM422.4 211.7A94.6 94.6 0 0 1 453.0 198.0L454.4 203.9A88.5 88.5 0 0 0 425.9 216.8ZM456.2 197.2A94.6 94.6 0 0 1 474.3 195.1L474.5 201.2A88.5 88.5 0 0 0 457.4 203.2Z" fill="#e2381f"/>
<path d="M481.0 195.2A94.6 94.6 0 0 1 482.0 195.3L481.6 201.4A88.5 88.5 0 0 0 480.7 201.3ZM482.3 195.3A94.6 94.6 0 0 1 483.2 195.4L482.7 201.5A88.5 88.5 0 0 0 481.9 201.4ZM483.7 195.4A94.6 94.6 0 0 1 484.2 195.5L483.6 201.5A88.5 88.5 0 0 0 483.2 201.5ZM486.6 195.7A94.6 94.6 0 0 1 487.4 195.8L486.7 201.8A88.5 88.5 0 0 0 486.0 201.8ZM490.0 196.1A94.6 94.6 0 0 1 491.5 196.4L490.5 202.4A88.5 88.5 0 0 0 489.1 202.2ZM493.8 196.8A94.6 94.6 0 0 1 494.6 196.9L493.4 202.9A88.5 88.5 0 0 0 492.7 202.8ZM496.8 197.4A94.6 94.6 0 0 1 497.9 197.7L496.5 203.6A88.5 88.5 0 0 0 495.5 203.4ZM499.1 198.0A94.6 94.6 0 0 1 499.7 198.1L498.1 204.0A88.5 88.5 0 0 0 497.6 203.9ZM501.3 198.6A94.6 94.6 0 0 1 502.1 198.8L500.4 204.6A88.5 88.5 0 0 0 499.7 204.4ZM503.8 199.3A94.6 94.6 0 0 1 504.4 199.5L502.6 205.3A88.5 88.5 0 0 0 502.0 205.1ZM508.2 200.8A94.6 94.6 0 0 1 509.6 201.3L507.4 207.0A88.5 88.5 0 0 0 506.2 206.5ZM510.6 201.6A94.6 94.6 0 0 1 511.0 201.8L508.8 207.5A88.5 88.5 0 0 0 508.3 207.3ZM530.3 212.2A94.6 94.6 0 0 1 530.8 212.6L527.3 217.6A88.5 88.5 0 0 0 526.8 217.2ZM532.6 213.9A94.6 94.6 0 0 1 533.6 214.7L529.9 219.5A88.5 88.5 0 0 0 529.0 218.8ZM538.1 218.4A94.6 94.6 0 0 1 539.0 219.2L535.0 223.7A88.5 88.5 0 0 0 534.1 223.0ZM539.3 219.4A94.6 94.6 0 0 1 540.3 220.3L536.1 224.7A88.5 88.5 0 0 0 535.2 224.0ZM549.9 230.7A94.6 94.6 0 0 1 550.4 231.3L545.6 235.1A88.5 88.5 0 0 0 545.2 234.5ZM550.7 231.6A94.6 94.6 0 0 1 551.5 232.8L546.7 236.4A88.5 88.5 0 0 0 545.9 235.4ZM552.7 234.4A94.6 94.6 0 0 1 553.3 235.2L548.3 238.7A88.5 88.5 0 0 0 547.8 237.9ZM553.5 235.5A94.6 94.6 0 0 1 553.8 235.9L548.8 239.4A88.5 88.5 0 0 0 548.5 239.0ZM554.9 237.5A94.6 94.6 0 0 1 555.4 238.3L550.3 241.6A88.5 88.5 0 0 0 549.8 240.9ZM556.4 239.9A94.6 94.6 0 0 1 557.1 241.1L551.9 244.2A88.5 88.5 0 0 0 551.3 243.1ZM557.7 242.1A94.6 94.6 0 0 1 558.3 243.0L553.0 246.0A88.5 88.5 0 0 0 552.5 245.1ZM558.8 243.9A94.6 94.6 0 0 1 559.1 244.5L553.7 247.4A88.5 88.5 0 0 0 553.4 246.8ZM559.2 244.7A94.6 94.6 0 0 1 559.8 245.9L554.4 248.7A88.5 88.5 0 0 0 553.8 247.6ZM562.1 250.5A94.6 94.6 0 0 1 562.3 251.0L556.8 253.5A88.5 88.5 0 0 0 556.5 253.0ZM565.7 259.7A94.6 94.6 0 0 1 565.9 260.2L560.1 262.1A88.5 88.5 0 0 0 559.9 261.6ZM567.0 263.8A94.6 94.6 0 0 1 567.2 264.7L561.4 266.3A88.5 88.5 0 0 0 561.1 265.5ZM568.6 270.5A94.6 94.6 0 0 1 568.9 271.7L562.9 272.9A88.5 88.5 0 0 0 562.6 271.7ZM570.6 290.4A94.6 94.6 0 0 1 570.6 290.9L564.5 290.8A88.5 88.5 0 0 0 564.5 290.3ZM570.5 293.5A94.6 94.6 0 0 1 570.5 294.6L564.4 294.3A88.5 88.5 0 0 0 564.4 293.2ZM570.5 294.9A94.6 94.6 0 0 1 570.4 295.9L564.3 295.5A88.5 88.5 0 0 0 564.4 294.5ZM570.2 298.4A94.6 94.6 0 0 1 570.1 299.5L564.0 298.8A88.5 88.5 0 0 0 564.1 297.8ZM569.8 301.9A94.6 94.6 0 0 1 569.7 302.5L563.7 301.7A88.5 88.5 0 0 0 563.8 301.1ZM569.6 303.5A94.6 94.6 0 0 1 569.5 304.2L563.5 303.2A88.5 88.5 0 0 0 563.6 302.6ZM569.2 306.0A94.6 94.6 0 0 1 568.9 307.4L562.9 306.3A88.5 88.5 0 0 0 563.2 305.0ZM564.3 323.7A94.6 94.6 0 0 1 563.8 324.9L558.1 322.7A88.5 88.5 0 0 0 558.6 321.5ZM563.4 325.9A94.6 94.6 0 0 1 562.8 327.2L557.2 324.8A88.5 88.5 0 0 0 557.8 323.5ZM561.1 331.1A94.6 94.6 0 0 1 560.5 332.2L555.1 329.5A88.5 88.5 0 0 0 555.6 328.4ZM559.5 334.1A94.6 94.6 0 0 1 558.9 335.3L553.5 332.3A88.5 88.5 0 0 0 554.1 331.3ZM556.9 338.7A94.6 94.6 0 0 1 556.6 339.2L551.4 336.0A88.5 88.5 0 0 0 551.7 335.6ZM548.7 350.2A94.6 94.6 0 0 1 547.8 351.2L543.2 347.3A88.5 88.5 0 0 0 544.1 346.3ZM547.6 351.5A94.6 94.6 0 0 1 547.1 352.1L542.5 348.1A88.5 88.5 0 0 0 543.0 347.6ZM544.8 354.6A94.6 94.6 0 0 1 544.2 355.2L539.8 351.0A88.5 88.5 0 0 0 540.4 350.4ZM543.9 355.5A94.6 94.6 0 0 1 543.5 356.0L539.1 351.7A88.5 88.5 0 0 0 539.5 351.3ZM525.9 370.1A94.6 94.6 0 0 1 524.7 370.8L521.6 365.6A88.5 88.5 0 0 0 522.7 364.9ZM521.0 372.9A94.6 94.6 0 0 1 519.8 373.6L517.0 368.2A88.5 88.5 0 0 0 518.1 367.5ZM519.0 373.9A94.6 94.6 0 0 1 518.1 374.4L515.4 369.0A88.5 88.5 0 0 0 516.3 368.5ZM517.7 374.6A94.6 94.6 0 0 1 517.2 374.9L514.5 369.4A88.5 88.5 0 0 0 515.0 369.1ZM516.8 375.0A94.6 94.6 0 0 1 516.2 375.4L513.6 369.8A88.5 88.5 0 0 0 514.2 369.5ZM509.7 378.1A94.6 94.6 0 0 1 509.1 378.3L506.9 372.6A88.5 88.5 0 0 0 507.5 372.4ZM508.4 378.6A94.6 94.6 0 0 1 507.3 379.0L505.3 373.2A88.5 88.5 0 0 0 506.3 372.8ZM501.5 380.8A94.6 94.6 0 0 1 500.1 381.2L498.5 375.3A88.5 88.5 0 0 0 499.8 374.9ZM495.2 382.3A94.6 94.6 0 0 1 493.9 382.6L492.8 376.6A88.5 88.5 0 0 0 493.9 376.4ZM493.8 382.6A94.6 94.6 0 0 1 493.3 382.7L492.2 376.7A88.5 88.5 0 0 0 492.6 376.6ZM492.8 382.8A94.6 94.6 0 0 1 491.5 383.0L490.5 377.0A88.5 88.5 0 0 0 491.7 376.8ZM491.3 383.1A94.6 94.6 0 0 1 490.2 383.2L489.3 377.2A88.5 88.5 0 0 0 490.3 377.0ZM472.9 384.2A94.6 94.6 0 0 1 472.0 384.2L472.3 378.1A88.5 88.5 0 0 0 473.1 378.2ZM471.0 384.2A94.6 94.6 0 0 1 469.9 384.1L470.3 378.0A88.5 88.5 0 0 0 471.3 378.1ZM465.9 383.8A94.6 94.6 0 0 1 464.7 383.6L465.4 377.6A88.5 88.5 0 0 0 466.6 377.7ZM462.9 383.4A94.6 94.6 0 0 1 461.7 383.2L462.6 377.2A88.5 88.5 0 0 0 463.8 377.4ZM461.4 383.2A94.6 94.6 0 0 1 460.6 383.0L461.6 377.0A88.5 88.5 0 0 0 462.4 377.1ZM458.4 382.7A94.6 94.6 0 0 1 457.1 382.4L458.4 376.4A88.5 88.5 0 0 0 459.6 376.7ZM456.8 382.3A94.6 94.6 0 0 1 455.8 382.1L457.1 376.2A88.5 88.5 0 0 0 458.1 376.4ZM455.5 382.0A94.6 94.6 0 0 1 455.0 381.9L456.3 376.0A88.5 88.5 0 0 0 456.8 376.1ZM454.7 381.9A94.6 94.6 0 0 1 453.4 381.6L454.8 375.6A88.5 88.5 0 0 0 456.1 375.9ZM446.2 379.5A94.6 94.6 0 0 1 445.0 379.1L447.0 373.3A88.5 88.5 0 0 0 448.1 373.7ZM444.9 379.0A94.6 94.6 0 0 1 444.3 378.8L446.3 373.1A88.5 88.5 0 0 0 446.9 373.3ZM444.1 378.8A94.6 94.6 0 0 1 443.6 378.6L445.7 372.8A88.5 88.5 0 0 0 446.2 373.0ZM442.0 378.0A94.6 94.6 0 0 1 440.8 377.5L443.1 371.8A88.5 88.5 0 0 0 444.2 372.3ZM440.7 377.5A94.6 94.6 0 0 1 439.7 377.0L442.0 371.4A88.5 88.5 0 0 0 443.0 371.8ZM427.2 370.7A94.6 94.6 0 0 1 426.6 370.4L429.8 365.2A88.5 88.5 0 0 0 430.3 365.5ZM423.0 368.0A94.6 94.6 0 0 1 422.1 367.5L425.6 362.4A88.5 88.5 0 0 0 426.4 363.0ZM421.8 367.2A94.6 94.6 0 0 1 421.1 366.8L424.7 361.8A88.5 88.5 0 0 0 425.3 362.2ZM420.3 366.2A94.6 94.6 0 0 1 419.2 365.4L422.9 360.5A88.5 88.5 0 0 0 423.9 361.3ZM416.6 363.3A94.6 94.6 0 0 1 416.2 363.0L420.0 358.2A88.5 88.5 0 0 0 420.5 358.6ZM415.4 362.3A94.6 94.6 0 0 1 414.4 361.5L418.4 356.9A88.5 88.5 0 0 0 419.3 357.6ZM410.6 358.1A94.6 94.6 0 0 1 410.2 357.6L414.4 353.3A88.5 88.5 0 0 0 414.8 353.7ZM408.3 355.7A94.6 94.6 0 0 1 407.4 354.9L411.9 350.7A88.5 88.5 0 0 0 412.6 351.5ZM399.5 345.4A94.6 94.6 0 0 1 398.9 344.5L403.8 340.9A88.5 88.5 0 0 0 404.5 341.8ZM396.8 341.5A94.6 94.6 0 0 1 396.5 341.0L401.6 337.7A88.5 88.5 0 0 0 401.9 338.2ZM396.1 340.3A94.6 94.6 0 0 1 395.4 339.2L400.6 336.0A88.5 88.5 0 0 0 401.2 337.0ZM395.2 339.0A94.6 94.6 0 0 1 394.7 338.1L400.0 335.0A88.5 88.5 0 0 0 400.4 335.8ZM394.4 337.6A94.6 94.6 0 0 1 394.0 336.9L399.3 333.9A88.5 88.5 0 0 0 399.7 334.5ZM393.6 336.2A94.6 94.6 0 0 1 393.3 335.6L398.6 332.7A88.5 88.5 0 0 0 398.9 333.2ZM393.0 335.1A94.6 94.6 0 0 1 392.3 333.8L397.7 331.0A88.5 88.5 0 0 0 398.3 332.1ZM392.1 333.5A94.6 94.6 0 0 1 391.8 332.8L397.2 330.0A88.5 88.5 0 0 0 397.5 330.6ZM391.5 332.3A94.6 94.6 0 0 1 391.0 331.2L396.5 328.5A88.5 88.5 0 0 0 397.0 329.6ZM387.2 322.4A94.6 94.6 0 0 1 386.7 321.0L392.5 319.0A88.5 88.5 0 0 0 393.0 320.3ZM386.5 320.3A94.6 94.6 0 0 1 386.1 319.1L391.9 317.2A88.5 88.5 0 0 0 392.2 318.3ZM386.0 318.8A94.6 94.6 0 0 1 385.7 317.7L391.5 315.9A88.5 88.5 0 0 0 391.8 316.9ZM384.4 313.2A94.6 94.6 0 0 1 384.2 312.4L390.1 310.9A88.5 88.5 0 0 0 390.3 311.6ZM383.6 310.2A94.6 94.6 0 0 1 383.5 309.4L389.4 308.1A88.5 88.5 0 0 0 389.6 308.9ZM383.2 308.3A94.6 94.6 0 0 1 383.1 307.5L389.1 306.4A88.5 88.5 0 0 0 389.2 307.1ZM382.9 306.7A94.6 94.6 0 0 1 382.8 305.7L388.8 304.6A88.5 88.5 0 0 0 388.9 305.6ZM381.8 298.1A94.6 94.6 0 0 1 381.7 297.6L387.8 297.1A88.5 88.5 0 0 0 387.8 297.5ZM381.6 295.1A94.6 94.6 0 0 1 381.5 294.4L387.6 294.1A88.5 88.5 0 0 0 387.6 294.8ZM381.4 290.1A94.6 94.6 0 0 1 381.4 288.7L387.5 288.7A88.5 88.5 0 0 0 387.5 290.1ZM382.2 277.7A94.6 94.6 0 0 1 382.3 276.5L388.4 277.4A88.5 88.5 0 0 0 388.2 278.5ZM382.6 274.8A94.6 94.6 0 0 1 382.8 273.4L388.8 274.4A88.5 88.5 0 0 0 388.6 275.8ZM383.0 272.5A94.6 94.6 0 0 1 383.2 271.2L389.2 272.4A88.5 88.5 0 0 0 389.0 273.6ZM383.4 270.5A94.6 94.6 0 0 1 383.5 269.9L389.5 271.2A88.5 88.5 0 0 0 389.3 271.8ZM385.6 261.9A94.6 94.6 0 0 1 385.7 261.4L391.6 263.2A88.5 88.5 0 0 0 391.4 263.7ZM385.8 261.3A94.6 94.6 0 0 1 385.9 260.8L391.7 262.7A88.5 88.5 0 0 0 391.6 263.1ZM387.3 256.7A94.6 94.6 0 0 1 387.6 256.1L393.3 258.3A88.5 88.5 0 0 0 393.1 258.9ZM387.7 255.7A94.6 94.6 0 0 1 388.0 255.0L393.7 257.3A88.5 88.5 0 0 0 393.4 257.9ZM388.2 254.6A94.6 94.6 0 0 1 388.6 253.5L394.3 255.8A88.5 88.5 0 0 0 393.8 256.9ZM390.8 248.5A94.6 94.6 0 0 1 391.5 247.3L396.9 250.0A88.5 88.5 0 0 0 396.3 251.1ZM393.3 243.8A94.6 94.6 0 0 1 393.9 242.7L399.2 245.7A88.5 88.5 0 0 0 398.6 246.8ZM394.1 242.4A94.6 94.6 0 0 1 394.3 242.0L399.6 245.1A88.5 88.5 0 0 0 399.3 245.5ZM399.9 233.5A94.6 94.6 0 0 1 400.3 233.0L405.2 236.6A88.5 88.5 0 0 0 404.8 237.1ZM402.1 230.6A94.6 94.6 0 0 1 403.0 229.6L407.7 233.4A88.5 88.5 0 0 0 406.9 234.4ZM404.4 227.8A94.6 94.6 0 0 1 405.0 227.2L409.6 231.2A88.5 88.5 0 0 0 409.0 231.8ZM405.6 226.5A94.6 94.6 0 0 1 406.5 225.5L411.0 229.6A88.5 88.5 0 0 0 410.2 230.5ZM406.9 225.1A94.6 94.6 0 0 1 407.3 224.6L411.8 228.8A88.5 88.5 0 0 0 411.4 229.2ZM407.5 224.5A94.6 94.6 0 0 1 407.8 224.1L412.2 228.3A88.5 88.5 0 0 0 411.9 228.7ZM412.8 219.3A94.6 94.6 0 0 1 413.3 218.8L417.4 223.4A88.5 88.5 0 0 0 416.9 223.8ZM413.5 218.7A94.6 94.6 0 0 1 414.6 217.7L418.6 222.4A88.5 88.5 0 0 0 417.6 223.2ZM423.6 210.9A94.6 94.6 0 0 1 424.5 210.3L427.8 215.5A88.5 88.5 0 0 0 427.0 216.0ZM429.8 207.2A94.6 94.6 0 0 1 430.7 206.6L433.6 212.0A88.5 88.5 0 0 0 432.8 212.5ZM434.3 204.8A94.6 94.6 0 0 1 435.5 204.2L438.1 209.7A88.5 88.5 0 0 0 437.0 210.2ZM437.4 203.3A94.6 94.6 0 0 1 438.7 202.8L441.1 208.4A88.5 88.5 0 0 0 439.9 208.9ZM443.0 201.0A94.6 94.6 0 0 1 443.7 200.8L445.8 206.5A88.5 88.5 0 0 0 445.1 206.8ZM444.0 200.7A94.6 94.6 0 0 1 444.8 200.4L446.9 206.1A88.5 88.5 0 0 0 446.1 206.4ZM446.7 199.7A94.6 94.6 0 0 1 447.4 199.5L449.2 205.3A88.5 88.5 0 0 0 448.6 205.5ZM448.8 199.1A94.6 94.6 0 0 1 450.1 198.7L451.7 204.6A88.5 88.5 0 0 0 450.6 204.9Z" fill="#e84e28" fill-opacity="0.7"/>
<path d="M480.0 195.2A94.6 94.6 0 0 1 480.5 195.2L480.2 201.3A88.5 88.5 0 0 0 479.8 201.3ZM485.0 195.5A94.6 94.6 0 0 1 485.8 195.6L485.2 201.7A88.5 88.5 0 0 0 484.4 201.6ZM488.3 195.9A94.6 94.6 0 0 1 489.3 196.0L488.5 202.1A88.5 88.5 0 0 0 487.5 202.0ZM492.3 196.5A94.6 94.6 0 0 1 493.1 196.7L492.0 202.7A88.5 88.5 0 0 0 491.3 202.5ZM495.1 197.1A94.6 94.6 0 0 1 496.3 197.3L495.0 203.3A88.5 88.5 0 0 0 493.9 203.0ZM499.8 198.1A94.6 94.6 0 0 1 500.5 198.3L498.9 204.2A88.5 88.5 0 0 0 498.2 204.0ZM511.1 201.9A94.6 94.6 0 0 1 512.3 202.3L510.0 208.0A88.5 88.5 0 0 0 508.8 207.5ZM519.4 205.7A94.6 94.6 0 0 1 520.7 206.3L517.8 211.7A88.5 88.5 0 0 0 516.6 211.1ZM520.9 206.5A94.6 94.6 0 0 1 521.4 206.7L518.4 212.0A88.5 88.5 0 0 0 518.0 211.8ZM523.1 207.6A94.6 94.6 0 0 1 523.5 207.9L520.4 213.2A88.5 88.5 0 0 0 520.0 212.9ZM527.3 210.2A94.6 94.6 0 0 1 528.4 211.0L525.0 216.0A88.5 88.5 0 0 0 524.0 215.3ZM531.2 212.8A94.6 94.6 0 0 1 532.2 213.6L528.5 218.5A88.5 88.5 0 0 0 527.6 217.8ZM534.1 215.1A94.6 94.6 0 0 1 534.7 215.5L531.0 220.3A88.5 88.5 0 0 0 530.4 219.9ZM536.0 216.6A94.6 94.6 0 0 1 536.8 217.2L532.9 221.9A88.5 88.5 0 0 0 532.1 221.3ZM537.0 217.4A94.6 94.6 0 0 1 537.8 218.1L533.8 222.7A88.5 88.5 0 0 0 533.1 222.1ZM540.9 220.8A94.6 94.6 0 0 1 541.3 221.3L537.1 225.7A88.5 88.5 0 0 0 536.7 225.3ZM541.5 221.4A94.6 94.6 0 0 1 542.1 222.0L537.9 226.4A88.5 88.5 0 0 0 537.3 225.8ZM542.2 222.2A94.6 94.6 0 0 1 543.1 223.0L538.7 227.3A88.5 88.5 0 0 0 538.0 226.5ZM543.5 223.5A94.6 94.6 0 0 1 544.2 224.2L539.8 228.4A88.5 88.5 0 0 0 539.2 227.7ZM547.5 227.8A94.6 94.6 0 0 1 548.4 228.8L543.7 232.7A88.5 88.5 0 0 0 542.9 231.8ZM549.0 229.5A94.6 94.6 0 0 1 549.7 230.4L544.9 234.2A88.5 88.5 0 0 0 544.3 233.4ZM554.0 236.2A94.6 94.6 0 0 1 554.8 237.3L549.7 240.7A88.5 88.5 0 0 0 549.0 239.7ZM560.2 246.7A94.6 94.6 0 0 1 560.6 247.4L555.2 250.1A88.5 88.5 0 0 0 554.8 249.4ZM562.6 251.7A94.6 94.6 0 0 1 562.9 252.2L557.3 254.6A88.5 88.5 0 0 0 557.1 254.2ZM565.2 258.3A94.6 94.6 0 0 1 565.6 259.3L559.8 261.3A88.5 88.5 0 0 0 559.5 260.3ZM566.1 261.0A94.6 94.6 0 0 1 566.3 261.6L560.5 263.4A88.5 88.5 0 0 0 560.3 262.9ZM566.4 262.0A94.6 94.6 0 0 1 566.8 263.0L560.9 264.7A88.5 88.5 0 0 0 560.6 263.8ZM568.3 269.1A94.6 94.6 0 0 1 568.5 269.7L562.5 271.0A88.5 88.5 0 0 0 562.4 270.5ZM569.3 273.9A94.6 94.6 0 0 1 569.4 274.5L563.4 275.5A88.5 88.5 0 0 0 563.3 274.9ZM569.4 274.7A94.6 94.6 0 0 1 569.5 275.4L563.5 276.3A88.5 88.5 0 0 0 563.4 275.6ZM569.6 276.2A94.6 94.6 0 0 1 569.8 277.3L563.7 278.1A88.5 88.5 0 0 0 563.6 277.1ZM569.8 277.6A94.6 94.6 0 0 1 569.9 278.3L563.9 279.0A88.5 88.5 0 0 0 563.8 278.3ZM570.1 280.0A94.6 94.6 0 0 1 570.2 281.4L564.2 282.0A88.5 88.5 0 0 0 564.0 280.6ZM570.3 282.1A94.6 94.6 0 0 1 570.4 282.9L564.3 283.4A88.5 88.5 0 0 0 564.2 282.6ZM570.6 287.4A94.6 94.6 0 0 1 570.6 288.5L564.5 288.6A88.5 88.5 0 0 0 564.5 287.5ZM570.6 288.7A94.6 94.6 0 0 1 570.6 290.0L564.5 289.9A88.5 88.5 0 0 0 564.5 288.7ZM570.6 291.3A94.6 94.6 0 0 1 570.6 292.8L564.5 292.6A88.5 88.5 0 0 0 564.5 291.2ZM570.4 296.5A94.6 94.6 0 0 1 570.3 297.5L564.2 297.0A88.5 88.5 0 0 0 564.3 296.1ZM570.3 297.7A94.6 94.6 0 0 1 570.2 298.2L564.1 297.6A88.5 88.5 0 0 0 564.2 297.2ZM570.0 300.1A94.6 94.6 0 0 1 569.9 301.3L563.8 300.6A88.5 88.5 0 0 0 564.0 299.4ZM566.4 317.5A94.6 94.6 0 0 1 566.0 318.9L560.2 317.0A88.5 88.5 0 0 0 560.6 315.7ZM565.8 319.5A94.6 94.6 0 0 1 565.6 320.1L559.8 318.2A88.5 88.5 0 0 0 560.0 317.5ZM564.7 322.5A94.6 94.6 0 0 1 564.3 323.6L558.6 321.4A88.5 88.5 0 0 0 559.0 320.3ZM563.7 325.2A94.6 94.6 0 0 1 563.5 325.6L557.9 323.3A88.5 88.5 0 0 0 558.0 322.9ZM562.5 328.0A94.6 94.6 0 0 1 562.0 329.1L556.4 326.6A88.5 88.5 0 0 0 556.9 325.6ZM561.7 329.7A94.6 94.6 0 0 1 561.2 330.9L555.7 328.2A88.5 88.5 0 0 0 556.2 327.2ZM558.7 335.6A94.6 94.6 0 0 1 558.1 336.6L552.8 333.6A88.5 88.5 0 0 0 553.4 332.7ZM556.3 339.8A94.6 94.6 0 0 1 555.5 341.0L550.3 337.7A88.5 88.5 0 0 0 551.1 336.6ZM551.1 347.3A94.6 94.6 0 0 1 550.3 348.3L545.5 344.5A88.5 88.5 0 0 0 546.2 343.6ZM545.7 353.6A94.6 94.6 0 0 1 545.3 354.1L540.8 350.0A88.5 88.5 0 0 0 541.2 349.5ZM541.7 357.8A94.6 94.6 0 0 1 541.3 358.1L537.1 353.7A88.5 88.5 0 0 0 537.5 353.4ZM541.0 358.5A94.6 94.6 0 0 1 540.1 359.3L535.9 354.8A88.5 88.5 0 0 0 536.8 354.0ZM540.0 359.4A94.6 94.6 0 0 1 538.9 360.3L534.9 355.8A88.5 88.5 0 0 0 535.8 354.9ZM537.6 361.5A94.6 94.6 0 0 1 537.2 361.8L533.3 357.2A88.5 88.5 0 0 0 533.7 356.8ZM536.9 362.0A94.6 94.6 0 0 1 536.0 362.9L532.1 358.1A88.5 88.5 0 0 0 533.0 357.4ZM524.4 371.0A94.6 94.6 0 0 1 523.5 371.5L520.5 366.2A88.5 88.5 0 0 0 521.2 365.8ZM522.6 372.0A94.6 94.6 0 0 1 521.7 372.6L518.7 367.2A88.5 88.5 0 0 0 519.6 366.7ZM512.8 376.9A94.6 94.6 0 0 1 512.3 377.1L509.9 371.4A88.5 88.5 0 0 0 510.4 371.2ZM512.0 377.2A94.6 94.6 0 0 1 510.6 377.7L508.4 372.1A88.5 88.5 0 0 0 509.7 371.6ZM503.8 380.1A94.6 94.6 0 0 1 502.4 380.5L500.7 374.7A88.5 88.5 0 0 0 502.0 374.3ZM499.3 381.4A94.6 94.6 0 0 1 498.2 381.7L496.7 375.7A88.5 88.5 0 0 0 497.8 375.5ZM497.8 381.8A94.6 94.6 0 0 1 496.8 382.0L495.5 376.0A88.5 88.5 0 0 0 496.4 375.8ZM496.0 382.2A94.6 94.6 0 0 1 495.5 382.3L494.3 376.3A88.5 88.5 0 0 0 494.7 376.2ZM489.6 383.3A94.6 94.6 0 0 1 488.4 383.5L487.6 377.4A88.5 88.5 0 0 0 488.7 377.3ZM485.8 383.8A94.6 94.6 0 0 1 484.4 383.9L483.9 377.8A88.5 88.5 0 0 0 485.2 377.7ZM480.3 384.2A94.6 94.6 0 0 1 479.3 384.2L479.1 378.1A88.5 88.5 0 0 0 480.0 378.1ZM469.8 384.1A94.6 94.6 0 0 1 468.4 384.0L468.9 377.9A88.5 88.5 0 0 0 470.2 378.0ZM468.2 384.0A94.6 94.6 0 0 1 466.8 383.8L467.4 377.8A88.5 88.5 0 0 0 468.7 377.9ZM464.1 383.5A94.6 94.6 0 0 1 463.5 383.5L464.3 377.4A88.5 88.5 0 0 0 464.8 377.5ZM452.8 381.4A94.6 94.6 0 0 1 452.1 381.2L453.7 375.3A88.5 88.5 0 0 0 454.3 375.5ZM452.1 381.2A94.6 94.6 0 0 1 451.3 381.0L452.9 375.1A88.5 88.5 0 0 0 453.6 375.3ZM447.9 380.0A94.6 94.6 0 0 1 447.1 379.8L449.0 374.0A88.5 88.5 0 0 0 449.7 374.2ZM443.2 378.4A94.6 94.6 0 0 1 442.3 378.1L444.4 372.4A88.5 88.5 0 0 0 445.3 372.7ZM438.3 376.5A94.6 94.6 0 0 1 437.5 376.1L440.0 370.6A88.5 88.5 0 0 0 440.7 370.9ZM432.8 373.9A94.6 94.6 0 0 1 431.8 373.3L434.6 367.9A88.5 88.5 0 0 0 435.6 368.4ZM431.4 373.1A94.6 94.6 0 0 1 430.4 372.6L433.4 367.2A88.5 88.5 0 0 0 434.2 367.7ZM430.1 372.4A94.6 94.6 0 0 1 429.5 372.1L432.5 366.8A88.5 88.5 0 0 0 433.0 367.1ZM426.4 370.3A94.6 94.6 0 0 1 425.8 369.9L429.1 364.7A88.5 88.5 0 0 0 429.6 365.1ZM418.5 364.8A94.6 94.6 0 0 1 418.0 364.4L421.7 359.6A88.5 88.5 0 0 0 422.2 359.9ZM411.8 359.2A94.6 94.6 0 0 1 411.4 358.8L415.6 354.4A88.5 88.5 0 0 0 416.0 354.7ZM411.3 358.7A94.6 94.6 0 0 1 410.9 358.3L415.1 353.9A88.5 88.5 0 0 0 415.5 354.3ZM409.7 357.2A94.6 94.6 0 0 1 408.8 356.2L413.1 351.9A88.5 88.5 0 0 0 414.0 352.9ZM402.8 349.6A94.6 94.6 0 0 1 402.5 349.2L407.2 345.4A88.5 88.5 0 0 0 407.5 345.8ZM398.3 343.7A94.6 94.6 0 0 1 398.1 343.3L403.1 339.9A88.5 88.5 0 0 0 403.3 340.2ZM397.7 342.9A94.6 94.6 0 0 1 397.0 341.7L402.1 338.4A88.5 88.5 0 0 0 402.8 339.4ZM388.9 326.7A94.6 94.6 0 0 1 388.5 325.7L394.2 323.4A88.5 88.5 0 0 0 394.5 324.3ZM388.3 325.1A94.6 94.6 0 0 1 388.0 324.5L393.7 322.3A88.5 88.5 0 0 0 393.9 322.8ZM387.9 324.1A94.6 94.6 0 0 1 387.4 322.9L393.1 320.7A88.5 88.5 0 0 0 393.5 321.8ZM386.7 321.0A94.6 94.6 0 0 1 386.5 320.4L392.3 318.5A88.5 88.5 0 0 0 392.5 318.9ZM385.5 317.2A94.6 94.6 0 0 1 385.1 315.8L390.9 314.1A88.5 88.5 0 0 0 391.3 315.5ZM384.9 315.4A94.6 94.6 0 0 1 384.6 314.0L390.5 312.5A88.5 88.5 0 0 0 390.8 313.7ZM384.0 311.6A94.6 94.6 0 0 1 383.7 310.4L389.7 309.1A88.5 88.5 0 0 0 389.9 310.2ZM383.4 309.0A94.6 94.6 0 0 1 383.3 308.5L389.3 307.3A88.5 88.5 0 0 0 389.4 307.8ZM381.7 297.3A94.6 94.6 0 0 1 381.7 296.9L387.8 296.4A88.5 88.5 0 0 0 387.8 296.8ZM381.6 296.2A94.6 94.6 0 0 1 381.6 295.4L387.7 295.0A88.5 88.5 0 0 0 387.7 295.8ZM381.5 294.1A94.6 94.6 0 0 1 381.4 292.7L387.5 292.5A88.5 88.5 0 0 0 387.6 293.8ZM381.4 291.9A94.6 94.6 0 0 1 381.4 290.6L387.5 290.5A88.5 88.5 0 0 0 387.5 291.8ZM381.4 288.2A94.6 94.6 0 0 1 381.4 286.8L387.5 287.0A88.5 88.5 0 0 0 387.5 288.3ZM381.5 286.4A94.6 94.6 0 0 1 381.5 285.1L387.6 285.4A88.5 88.5 0 0 0 387.6 286.6ZM381.6 284.3A94.6 94.6 0 0 1 381.6 283.6L387.7 284.0A88.5 88.5 0 0 0 387.6 284.6ZM381.6 282.8A94.6 94.6 0 0 1 381.8 281.5L387.8 282.0A88.5 88.5 0 0 0 387.7 283.3ZM382.4 275.8A94.6 94.6 0 0 1 382.5 275.2L388.5 276.2A88.5 88.5 0 0 0 388.5 276.7ZM383.6 269.4A94.6 94.6 0 0 1 383.9 268.2L389.8 269.6A88.5 88.5 0 0 0 389.6 270.7ZM383.9 268.0A94.6 94.6 0 0 1 384.2 266.9L390.1 268.4A88.5 88.5 0 0 0 389.9 269.4ZM384.7 264.8A94.6 94.6 0 0 1 385.1 263.7L390.9 265.3A88.5 88.5 0 0 0 390.6 266.4ZM385.2 263.2A94.6 94.6 0 0 1 385.4 262.4L391.3 264.1A88.5 88.5 0 0 0 391.0 264.9ZM391.8 246.5A94.6 94.6 0 0 1 392.3 245.5L397.7 248.4A88.5 88.5 0 0 0 397.3 249.3ZM392.7 244.9A94.6 94.6 0 0 1 393.2 244.0L398.5 247.0A88.5 88.5 0 0 0 398.1 247.8ZM394.5 241.7A94.6 94.6 0 0 1 394.7 241.3L399.9 244.4A88.5 88.5 0 0 0 399.7 244.8ZM394.9 241.0A94.6 94.6 0 0 1 395.1 240.6L400.3 243.8A88.5 88.5 0 0 0 400.1 244.1ZM395.3 240.4A94.6 94.6 0 0 1 395.6 239.8L400.8 243.0A88.5 88.5 0 0 0 400.5 243.6ZM398.4 235.6A94.6 94.6 0 0 1 398.8 235.0L403.8 238.5A88.5 88.5 0 0 0 403.4 239.0ZM399.3 234.4A94.6 94.6 0 0 1 399.7 233.8L404.6 237.4A88.5 88.5 0 0 0 404.2 238.0ZM410.5 221.4A94.6 94.6 0 0 1 411.5 220.5L415.7 224.9A88.5 88.5 0 0 0 414.7 225.8ZM412.0 220.0A94.6 94.6 0 0 1 412.6 219.5L416.6 224.1A88.5 88.5 0 0 0 416.1 224.5ZM422.4 211.7A94.6 94.6 0 0 1 423.1 211.3L426.5 216.3A88.5 88.5 0 0 0 425.9 216.8ZM425.5 209.7A94.6 94.6 0 0 1 426.1 209.3L429.3 214.5A88.5 88.5 0 0 0 428.7 214.9ZM428.7 207.8A94.6 94.6 0 0 1 429.2 207.5L432.2 212.8A88.5 88.5 0 0 0 431.7 213.1ZM431.1 206.4A94.6 94.6 0 0 1 432.3 205.8L435.2 211.2A88.5 88.5 0 0 0 434.0 211.8ZM433.0 205.4A94.6 94.6 0 0 1 434.1 204.9L436.8 210.4A88.5 88.5 0 0 0 435.8 210.9ZM439.5 202.4A94.6 94.6 0 0 1 440.3 202.1L442.6 207.7A88.5 88.5 0 0 0 441.9 208.0ZM442.4 201.3A94.6 94.6 0 0 1 442.8 201.1L445.0 206.8A88.5 88.5 0 0 0 444.6 207.0ZM445.6 200.1A94.6 94.6 0 0 1 446.6 199.8L448.5 205.6A88.5 88.5 0 0 0 447.5 205.9Z" fill="#ee7840" fill-opacity="0.7"/>
<path d="M498.1 197.7A94.6 94.6 0 0 1 498.9 197.9L497.4 203.8A88.5 88.5 0 0 0 496.7 203.7ZM502.4 198.9A94.6 94.6 0 0 1 503.1 199.1L501.4 204.9A88.5 88.5 0 0 0 500.7 204.7ZM505.2 199.7A94.6 94.6 0 0 1 506.4 200.1L504.4 205.9A88.5 88.5 0 0 0 503.4 205.5ZM517.8 204.8A94.6 94.6 0 0 1 519.1 205.5L516.3 210.9A88.5 88.5 0 0 0 515.1 210.3ZM523.7 208.0A94.6 94.6 0 0 1 524.6 208.5L521.4 213.7A88.5 88.5 0 0 0 520.6 213.3ZM526.0 209.4A94.6 94.6 0 0 1 526.6 209.8L523.3 214.9A88.5 88.5 0 0 0 522.7 214.5ZM528.8 211.2A94.6 94.6 0 0 1 529.7 211.8L526.3 216.9A88.5 88.5 0 0 0 525.4 216.3ZM544.6 224.6A94.6 94.6 0 0 1 545.1 225.1L540.6 229.3A88.5 88.5 0 0 0 540.2 228.8ZM551.9 233.2A94.6 94.6 0 0 1 552.4 233.9L547.4 237.5A88.5 88.5 0 0 0 547.0 236.8ZM555.8 238.9A94.6 94.6 0 0 1 556.2 239.6L551.1 242.8A88.5 88.5 0 0 0 550.6 242.1ZM564.6 256.6A94.6 94.6 0 0 1 565.0 257.5L559.2 259.6A88.5 88.5 0 0 0 558.9 258.7ZM569.0 272.2A94.6 94.6 0 0 1 569.2 273.3L563.2 274.4A88.5 88.5 0 0 0 563.0 273.3ZM570.0 278.8A94.6 94.6 0 0 1 570.0 279.4L564.0 280.0A88.5 88.5 0 0 0 563.9 279.5ZM569.4 304.7A94.6 94.6 0 0 1 569.2 305.7L563.2 304.6A88.5 88.5 0 0 0 563.4 303.7ZM567.8 312.7A94.6 94.6 0 0 1 567.6 313.2L561.7 311.7A88.5 88.5 0 0 0 561.8 311.2ZM567.6 313.4A94.6 94.6 0 0 1 567.5 313.8L561.6 312.3A88.5 88.5 0 0 0 561.7 311.8ZM565.2 321.1A94.6 94.6 0 0 1 564.8 322.2L559.1 320.1A88.5 88.5 0 0 0 559.5 319.1ZM557.7 337.4A94.6 94.6 0 0 1 557.4 338.0L552.1 334.9A88.5 88.5 0 0 0 552.4 334.4ZM555.2 341.5A94.6 94.6 0 0 1 554.7 342.3L549.6 338.9A88.5 88.5 0 0 0 550.1 338.1ZM550.0 348.7A94.6 94.6 0 0 1 549.2 349.7L544.5 345.8A88.5 88.5 0 0 0 545.2 344.9ZM546.8 352.4A94.6 94.6 0 0 1 545.8 353.5L541.3 349.4A88.5 88.5 0 0 0 542.2 348.4ZM543.1 356.3A94.6 94.6 0 0 1 542.1 357.4L537.8 353.0A88.5 88.5 0 0 0 538.8 352.0ZM538.5 360.7A94.6 94.6 0 0 1 537.8 361.3L533.9 356.7A88.5 88.5 0 0 0 534.5 356.1ZM535.6 363.2A94.6 94.6 0 0 1 535.0 363.7L531.2 358.9A88.5 88.5 0 0 0 531.8 358.4ZM533.7 364.7A94.6 94.6 0 0 1 532.6 365.5L529.0 360.6A88.5 88.5 0 0 0 529.9 359.9ZM529.3 367.8A94.6 94.6 0 0 1 528.3 368.5L524.9 363.4A88.5 88.5 0 0 0 525.9 362.8ZM514.1 376.3A94.6 94.6 0 0 1 513.1 376.7L510.7 371.1A88.5 88.5 0 0 0 511.7 370.7ZM487.6 383.6A94.6 94.6 0 0 1 486.6 383.7L485.9 377.6A88.5 88.5 0 0 0 486.9 377.5ZM484.1 384.0A94.6 94.6 0 0 1 483.1 384.0L482.7 377.9A88.5 88.5 0 0 0 483.6 377.9ZM482.3 384.1A94.6 94.6 0 0 1 481.2 384.2L480.8 378.1A88.5 88.5 0 0 0 481.9 378.0ZM460.1 383.0A94.6 94.6 0 0 1 458.7 382.7L459.8 376.7A88.5 88.5 0 0 0 461.1 376.9ZM446.8 379.7A94.6 94.6 0 0 1 446.3 379.5L448.3 373.7A88.5 88.5 0 0 0 448.7 373.9ZM439.4 376.9A94.6 94.6 0 0 1 438.4 376.5L440.8 370.9A88.5 88.5 0 0 0 441.7 371.3ZM437.2 376.0A94.6 94.6 0 0 1 436.8 375.8L439.4 370.3A88.5 88.5 0 0 0 439.7 370.4ZM436.4 375.6A94.6 94.6 0 0 1 435.5 375.2L438.1 369.7A88.5 88.5 0 0 0 439.0 370.1ZM435.1 375.0A94.6 94.6 0 0 1 433.9 374.4L436.6 369.0A88.5 88.5 0 0 0 437.7 369.5ZM433.7 374.3A94.6 94.6 0 0 1 433.2 374.1L436.0 368.6A88.5 88.5 0 0 0 436.4 368.8ZM429.1 371.9A94.6 94.6 0 0 1 428.7 371.6L431.7 366.3A88.5 88.5 0 0 0 432.1 366.6ZM428.5 371.5A94.6 94.6 0 0 1 427.6 371.0L430.7 365.7A88.5 88.5 0 0 0 431.5 366.2ZM406.8 354.2A94.6 94.6 0 0 1 405.9 353.3L410.5 349.2A88.5 88.5 0 0 0 411.2 350.0ZM402.0 348.7A94.6 94.6 0 0 1 401.1 347.5L406.0 343.8A88.5 88.5 0 0 0 406.8 344.9ZM400.9 347.2A94.6 94.6 0 0 1 400.1 346.2L405.0 342.6A88.5 88.5 0 0 0 405.7 343.5ZM382.0 300.1A94.6 94.6 0 0 1 381.8 298.9L387.9 298.3A88.5 88.5 0 0 0 388.0 299.4ZM384.3 266.3A94.6 94.6 0 0 1 384.6 265.5L390.5 267.0A88.5 88.5 0 0 0 390.2 267.8ZM388.7 253.4A94.6 94.6 0 0 1 389.0 252.5L394.6 254.9A88.5 88.5 0 0 0 394.3 255.7ZM389.8 250.7A94.6 94.6 0 0 1 390.4 249.5L395.9 252.1A88.5 88.5 0 0 0 395.4 253.2ZM390.4 249.4A94.6 94.6 0 0 1 390.7 248.8L396.2 251.5A88.5 88.5 0 0 0 395.9 252.0ZM403.7 228.7A94.6 94.6 0 0 1 404.3 228.0L408.9 232.0A88.5 88.5 0 0 0 408.4 232.6ZM414.9 217.4A94.6 94.6 0 0 1 415.4 217.0L419.3 221.7A88.5 88.5 0 0 0 418.9 222.1ZM415.5 217.0A94.6 94.6 0 0 1 416.3 216.3L420.1 221.1A88.5 88.5 0 0 0 419.4 221.6ZM416.6 216.1A94.6 94.6 0 0 1 417.0 215.7L420.8 220.5A88.5 88.5 0 0 0 420.4 220.8ZM417.1 215.7A94.6 94.6 0 0 1 418.2 214.8L421.9 219.6A88.5 88.5 0 0 0 420.9 220.4ZM426.3 209.2A94.6 94.6 0 0 1 426.7 209.0L429.8 214.2A88.5 88.5 0 0 0 429.5 214.4ZM447.9 199.4A94.6 94.6 0 0 1 448.7 199.1L450.5 205.0A88.5 88.5 0 0 0 449.7 205.2Z" fill="#f4a468" fill-opacity="0.8"/>
<text transform="translate(478.1,190.9) rotate(1.0)" font-size="2.7" text-anchor="start" fill="#333" stroke="none">0Mb</text>
<text transform="translate(496.0,192.9) rotate(11.7)" font-size="2.7" text-anchor="middle" fill="#333" stroke="none">90Mb</text>
<text transform="translate(519.9,201.2) rotate(26.2)" font-size="2.7" text-anchor="start" fill="#333" stroke="none">0Mb</text>
<text transform="translate(534.8,210.3) rotate(36.5)" font-size="2.7" text-anchor="middle" fill="#333" stroke="none">90Mb</text>
<text transform="translate(550.9,225.3) rotate(49.1)" font-size="2.7" text-anchor="start" fill="#333" stroke="none">0Mb</text>
<text transform="translate(561.1,239.5) rotate(59.5)" font-size="2.7" text-anchor="middle" fill="#333" stroke="none">90Mb</text>
<text transform="translate(568.7,255.4) rotate(69.5)" font-size="2.7" text-anchor="start" fill="#333" stroke="none">0Mb</text>
<text transform="translate(573.1,271.4) rotate(79.3)" font-size="2.7" text-anchor="middle" fill="#333" stroke="none">90Mb</text>
<text transform="translate(574.8,287.6) rotate(88.6)" font-size="2.7" text-anchor="start" fill="#333" stroke="none">0Mb</text>
<text transform="translate(573.7,304.1) rotate(98.4)" font-size="2.7" text-anchor="middle" fill="#333" stroke="none">90Mb</text>
<text transform="translate(570.3,319.1) rotate(107.1)" font-size="2.7" text-anchor="start" fill="#333" stroke="none">0Mb</text>
<text transform="translate(563.6,335.4) rotate(117.6)" font-size="2.7" text-anchor="middle" fill="#333" stroke="none">90Mb</text>
<text transform="translate(555.2,348.7) rotate(126.5)" font-size="2.7" text-anchor="start" fill="#333" stroke="none">0Mb</text>
<text transform="translate(543.2,362.1) rotate(137.1)" font-size="2.7" text-anchor="middle" fill="#333" stroke="none">90Mb</text>
<text transform="translate(531.4,371.5) rotate(145.7)" font-size="2.7" text-anchor="start" fill="#333" stroke="none">0Mb</text>
<text transform="translate(515.8,380.1) rotate(156.3)" font-size="2.7" text-anchor="middle" fill="#333" stroke="none">90Mb</text>
<text transform="translate(504.7,384.2) rotate(162.9)" font-size="2.7" text-anchor="start" fill="#333" stroke="none">0Mb</text>
<text transform="translate(485.9,388.0) rotate(174.2)" font-size="2.7" text-anchor="middle" fill="#333" stroke="none">90Mb</text>
<text transform="translate(474.6,388.5) rotate(180.6)" font-size="2.7" text-anchor="start" fill="#333" stroke="none">0Mb</text>
<text transform="translate(457.6,386.8) rotate(190.7)" font-size="2.7" text-anchor="middle" fill="#333" stroke="none">90Mb</text>
<text transform="translate(446.3,383.9) rotate(197.3)" font-size="2.7" text-anchor="start" fill="#333" stroke="none">0Mb</text>
<text transform="translate(429.3,376.8) rotate(208.2)" font-size="2.7" text-anchor="middle" fill="#333" stroke="none">90Mb</text>
<text transform="translate(420.3,371.3) rotate(214.1)" font-size="2.7" text-anchor="start" fill="#333" stroke="none">0Mb</text>
<text transform="translate(406.1,359.5) rotate(225.0)" font-size="2.7" text-anchor="middle" fill="#333" stroke="none">90Mb</text>
<text transform="translate(399.3,352.0) rotate(230.7)" font-size="2.7" text-anchor="start" fill="#333" stroke="none">0Mb</text>
<text transform="translate(389.3,337.0) rotate(241.4)" font-size="2.7" text-anchor="middle" fill="#333" stroke="none">90Mb</text>
<text transform="translate(384.9,328.0) rotate(247.0)" font-size="2.7" text-anchor="start" fill="#333" stroke="none">0Mb</text>
<text transform="translate(379.5,310.9) rotate(257.6)" font-size="2.7" text-anchor="middle" fill="#333" stroke="none">90Mb</text>
<text transform="translate(377.8,300.2) rotate(263.7)" font-size="2.7" text-anchor="start" fill="#333" stroke="none">0Mb</text>
<text transform="translate(378.0,276.8) rotate(277.3)" font-size="2.7" text-anchor="start" fill="#333" stroke="none">0Mb</text>
<text transform="translate(383.5,254.9) rotate(290.4)" font-size="2.7" text-anchor="start" fill="#333" stroke="none">0Mb</text>
<text transform="translate(394.2,234.3) rotate(303.9)" font-size="2.7" text-anchor="start" fill="#333" stroke="none">0Mb</text>
<text transform="translate(407.9,218.2) rotate(316.2)" font-size="2.7" text-anchor="start" fill="#333" stroke="none">0Mb</text>
<text transform="translate(420.3,208.1) rotate(325.5)" font-size="2.7" text-anchor="start" fill="#333" stroke="none">0Mb</text>
<text transform="translate(436.2,199.3) rotate(336.2)" font-size="2.7" text-anchor="middle" fill="#333" stroke="none">90Mb</text>
<text transform="translate(455.6,193.0) rotate(347.9)" font-size="2.7" text-anchor="start" fill="#333" stroke="none">0Mb</text>
<path d="M477.7 191.7A98.0 98.0 0 0 1 516.2 200.3M477.7 191.7L477.7 190.7M486.8 192.3L486.9 191.3M495.8 193.7L496.0 192.8M504.7 196.0L505.0 195.0M513.3 199.1L513.7 198.1M519.3 201.8A98.0 98.0 0 0 1 547.8 223.0M519.3 201.8L519.7 200.9M527.0 206.0L527.5 205.2M534.3 211.0L534.9 210.1M541.2 216.5L541.9 215.8M547.5 222.7L548.2 222.0M550.1 225.5A98.0 98.0 0 0 1 566.5 252.2M550.1 225.5L550.8 224.9M555.6 232.5L556.4 231.9M560.4 239.9L561.3 239.4M564.5 247.7L565.4 247.3M567.8 255.4A98.0 98.0 0 0 1 573.8 283.9M567.8 255.4L568.7 255.0M570.4 263.4L571.4 263.1M572.3 271.6L573.3 271.4M573.5 279.9L574.5 279.8M574.0 287.3A98.0 98.0 0 0 1 570.6 315.2M574.0 287.3L575.0 287.3M573.8 295.7L574.8 295.7M573.0 304.0L573.9 304.1M571.4 312.2L572.4 312.4M569.7 318.5A98.0 98.0 0 0 1 556.8 345.2M569.7 318.5L570.6 318.8M566.7 326.9L567.6 327.3M562.9 335.0L563.8 335.5M558.4 342.8L559.2 343.3M554.8 348.0A98.0 98.0 0 0 1 534.0 368.7M554.8 348.0L555.6 348.6M549.0 355.0L549.8 355.7M542.7 361.5L543.3 362.3M535.7 367.4L536.3 368.2M531.2 370.7A98.0 98.0 0 0 1 508.1 382.3M531.2 370.7L531.8 371.5M523.5 375.4L524.0 376.3M515.4 379.4L515.8 380.3M504.8 383.4A98.0 98.0 0 0 1 478.4 387.7M504.8 383.4L505.1 384.3M495.4 385.8L495.6 386.7M485.8 387.2L485.9 388.2M475.0 387.7A98.0 98.0 0 0 1 450.1 384.2M475.0 387.7L475.0 388.7M466.3 387.2L466.2 388.2M457.8 386.0L457.6 387.0M446.9 383.3A98.0 98.0 0 0 1 423.9 372.7M446.9 383.3L446.6 384.2M438.1 380.1L437.7 381.0M429.7 376.1L429.2 376.9M421.1 370.8A98.0 98.0 0 0 1 402.4 354.4M421.1 370.8L420.5 371.7M413.6 365.2L412.9 366.0M406.7 358.9L405.9 359.7M400.2 351.8A98.0 98.0 0 0 1 387.2 331.1M400.2 351.8L399.4 352.4M394.7 344.4L393.9 345.0M390.0 336.6L389.1 337.1M385.8 328.0A98.0 98.0 0 0 1 379.0 303.8M385.8 328.0L384.9 328.4M382.6 319.5L381.7 319.8M380.3 310.8L379.3 311.0M378.6 300.5A98.0 98.0 0 0 1 378.4 280.6M378.6 300.5L377.6 300.6M378.0 291.9L377.0 291.9M378.2 283.3L377.2 283.2M378.8 277.2A98.0 98.0 0 0 1 383.0 258.8M378.8 277.2L377.8 277.1M380.3 268.7L379.3 268.5M382.5 260.3L381.6 260.0M384.1 255.5A98.0 98.0 0 0 1 392.8 237.9M384.1 255.5L383.2 255.2M387.8 247.0L386.9 246.5M392.3 238.8L391.4 238.3M394.7 235.0A98.0 98.0 0 0 1 405.7 221.4M394.7 235.0L393.8 234.5M399.9 228.0L399.1 227.4M405.6 221.5L404.9 220.8M408.2 219.0A98.0 98.0 0 0 1 417.7 210.9M408.2 219.0L407.5 218.2M415.1 213.0L414.4 212.2M420.5 208.9A98.0 98.0 0 0 1 452.1 194.7M420.5 208.9L419.9 208.1M428.3 204.1L427.8 203.2M436.5 200.0L436.1 199.1M445.1 196.7L444.8 195.8M455.5 193.9A98.0 98.0 0 0 1 474.3 191.7M455.5 193.9L455.2 192.9M464.6 192.4L464.5 191.4M473.9 191.7L473.9 190.7" stroke="#111" stroke-width="0.42" fill="none"/>
<text transform="translate(498.5,189.2) rotate(12.6)" font-size="7" text-anchor="middle">Chr1</text>
<text transform="translate(537.5,207.1) rotate(36.6)" font-size="7" text-anchor="middle">Chr2</text>
<text transform="translate(563.6,235.6) rotate(58.3)" font-size="7" text-anchor="middle">Chr3</text>
<text transform="translate(576.8,268.4) rotate(78.0)" font-size="7" text-anchor="middle">Chr4</text>
<text transform="translate(578.3,302.0) rotate(96.8)" font-size="7" text-anchor="middle">Chr5</text>
<text transform="translate(568.7,334.5) rotate(115.8)" font-size="7" text-anchor="middle">Chr6</text>
<text transform="translate(548.7,362.7) rotate(135.1)" font-size="7" text-anchor="middle">Chr7</text>
<text transform="translate(522.3,381.7) rotate(153.3)" font-size="7" text-anchor="middle">Chr8</text>
<text transform="translate(492.6,391.4) rotate(170.8)" font-size="7" text-anchor="middle">Chr9</text>
<text transform="translate(461.8,391.7) rotate(187.9)" font-size="7" text-anchor="middle">Chr10</text>
<text transform="translate(433.0,383.3) rotate(204.7)" font-size="7" text-anchor="middle">Chr11</text>
<text transform="translate(407.9,367.0) rotate(221.4)" font-size="7" text-anchor="middle">Chr12</text>
<text transform="translate(388.8,344.5) rotate(237.8)" font-size="7" text-anchor="middle">Chr13</text>
<text transform="translate(376.8,317.5) rotate(254.3)" font-size="7" text-anchor="middle">Chr14</text>
<text transform="translate(373.0,290.6) rotate(269.5)" font-size="7" text-anchor="middle">Chr15</text>
<text transform="translate(375.6,266.8) rotate(282.9)" font-size="7" text-anchor="middle">Chr16</text>
<text transform="translate(383.5,244.3) rotate(296.1)" font-size="7" text-anchor="middle">Chr17</text>
<text transform="translate(396.0,224.8) rotate(309.0)" font-size="7" text-anchor="middle">Chr18</text>
<text transform="translate(409.6,211.0) rotate(319.9)" font-size="7" text-anchor="middle">Chr19</text>
<text transform="translate(433.6,195.8) rotate(335.7)" font-size="7" text-anchor="middle">ChrX</text>
<text transform="translate(464.3,187.4) rotate(353.4)" font-size="7" text-anchor="middle">ChrY</text>
<path d="M477.4 208.7A81.0 81.0 0 0 1 478.1 208.7L478.4 207.7L478.7 208.7A81.0 81.0 0 0 1 479.7 208.8L480.1 207.7L480.3 208.8A81.0 81.0 0 0 1 481.4 208.9L481.8 206.8L482.0 208.9A81.0 81.0 0 0 1 483.0 209.0L483.4 208.0L483.6 209.1A81.0 81.0 0 0 1 484.6 209.2L485.2 207.2L485.2 209.2A81.0 81.0 0 0 1 486.3 209.4L486.8 207.5L486.9 209.4A81.0 81.0 0 0 1 487.9 209.6L488.5 207.3L488.5 209.7A81.0 81.0 0 0 1 489.5 209.8L490.0 208.5L490.1 209.9A81.0 81.0 0 0 1 490.8 210.1L491.3 209.2L491.4 210.2A81.0 81.0 0 0 1 497.2 211.5L497.6 211.2L497.8 211.7A81.0 81.0 0 0 1 501.3 212.7L501.9 212.0L501.9 212.9A81.0 81.0 0 0 1 504.4 213.8L505.2 212.6L504.9 214.0A81.0 81.0 0 0 1 505.9 214.4L506.4 214.1L506.5 214.6A81.0 81.0 0 0 1 509.2 215.8M511.8 217.0A81.0 81.0 0 0 1 512.8 217.5L513.7 216.6L513.3 217.8A81.0 81.0 0 0 1 513.6 218.0L515.2 215.6L514.1 218.2A81.0 81.0 0 0 1 514.4 218.4L515.3 217.2L514.9 218.7A81.0 81.0 0 0 1 524.1 224.5L524.7 224.3L524.6 224.9A81.0 81.0 0 0 1 534.5 233.7L535.4 233.3L534.9 234.1A81.0 81.0 0 0 1 535.3 234.6M537.2 236.7A81.0 81.0 0 0 1 538.7 238.4L539.4 238.3L539.1 238.9A81.0 81.0 0 0 1 545.0 247.3L546.1 247.0L545.3 247.8A81.0 81.0 0 0 1 545.6 248.2L548.2 247.0L545.9 248.7A81.0 81.0 0 0 1 546.1 249.1L547.2 248.8L546.4 249.6A81.0 81.0 0 0 1 550.3 257.5L551.3 257.4L550.5 258.0A81.0 81.0 0 0 1 550.8 258.7M551.9 261.3A81.0 81.0 0 0 1 552.2 262.2L553.8 261.9L552.4 262.8A81.0 81.0 0 0 1 553.3 265.6L554.9 265.5L553.5 266.2A81.0 81.0 0 0 1 554.5 269.8L556.2 269.7L554.7 270.4A81.0 81.0 0 0 1 555.4 273.8L557.2 273.8L555.5 274.4A81.0 81.0 0 0 1 556.0 276.9L557.2 277.0L556.1 277.5A81.0 81.0 0 0 1 556.3 279.3L558.5 279.3L556.4 279.9A81.0 81.0 0 0 1 556.5 280.5L558.7 280.6L556.5 281.1A81.0 81.0 0 0 1 556.6 281.5L558.8 281.6L556.6 282.1A81.0 81.0 0 0 1 556.7 282.4L560.1 282.4L556.7 283.0A81.0 81.0 0 0 1 556.8 283.4L559.4 283.5L556.8 284.0A81.0 81.0 0 0 1 556.8 284.2L560.5 284.3L556.9 284.8A81.0 81.0 0 0 1 556.9 284.9M557.0 287.7A81.0 81.0 0 0 1 557.0 288.1L559.4 288.4L557.0 288.7A81.0 81.0 0 0 1 557.0 289.8L558.0 290.1L557.0 290.4A81.0 81.0 0 0 1 556.9 294.4L557.7 294.8L556.8 295.0A81.0 81.0 0 0 1 556.6 297.9L557.7 298.3L556.5 298.5A81.0 81.0 0 0 1 556.2 301.4L557.7 301.9L556.1 302.0A81.0 81.0 0 0 1 555.4 305.5L558.7 306.5L555.3 306.1A81.0 81.0 0 0 1 555.2 306.7L556.5 307.2L555.1 307.2A81.0 81.0 0 0 1 554.6 309.4L555.5 309.9L554.4 310.0A81.0 81.0 0 0 1 554.2 310.8M553.4 313.5A81.0 81.0 0 0 1 552.8 315.6L553.3 316.1L552.6 316.1A81.0 81.0 0 0 1 551.0 320.2L552.1 321.0L550.8 320.7A81.0 81.0 0 0 1 550.5 321.5L552.1 322.6L550.2 322.1A81.0 81.0 0 0 1 549.9 322.9L551.3 323.9L549.6 323.4A81.0 81.0 0 0 1 549.3 324.2L551.5 325.6L549.0 324.8A81.0 81.0 0 0 1 548.6 325.6L549.6 326.4L548.4 326.1A81.0 81.0 0 0 1 548.0 326.9L548.8 327.6L547.7 327.4A81.0 81.0 0 0 1 544.9 332.2L545.8 333.1L544.6 332.7A81.0 81.0 0 0 1 542.8 335.6M541.1 337.9A81.0 81.0 0 0 1 540.1 339.2L541.6 340.7L539.8 339.7A81.0 81.0 0 0 1 538.6 341.1L539.6 342.3L538.2 341.6A81.0 81.0 0 0 1 537.0 343.0L537.9 344.1L536.6 343.4A81.0 81.0 0 0 1 535.1 345.1L537.2 347.6L534.7 345.6A81.0 81.0 0 0 1 533.4 346.9L534.0 347.9L533.0 347.3A81.0 81.0 0 0 1 531.3 348.9L531.7 349.8L530.9 349.3A81.0 81.0 0 0 1 528.0 351.8L529.5 354.0L527.6 352.2A81.0 81.0 0 0 1 526.1 353.3L526.7 354.5L525.7 353.7A81.0 81.0 0 0 1 524.0 355.0M521.6 356.6A81.0 81.0 0 0 1 521.4 356.8L522.8 359.4L520.9 357.1A81.0 81.0 0 0 1 519.7 357.9L520.0 358.8L519.2 358.2A81.0 81.0 0 0 1 516.4 359.9L516.9 361.2L515.9 360.2A81.0 81.0 0 0 1 510.7 362.9L511.2 364.5L510.2 363.1A81.0 81.0 0 0 1 505.8 365.0L505.8 365.8L505.2 365.2A81.0 81.0 0 0 1 502.5 366.2M499.8 367.1A81.0 81.0 0 0 1 496.9 368.0L496.8 368.8L496.3 368.1A81.0 81.0 0 0 1 491.5 369.2L491.6 371.2L490.9 369.3A81.0 81.0 0 0 1 489.3 369.6L489.6 373.0L488.7 369.7A81.0 81.0 0 0 1 488.0 369.8L487.9 371.1L487.4 369.9A81.0 81.0 0 0 1 482.7 370.4L482.5 371.4L482.1 370.5A81.0 81.0 0 0 1 478.0 370.7M475.2 370.7A81.0 81.0 0 0 1 474.4 370.7L474.1 371.5L473.8 370.7A81.0 81.0 0 0 1 469.2 370.4L468.8 372.0L468.6 370.4A81.0 81.0 0 0 1 464.1 369.8L463.2 373.4L463.5 369.7A81.0 81.0 0 0 1 463.0 369.7L462.6 370.8L462.4 369.6A81.0 81.0 0 0 1 457.9 368.7L457.4 369.7L457.4 368.5A81.0 81.0 0 0 1 454.6 367.8M451.9 367.0A81.0 81.0 0 0 1 449.4 366.2L448.8 367.1L448.9 366.0A81.0 81.0 0 0 1 447.5 365.5L445.6 369.9L447.0 365.3A81.0 81.0 0 0 1 446.2 365.0L445.6 365.8L445.7 364.8A81.0 81.0 0 0 1 442.4 363.4L441.6 364.2L441.8 363.1A81.0 81.0 0 0 1 437.6 361.0L436.9 361.6L437.0 360.7A81.0 81.0 0 0 1 433.0 358.3M430.6 356.8L429.1 358.8L430.3 356.6A81.0 81.0 0 0 1 426.0 353.4L425.3 353.8L425.5 353.0A81.0 81.0 0 0 1 424.1 351.9L421.8 354.2L423.6 351.5A81.0 81.0 0 0 1 421.9 350.0L419.5 352.2L421.4 349.6A81.0 81.0 0 0 1 420.8 349.0L420.0 349.4L420.3 348.6A81.0 81.0 0 0 1 418.5 346.8L417.7 347.2L418.1 346.3A81.0 81.0 0 0 1 416.8 345.0L415.2 346.1L416.4 344.6A81.0 81.0 0 0 1 415.4 343.4L413.5 344.7L415.1 343.2M413.3 341.0L411.1 342.8L413.1 340.7A81.0 81.0 0 0 1 411.5 338.8L408.6 340.6L411.2 338.3A81.0 81.0 0 0 1 410.7 337.7L408.3 339.0L410.4 337.2A81.0 81.0 0 0 1 410.1 336.8L408.8 337.4L409.8 336.3A81.0 81.0 0 0 1 409.4 335.8L408.8 335.8L409.0 335.3A81.0 81.0 0 0 1 406.7 331.6L406.0 331.7L406.4 331.1A81.0 81.0 0 0 1 405.2 329.1L403.1 329.9L404.9 328.5A81.0 81.0 0 0 1 404.0 326.8L402.7 327.1L403.7 326.2A81.0 81.0 0 0 1 402.8 324.3L401.1 324.7L402.6 323.9M401.4 321.3A81.0 81.0 0 0 1 400.4 318.7L395.4 320.3L400.2 318.1A81.0 81.0 0 0 1 399.9 317.4L398.1 317.7L399.7 316.9A81.0 81.0 0 0 1 399.0 314.7L396.9 315.1L398.8 314.2A81.0 81.0 0 0 1 398.4 312.8L395.9 313.2L398.2 312.2A81.0 81.0 0 0 1 397.5 309.6L396.5 309.5L397.3 309.0A81.0 81.0 0 0 1 396.3 304.3L394.4 304.3L396.2 303.7A81.0 81.0 0 0 1 395.8 301.4M395.5 298.6A81.0 81.0 0 0 1 395.1 293.2L393.2 293.0L395.1 292.6A81.0 81.0 0 0 1 395.0 291.7L391.7 291.5L395.0 291.1A81.0 81.0 0 0 1 395.0 288.8L394.1 288.5L395.0 288.2A81.0 81.0 0 0 1 395.0 287.5L394.3 287.2L395.0 286.9A81.0 81.0 0 0 1 395.2 284.4L394.3 284.0L395.2 283.8A81.0 81.0 0 0 1 395.3 282.2M395.7 279.4A81.0 81.0 0 0 1 396.2 275.6L395.7 275.2L396.3 275.0A81.0 81.0 0 0 1 396.6 273.8L395.9 273.4L396.7 273.3A81.0 81.0 0 0 1 396.8 272.6L395.2 272.0L396.9 272.1A81.0 81.0 0 0 1 397.2 270.9L394.4 269.9L397.4 270.3A81.0 81.0 0 0 1 397.7 268.8L397.0 268.3L397.9 268.2A81.0 81.0 0 0 1 398.6 265.8L397.4 265.1L398.8 265.2A81.0 81.0 0 0 1 399.0 264.5L396.9 263.5L399.1 264.1M400.1 261.5A81.0 81.0 0 0 1 401.5 257.8L401.2 257.3L401.8 257.2A81.0 81.0 0 0 1 402.1 256.6L399.8 255.3L402.3 256.1A81.0 81.0 0 0 1 403.0 254.7L400.5 253.1L403.2 254.1A81.0 81.0 0 0 1 404.1 252.3L402.9 251.3L404.4 251.8A81.0 81.0 0 0 1 405.2 250.3L402.6 248.4L405.5 249.8A81.0 81.0 0 0 1 407.0 247.2L405.2 245.7L407.2 246.9M408.8 244.5A81.0 81.0 0 0 1 409.8 243.0L409.1 242.1L410.2 242.5A81.0 81.0 0 0 1 412.5 239.5L410.9 237.8L412.8 239.0A81.0 81.0 0 0 1 413.4 238.3L412.7 237.4L413.7 237.9A81.0 81.0 0 0 1 415.7 235.6L415.1 234.6L416.1 235.1A81.0 81.0 0 0 1 417.9 233.2M419.9 231.2A81.0 81.0 0 0 1 421.2 230.0L420.4 228.7L421.7 229.6A81.0 81.0 0 0 1 423.5 228.0L422.0 225.7L424.0 227.6A81.0 81.0 0 0 1 424.3 227.3L423.8 226.2L424.8 226.9A81.0 81.0 0 0 1 427.8 224.6M430.1 222.9A81.0 81.0 0 0 1 432.3 221.5L432.0 220.5L432.8 221.2A81.0 81.0 0 0 1 436.0 219.3L435.6 217.9L436.5 219.0A81.0 81.0 0 0 1 439.8 217.2L439.1 215.2L440.3 217.0A81.0 81.0 0 0 1 442.4 216.0L442.2 214.7L442.9 215.8A81.0 81.0 0 0 1 445.0 214.9L444.4 212.6L445.6 214.6A81.0 81.0 0 0 1 447.7 213.8L447.7 212.8L448.3 213.6A81.0 81.0 0 0 1 450.4 212.8L450.5 211.9L451.0 212.7A81.0 81.0 0 0 1 453.2 212.0L453.2 210.9L453.8 211.8A81.0 81.0 0 0 1 456.3 211.1M459.0 210.5A81.0 81.0 0 0 1 460.3 210.2L460.2 208.6L460.9 210.1A81.0 81.0 0 0 1 461.8 210.0L461.7 207.4L462.4 209.9A81.0 81.0 0 0 1 463.4 209.7L463.5 208.7L463.9 209.6A81.0 81.0 0 0 1 468.0 209.1L468.3 208.4L468.6 209.0A81.0 81.0 0 0 1 471.9 208.8L472.2 208.0L472.5 208.8A81.0 81.0 0 0 1 474.2 208.7L474.5 206.2L474.6 208.7" stroke="#25449a" stroke-width="0.65" fill="none" stroke-linejoin="miter"/>
<path d="M477.3 218.0A71.7 71.7 0 0 1 477.8 218.0L478.2 216.5L478.4 218.0A71.7 71.7 0 0 1 479.3 218.1L479.6 216.7L479.9 218.1A71.7 71.7 0 0 1 480.7 218.2L481.1 216.5L481.3 218.2A71.7 71.7 0 0 1 482.2 218.3L482.6 217.0L482.8 218.3A71.7 71.7 0 0 1 483.6 218.4L484.1 216.3L484.2 218.5A71.7 71.7 0 0 1 485.1 218.6L485.6 216.9L485.7 218.7A71.7 71.7 0 0 1 486.5 218.8L487.2 216.4L487.1 218.9A71.7 71.7 0 0 1 487.9 219.0L488.5 217.4L488.5 219.1A71.7 71.7 0 0 1 489.1 219.2L489.5 218.3L489.7 219.3A71.7 71.7 0 0 1 494.7 220.5L495.2 219.9L495.3 220.6A71.7 71.7 0 0 1 498.3 221.6L498.9 220.9L498.9 221.8A71.7 71.7 0 0 1 501.1 222.5L501.8 221.6L501.6 222.7A71.7 71.7 0 0 1 502.4 223.1L502.9 222.7L503.0 223.3A71.7 71.7 0 0 1 505.4 224.3M507.7 225.4A71.7 71.7 0 0 1 508.6 225.8L509.5 224.7L509.1 226.1A71.7 71.7 0 0 1 509.3 226.2L510.8 223.9L509.8 226.5A71.7 71.7 0 0 1 509.9 226.5L510.7 225.9L510.5 226.8A71.7 71.7 0 0 1 518.6 232.0L519.2 231.7L519.0 232.4A71.7 71.7 0 0 1 527.8 240.1L528.7 239.6L528.2 240.5A71.7 71.7 0 0 1 528.5 240.9M530.2 242.8A71.7 71.7 0 0 1 531.5 244.3L532.1 244.1L531.9 244.8A71.7 71.7 0 0 1 537.1 252.2L538.2 251.8L537.4 252.7A71.7 71.7 0 0 1 537.6 252.9L540.2 251.7L537.9 253.5A71.7 71.7 0 0 1 538.0 253.7L539.4 253.3L538.3 254.3A71.7 71.7 0 0 1 541.8 261.1L542.8 261.0L542.0 261.7A71.7 71.7 0 0 1 542.2 262.3M543.2 264.6A71.7 71.7 0 0 1 543.4 265.3L544.8 265.1L543.6 265.9A71.7 71.7 0 0 1 544.4 268.4L546.1 268.1L544.6 268.9A71.7 71.7 0 0 1 545.5 272.1L546.9 272.0L545.6 272.6A71.7 71.7 0 0 1 546.3 275.6L547.9 275.6L546.4 276.2A71.7 71.7 0 0 1 546.8 278.3L548.5 278.4L546.9 278.9A71.7 71.7 0 0 1 547.1 280.5L548.8 280.6L547.2 281.1A71.7 71.7 0 0 1 547.2 281.5L550.4 281.5L547.3 282.1A71.7 71.7 0 0 1 547.3 282.4L549.4 282.5L547.4 283.0A71.7 71.7 0 0 1 547.4 283.2L550.1 283.3L547.5 283.8A71.7 71.7 0 0 1 547.5 284.1L549.9 284.2L547.5 284.7A71.7 71.7 0 0 1 547.5 284.8L551.9 284.9L547.6 285.4A71.7 71.7 0 0 1 547.6 285.4M547.7 287.9A71.7 71.7 0 0 1 547.7 288.3L550.4 288.5L547.7 288.9A71.7 71.7 0 0 1 547.7 289.7L548.5 290.0L547.7 290.3A71.7 71.7 0 0 1 547.6 293.8L548.6 294.2L547.5 294.4A71.7 71.7 0 0 1 547.3 296.9L548.5 297.4L547.3 297.5A71.7 71.7 0 0 1 547.0 300.0L548.2 300.5L546.9 300.6A71.7 71.7 0 0 1 546.3 303.7L549.9 304.7L546.2 304.3A71.7 71.7 0 0 1 546.1 304.7L547.4 305.3L546.0 305.3A71.7 71.7 0 0 1 545.6 307.1L546.4 307.6L545.4 307.7A71.7 71.7 0 0 1 545.2 308.4M544.5 310.8A71.7 71.7 0 0 1 544.0 312.6L544.8 313.2L543.8 313.1A71.7 71.7 0 0 1 542.4 316.7L544.0 317.6L542.2 317.2A71.7 71.7 0 0 1 541.9 317.9L543.6 318.9L541.7 318.4A71.7 71.7 0 0 1 541.4 319.1L542.7 320.0L541.2 319.6A71.7 71.7 0 0 1 540.9 320.2L543.1 321.7L540.6 320.8A71.7 71.7 0 0 1 540.3 321.4L541.3 322.3L540.0 322.0A71.7 71.7 0 0 1 539.7 322.6L540.9 323.5L539.4 323.1A71.7 71.7 0 0 1 537.0 327.3L537.8 328.1L536.7 327.8A71.7 71.7 0 0 1 535.1 330.3M533.6 332.3A71.7 71.7 0 0 1 532.8 333.5L534.4 335.1L532.4 334.0A71.7 71.7 0 0 1 531.4 335.2L533.3 337.1L531.1 335.6A71.7 71.7 0 0 1 530.1 336.8L530.8 337.8L529.7 337.3A71.7 71.7 0 0 1 528.3 338.7L530.4 341.1L527.9 339.2A71.7 71.7 0 0 1 526.8 340.3L527.7 341.5L526.4 340.7A71.7 71.7 0 0 1 525.0 342.1L525.2 342.7L524.5 342.5A71.7 71.7 0 0 1 522.1 344.6L523.2 346.5L521.6 345.0A71.7 71.7 0 0 1 520.4 346.0L521.0 347.3L519.9 346.4A71.7 71.7 0 0 1 518.4 347.5M516.4 348.9A71.7 71.7 0 0 1 516.2 349.1L517.0 350.8L515.7 349.4A71.7 71.7 0 0 1 514.8 350.0L514.9 350.8L514.2 350.3A71.7 71.7 0 0 1 511.8 351.8L512.2 353.1L511.3 352.1A71.7 71.7 0 0 1 506.8 354.5L507.0 355.6L506.2 354.7A71.7 71.7 0 0 1 502.4 356.4L502.4 357.2L501.9 356.6A71.7 71.7 0 0 1 499.5 357.5M497.1 358.2A71.7 71.7 0 0 1 494.5 359.0L494.4 359.6L494.0 359.1A71.7 71.7 0 0 1 489.8 360.1L489.8 362.0L489.2 360.2A71.7 71.7 0 0 1 487.8 360.4L487.9 363.0L487.2 360.5A71.7 71.7 0 0 1 486.7 360.6L486.5 361.6L486.1 360.7A71.7 71.7 0 0 1 482.0 361.2L481.8 362.1L481.4 361.2A71.7 71.7 0 0 1 477.8 361.4M475.2 361.4A71.7 71.7 0 0 1 474.6 361.4L474.3 362.1L474.0 361.4A71.7 71.7 0 0 1 470.0 361.2L469.6 362.5L469.4 361.1A71.7 71.7 0 0 1 465.5 360.6L464.7 364.0L464.9 360.5A71.7 71.7 0 0 1 464.6 360.5L464.0 361.8L464.0 360.4A71.7 71.7 0 0 1 460.0 359.6L459.6 360.4L459.5 359.5A71.7 71.7 0 0 1 457.1 358.9M454.7 358.2A71.7 71.7 0 0 1 452.5 357.4L452.0 357.9L452.0 357.2A71.7 71.7 0 0 1 450.8 356.8L448.8 361.4L450.3 356.6A71.7 71.7 0 0 1 449.7 356.4L448.9 357.6L449.1 356.2A71.7 71.7 0 0 1 446.3 354.9L445.6 355.7L445.7 354.7A71.7 71.7 0 0 1 442.0 352.8L441.2 353.7L441.5 352.5A71.7 71.7 0 0 1 437.9 350.4M435.8 349.1L433.6 352.1L435.5 348.9A71.7 71.7 0 0 1 431.8 346.1L431.2 346.3L431.3 345.7A71.7 71.7 0 0 1 430.1 344.8L427.2 347.7L429.6 344.4A71.7 71.7 0 0 1 428.1 343.1L425.5 345.6L427.7 342.7A71.7 71.7 0 0 1 427.1 342.2L426.4 342.6L426.7 341.8A71.7 71.7 0 0 1 425.1 340.2L424.4 340.5L424.7 339.8A71.7 71.7 0 0 1 423.6 338.7L421.7 340.0L423.2 338.2A71.7 71.7 0 0 1 422.4 337.3L420.0 339.0L422.1 337.0M420.5 335.1L418.5 336.6L420.3 334.8A71.7 71.7 0 0 1 419.0 333.1L416.5 334.6L418.6 332.7A71.7 71.7 0 0 1 418.2 332.2L416.4 333.2L417.9 331.7A71.7 71.7 0 0 1 417.7 331.4L416.6 331.8L417.3 330.9A71.7 71.7 0 0 1 417.1 330.5L416.5 330.5L416.7 330.0A71.7 71.7 0 0 1 414.7 326.8L413.8 327.0L414.4 326.3A71.7 71.7 0 0 1 413.4 324.6L411.3 325.3L413.1 324.0A71.7 71.7 0 0 1 412.3 322.5L410.6 323.1L412.0 322.0A71.7 71.7 0 0 1 411.2 320.3L409.7 320.7L411.0 320.0M410.0 317.7A71.7 71.7 0 0 1 409.1 315.4L404.6 316.8L408.9 314.8A71.7 71.7 0 0 1 408.6 314.3L406.8 314.6L408.4 313.7A71.7 71.7 0 0 1 407.8 311.9L406.1 312.1L407.6 311.3A71.7 71.7 0 0 1 407.3 310.1L404.4 310.7L407.1 309.6A71.7 71.7 0 0 1 406.5 307.3L405.8 307.2L406.4 306.8A71.7 71.7 0 0 1 405.5 302.6L403.5 302.7L405.4 302.1A71.7 71.7 0 0 1 405.1 300.1M404.7 297.6A71.7 71.7 0 0 1 404.4 292.9L402.6 292.6L404.3 292.3A71.7 71.7 0 0 1 404.3 291.5L400.2 291.3L404.3 290.9A71.7 71.7 0 0 1 404.3 289.0L403.6 288.7L404.3 288.4A71.7 71.7 0 0 1 404.3 287.8L403.3 287.5L404.3 287.2A71.7 71.7 0 0 1 404.5 285.0L403.6 284.7L404.5 284.4A71.7 71.7 0 0 1 404.6 283.1M404.9 280.6A71.7 71.7 0 0 1 405.4 277.3L404.8 276.9L405.5 276.7A71.7 71.7 0 0 1 405.7 275.7L404.9 275.2L405.8 275.1A71.7 71.7 0 0 1 405.9 274.6L404.1 273.9L406.0 274.0A71.7 71.7 0 0 1 406.3 273.1L403.5 272.1L406.4 272.5A71.7 71.7 0 0 1 406.7 271.2L406.0 270.7L406.9 270.7A71.7 71.7 0 0 1 407.5 268.6L406.5 267.9L407.7 268.0A71.7 71.7 0 0 1 407.9 267.4L406.4 266.6L408.0 267.1M408.8 264.7A71.7 71.7 0 0 1 410.1 261.5L409.7 261.0L410.3 260.9A71.7 71.7 0 0 1 410.5 260.5L408.5 259.2L410.8 259.9A71.7 71.7 0 0 1 411.3 258.7L408.3 256.9L411.6 258.2A71.7 71.7 0 0 1 412.4 256.7L411.6 255.9L412.6 256.1A71.7 71.7 0 0 1 413.3 254.8L411.1 253.2L413.6 254.3A71.7 71.7 0 0 1 414.9 252.1L413.4 250.8L415.1 251.8M416.5 249.7A71.7 71.7 0 0 1 417.4 248.4L416.4 247.3L417.8 247.9A71.7 71.7 0 0 1 419.7 245.3L418.1 243.6L420.1 244.8A71.7 71.7 0 0 1 420.5 244.3L419.6 243.1L420.9 243.8A71.7 71.7 0 0 1 422.6 241.8L422.3 241.1L423.0 241.4A71.7 71.7 0 0 1 424.6 239.7M426.4 237.9A71.7 71.7 0 0 1 427.5 236.9L427.1 236.0L427.9 236.5A71.7 71.7 0 0 1 429.5 235.1L428.4 233.3L430.0 234.7A71.7 71.7 0 0 1 430.2 234.5L429.8 233.5L430.7 234.1A71.7 71.7 0 0 1 433.4 232.1M435.4 230.6A71.7 71.7 0 0 1 437.3 229.4L437.0 228.3L437.8 229.0A71.7 71.7 0 0 1 440.5 227.4L440.2 226.2L441.1 227.1A71.7 71.7 0 0 1 443.9 225.6L443.1 223.2L444.5 225.3A71.7 71.7 0 0 1 446.2 224.5L445.9 223.0L446.8 224.2A71.7 71.7 0 0 1 448.6 223.5L447.9 220.9L449.1 223.2A71.7 71.7 0 0 1 450.9 222.5L450.6 220.8L451.5 222.3A71.7 71.7 0 0 1 453.3 221.7L453.3 220.4L453.9 221.5A71.7 71.7 0 0 1 455.8 220.9L455.8 219.9L456.4 220.7A71.7 71.7 0 0 1 458.5 220.2M461.0 219.6A71.7 71.7 0 0 1 462.0 219.4L462.0 217.8L462.6 219.3A71.7 71.7 0 0 1 463.4 219.1L463.2 216.4L464.0 219.0A71.7 71.7 0 0 1 464.8 218.9L464.9 218.0L465.4 218.8A71.7 71.7 0 0 1 468.9 218.4L469.1 217.6L469.5 218.3A71.7 71.7 0 0 1 472.4 218.1L472.6 217.4L473.0 218.1A71.7 71.7 0 0 1 474.4 218.0L474.6 215.2L474.7 218.0" stroke="#e8242a" stroke-width="0.65" fill="none" stroke-linejoin="miter"/>
<path d="M477.1 226.0A63.7 63.7 0 0 1 477.6 226.0L477.9 225.1L478.2 226.0A63.7 63.7 0 0 1 478.9 226.1L479.2 224.7L479.5 226.1A63.7 63.7 0 0 1 480.2 226.1L480.6 224.0L480.8 226.2A63.7 63.7 0 0 1 481.4 226.2L481.9 224.6L482.0 226.3A63.7 63.7 0 0 1 482.7 226.4L483.3 224.0L483.3 226.4A63.7 63.7 0 0 1 484.0 226.5L484.5 225.1L484.6 226.6A63.7 63.7 0 0 1 485.3 226.7L485.9 224.8L485.9 226.8A63.7 63.7 0 0 1 486.6 226.9L487.1 225.7L487.2 227.0A63.7 63.7 0 0 1 487.6 227.1L488.0 226.5L488.2 227.2A63.7 63.7 0 0 1 492.6 228.2L493.1 227.5L493.2 228.4A63.7 63.7 0 0 1 495.8 229.2L496.4 228.4L496.4 229.4A63.7 63.7 0 0 1 498.3 230.0L499.0 228.9L498.8 230.2A63.7 63.7 0 0 1 499.5 230.5L500.0 230.0L500.0 230.7A63.7 63.7 0 0 1 502.1 231.6M504.1 232.5A63.7 63.7 0 0 1 504.9 232.9L505.8 231.8L505.4 233.2A63.7 63.7 0 0 1 505.5 233.2L506.9 231.2L506.0 233.5A63.7 63.7 0 0 1 506.1 233.6L506.9 232.7L506.7 233.9A63.7 63.7 0 0 1 513.8 238.4L514.4 238.2L514.3 238.8A63.7 63.7 0 0 1 522.0 245.6L522.7 245.3L522.4 246.0A63.7 63.7 0 0 1 522.7 246.3M524.1 248.0A63.7 63.7 0 0 1 525.3 249.3L525.8 249.3L525.7 249.8A63.7 63.7 0 0 1 530.3 256.3L531.7 255.8L530.6 256.8A63.7 63.7 0 0 1 530.7 257.0L533.6 255.7L531.0 257.5A63.7 63.7 0 0 1 531.1 257.7L532.5 257.3L531.4 258.2A63.7 63.7 0 0 1 534.4 264.3L535.2 264.3L534.7 264.8A63.7 63.7 0 0 1 534.9 265.3M535.7 267.4A63.7 63.7 0 0 1 535.9 268.0L537.6 267.7L536.1 268.6A63.7 63.7 0 0 1 536.8 270.7L538.1 270.6L537.0 271.3A63.7 63.7 0 0 1 537.7 274.0L539.1 274.0L537.9 274.6A63.7 63.7 0 0 1 538.5 277.1L539.9 277.2L538.6 277.7A63.7 63.7 0 0 1 538.9 279.6L540.1 279.7L539.0 280.2A63.7 63.7 0 0 1 539.2 281.5L541.5 281.5L539.2 282.1A63.7 63.7 0 0 1 539.3 282.4L542.4 282.4L539.3 283.0A63.7 63.7 0 0 1 539.4 283.2L542.2 283.2L539.4 283.8A63.7 63.7 0 0 1 539.4 283.9L542.3 284.0L539.5 284.5A63.7 63.7 0 0 1 539.5 284.7L542.8 284.7L539.5 285.3A63.7 63.7 0 0 1 539.6 285.3L544.5 285.3L539.6 285.9M539.7 288.1A63.7 63.7 0 0 1 539.7 288.4L541.6 288.7L539.7 289.0A63.7 63.7 0 0 1 539.7 289.7L540.8 290.0L539.7 290.3A63.7 63.7 0 0 1 539.6 293.3L540.7 293.7L539.6 293.9A63.7 63.7 0 0 1 539.4 296.1L540.6 296.5L539.3 296.7A63.7 63.7 0 0 1 539.0 298.8L540.5 299.3L539.0 299.4A63.7 63.7 0 0 1 538.5 302.1L542.1 303.1L538.4 302.7A63.7 63.7 0 0 1 538.3 303.0L540.1 303.7L538.2 303.6A63.7 63.7 0 0 1 537.8 305.1L538.8 305.7L537.7 305.7A63.7 63.7 0 0 1 537.5 306.3M536.9 308.4A63.7 63.7 0 0 1 536.4 310.0L537.0 310.5L536.2 310.6A63.7 63.7 0 0 1 535.0 313.6L536.0 314.3L534.8 314.2A63.7 63.7 0 0 1 534.6 314.7L536.2 315.7L534.4 315.2A63.7 63.7 0 0 1 534.1 315.7L535.4 316.6L533.9 316.3A63.7 63.7 0 0 1 533.6 316.8L535.6 318.1L533.4 317.3A63.7 63.7 0 0 1 533.1 317.9L534.3 318.8L532.9 318.4A63.7 63.7 0 0 1 532.6 318.9L533.8 319.8L532.3 319.4A63.7 63.7 0 0 1 530.2 323.1L531.1 324.0L529.9 323.6A63.7 63.7 0 0 1 528.5 325.8M527.2 327.6A63.7 63.7 0 0 1 526.5 328.6L528.0 330.1L526.1 329.0A63.7 63.7 0 0 1 525.3 330.1L526.7 331.6L524.9 330.5A63.7 63.7 0 0 1 524.0 331.5L525.1 332.9L523.6 332.0A63.7 63.7 0 0 1 522.5 333.2L524.8 335.9L522.1 333.7A63.7 63.7 0 0 1 521.2 334.6L521.7 335.6L520.8 335.0A63.7 63.7 0 0 1 519.5 336.2L519.9 337.0L519.1 336.6A63.7 63.7 0 0 1 517.0 338.5L518.3 340.5L516.5 338.9A63.7 63.7 0 0 1 515.5 339.7L516.1 341.0L515.0 340.1A63.7 63.7 0 0 1 513.7 341.0M511.9 342.3A63.7 63.7 0 0 1 511.7 342.4L512.9 344.7L511.2 342.8A63.7 63.7 0 0 1 510.5 343.3L510.7 344.1L510.0 343.6A63.7 63.7 0 0 1 507.9 344.9L508.3 346.2L507.3 345.2A63.7 63.7 0 0 1 503.4 347.2L503.8 348.8L502.8 347.5A63.7 63.7 0 0 1 499.5 348.9L499.4 349.5L498.9 349.1A63.7 63.7 0 0 1 496.8 349.9M494.7 350.6A63.7 63.7 0 0 1 492.5 351.2L492.4 351.9L491.9 351.4A63.7 63.7 0 0 1 488.3 352.2L488.2 353.5L487.7 352.3A63.7 63.7 0 0 1 486.5 352.5L486.6 354.7L485.9 352.6A63.7 63.7 0 0 1 485.5 352.7L485.4 353.9L484.9 352.8A63.7 63.7 0 0 1 481.3 353.2L481.1 354.0L480.7 353.2A63.7 63.7 0 0 1 477.6 353.4M475.3 353.4A63.7 63.7 0 0 1 474.8 353.4L474.5 354.4L474.2 353.4A63.7 63.7 0 0 1 470.7 353.2L470.3 354.2L470.1 353.1A63.7 63.7 0 0 1 466.7 352.7L465.9 355.6L466.1 352.6A63.7 63.7 0 0 1 465.9 352.6L465.3 354.1L465.3 352.5A63.7 63.7 0 0 1 461.9 351.8L461.4 352.6L461.3 351.7A63.7 63.7 0 0 1 459.2 351.1M457.1 350.5A63.7 63.7 0 0 1 455.2 349.9L454.7 350.4L454.6 349.7A63.7 63.7 0 0 1 453.7 349.4L452.1 352.8L453.1 349.1A63.7 63.7 0 0 1 452.6 349.0L451.9 350.0L452.1 348.7A63.7 63.7 0 0 1 449.6 347.7L448.7 348.8L449.1 347.4A63.7 63.7 0 0 1 445.8 345.8L445.1 346.5L445.3 345.5A63.7 63.7 0 0 1 442.1 343.7M440.3 342.4L438.6 344.7L440.0 342.2A63.7 63.7 0 0 1 436.7 339.8L436.0 340.2L436.2 339.5A63.7 63.7 0 0 1 435.2 338.6L431.8 342.2L434.8 338.2A63.7 63.7 0 0 1 433.5 337.1L430.7 339.8L433.1 336.7A63.7 63.7 0 0 1 432.6 336.3L431.8 336.8L432.2 335.9A63.7 63.7 0 0 1 430.8 334.6L430.3 334.8L430.4 334.2A63.7 63.7 0 0 1 429.5 333.2L428.0 334.2L429.1 332.8A63.7 63.7 0 0 1 428.4 332.0L426.5 333.3L428.1 331.7M426.7 330.0L425.0 331.3L426.5 329.8A63.7 63.7 0 0 1 425.3 328.3L422.8 329.9L425.0 327.8A63.7 63.7 0 0 1 424.7 327.5L422.7 328.6L424.4 327.0A63.7 63.7 0 0 1 424.2 326.8L423.0 327.3L423.9 326.3A63.7 63.7 0 0 1 423.6 326.0L422.8 326.2L423.3 325.5A63.7 63.7 0 0 1 421.5 322.7L420.9 322.7L421.2 322.2A63.7 63.7 0 0 1 420.4 320.7L418.0 321.7L420.1 320.2A63.7 63.7 0 0 1 419.4 318.9L417.7 319.4L419.1 318.4A63.7 63.7 0 0 1 418.4 316.9L417.3 317.1L418.3 316.6M417.4 314.6A63.7 63.7 0 0 1 416.5 312.6L412.2 313.9L416.3 312.0A63.7 63.7 0 0 1 416.2 311.6L414.7 311.8L416.0 311.0A63.7 63.7 0 0 1 415.4 309.5L414.0 309.6L415.3 308.9A63.7 63.7 0 0 1 415.0 307.9L411.2 308.7L414.8 307.3A63.7 63.7 0 0 1 414.3 305.4L413.5 305.3L414.1 304.8A63.7 63.7 0 0 1 413.4 301.2L411.7 301.2L413.2 300.6A63.7 63.7 0 0 1 413.0 298.9M412.7 296.7A63.7 63.7 0 0 1 412.4 292.5L410.9 292.3L412.3 291.9A63.7 63.7 0 0 1 412.3 291.4L408.2 291.2L412.3 290.8A63.7 63.7 0 0 1 412.3 289.1L411.7 288.8L412.3 288.5A63.7 63.7 0 0 1 412.3 288.1L411.2 287.7L412.3 287.5A63.7 63.7 0 0 1 412.4 285.6L411.8 285.3L412.5 285.0A63.7 63.7 0 0 1 412.6 283.8M412.8 281.6A63.7 63.7 0 0 1 413.3 278.7L412.3 278.2L413.4 278.1A63.7 63.7 0 0 1 413.5 277.3L412.7 276.8L413.6 276.7A63.7 63.7 0 0 1 413.7 276.3L412.0 275.7L413.8 275.8A63.7 63.7 0 0 1 414.0 275.0L409.9 273.7L414.2 274.4A63.7 63.7 0 0 1 414.4 273.3L414.0 272.9L414.6 272.7A63.7 63.7 0 0 1 415.1 270.9L414.1 270.3L415.3 270.4A63.7 63.7 0 0 1 415.4 269.9L413.7 269.0L415.6 269.6M416.3 267.5A63.7 63.7 0 0 1 417.4 264.7L416.8 264.1L417.7 264.1A63.7 63.7 0 0 1 417.8 263.7L416.1 262.6L418.1 263.2A63.7 63.7 0 0 1 418.5 262.2L416.5 260.8L418.8 261.7A63.7 63.7 0 0 1 419.5 260.4L417.9 259.2L419.7 259.8A63.7 63.7 0 0 1 420.3 258.8L417.6 256.9L420.6 258.2A63.7 63.7 0 0 1 421.7 256.3L420.3 255.1L421.9 256.0M423.1 254.2A63.7 63.7 0 0 1 423.9 253.0L423.3 252.2L424.3 252.5A63.7 63.7 0 0 1 426.0 250.3L424.2 248.4L426.4 249.8A63.7 63.7 0 0 1 426.7 249.4L425.7 248.2L427.1 248.9A63.7 63.7 0 0 1 428.6 247.2L428.3 246.5L429.0 246.7A63.7 63.7 0 0 1 430.3 245.3M431.9 243.7A63.7 63.7 0 0 1 432.9 242.8L432.0 241.5L433.3 242.4A63.7 63.7 0 0 1 434.7 241.2L432.8 238.5L435.2 240.8A63.7 63.7 0 0 1 435.3 240.7L434.9 239.7L435.8 240.3A63.7 63.7 0 0 1 438.1 238.5M439.9 237.2A63.7 63.7 0 0 1 441.6 236.1L441.3 235.2L442.1 235.8A63.7 63.7 0 0 1 444.5 234.4L444.1 233.1L445.0 234.1A63.7 63.7 0 0 1 447.5 232.7L446.7 230.5L448.0 232.5A63.7 63.7 0 0 1 449.5 231.8L449.2 230.4L450.1 231.5A63.7 63.7 0 0 1 451.6 230.9L450.9 228.3L452.1 230.6A63.7 63.7 0 0 1 453.7 230.0L453.5 228.5L454.3 229.8A63.7 63.7 0 0 1 455.8 229.3L455.8 228.1L456.4 229.1A63.7 63.7 0 0 1 458.0 228.6L458.1 227.8L458.6 228.4A63.7 63.7 0 0 1 460.5 227.9M462.6 227.4A63.7 63.7 0 0 1 463.6 227.2L463.5 225.5L464.2 227.1A63.7 63.7 0 0 1 464.8 227.0L464.7 224.8L465.4 226.9A63.7 63.7 0 0 1 466.0 226.8L466.1 225.8L466.6 226.7A63.7 63.7 0 0 1 469.7 226.3L469.9 225.5L470.3 226.3A63.7 63.7 0 0 1 472.7 226.1L473.0 225.4L473.3 226.1A63.7 63.7 0 0 1 474.5 226.0L474.8 224.3L474.9 226.0" stroke="#45c044" stroke-width="0.65" fill="none" stroke-linejoin="miter"/>
<path d="M477.0 234.2A55.5 55.5 0 0 1 477.3 234.2L477.7 232.7L477.9 234.2A55.5 55.5 0 0 1 478.5 234.3L478.8 233.0L479.1 234.3A55.5 55.5 0 0 1 479.6 234.3L480.0 232.8L480.2 234.4A55.5 55.5 0 0 1 480.7 234.4L481.1 233.3L481.3 234.5A55.5 55.5 0 0 1 481.8 234.5L482.4 232.2L482.4 234.6A55.5 55.5 0 0 1 482.9 234.6L483.4 233.1L483.5 234.7A55.5 55.5 0 0 1 484.1 234.8L484.7 232.5L484.6 234.9A55.5 55.5 0 0 1 485.2 235.0L485.7 233.7L485.8 235.1A55.5 55.5 0 0 1 486.1 235.1L486.5 234.5L486.6 235.2A55.5 55.5 0 0 1 490.4 236.1L490.9 235.5L491.0 236.3A55.5 55.5 0 0 1 493.2 236.9L493.8 236.1L493.8 237.1A55.5 55.5 0 0 1 495.4 237.7L496.1 236.6L495.9 237.9A55.5 55.5 0 0 1 496.4 238.1L496.9 237.7L497.0 238.3A55.5 55.5 0 0 1 498.8 239.1M500.5 239.9A55.5 55.5 0 0 1 501.1 240.2L501.9 239.4L501.7 240.5L502.9 238.9L502.2 240.8L503.0 240.0L502.7 241.1A55.5 55.5 0 0 1 508.9 245.0L509.4 244.7L509.4 245.4A55.5 55.5 0 0 1 516.0 251.3L516.7 251.0L516.4 251.7A55.5 55.5 0 0 1 516.7 251.9M517.9 253.4A55.5 55.5 0 0 1 518.9 254.5L519.4 254.5L519.3 255.0A55.5 55.5 0 0 1 523.2 260.6L524.7 260.1L523.6 261.1A55.5 55.5 0 0 1 523.6 261.2L526.0 260.1L523.9 261.7A55.5 55.5 0 0 1 524.0 261.8L525.5 261.3L524.3 262.3A55.5 55.5 0 0 1 526.9 267.5L527.7 267.5L527.1 268.1A55.5 55.5 0 0 1 527.3 268.5M528.0 270.3A55.5 55.5 0 0 1 528.2 270.8L529.4 270.7L528.4 271.3A55.5 55.5 0 0 1 529.0 273.1L530.2 273.0L529.1 273.7A55.5 55.5 0 0 1 529.8 276.0L531.2 275.9L529.9 276.6A55.5 55.5 0 0 1 530.4 278.7L532.2 278.7L530.5 279.3A55.5 55.5 0 0 1 530.8 280.8L532.3 280.9L530.9 281.4A55.5 55.5 0 0 1 531.0 282.5L532.9 282.5L531.1 283.1A55.5 55.5 0 0 1 531.1 283.3L534.9 283.2L531.2 283.9A55.5 55.5 0 0 1 531.2 284.0L532.8 284.1L531.3 284.6A55.5 55.5 0 0 1 531.3 284.6L535.2 284.6L531.3 285.2A55.5 55.5 0 0 1 531.3 285.3L533.2 285.4L531.4 285.9L534.9 285.9L531.4 286.4M531.5 288.3A55.5 55.5 0 0 1 531.5 288.5L534.2 288.8L531.5 289.1A55.5 55.5 0 0 1 531.5 289.6L532.2 289.9L531.5 290.2A55.5 55.5 0 0 1 531.4 292.8L532.3 293.2L531.4 293.4A55.5 55.5 0 0 1 531.2 295.2L532.6 295.7L531.2 295.8A55.5 55.5 0 0 1 530.9 297.6L532.1 298.1L530.8 298.2A55.5 55.5 0 0 1 530.5 300.4L534.3 301.5L530.3 301.0A55.5 55.5 0 0 1 530.3 301.2L531.6 301.8L530.2 301.8A55.5 55.5 0 0 1 529.9 303.1L530.7 303.6L529.7 303.7A55.5 55.5 0 0 1 529.6 304.2M529.0 306.0A55.5 55.5 0 0 1 528.6 307.3L529.5 308.0L528.4 307.9A55.5 55.5 0 0 1 527.5 310.5L528.4 311.2L527.2 311.1A55.5 55.5 0 0 1 527.1 311.4L529.5 312.8L526.8 312.0A55.5 55.5 0 0 1 526.7 312.4L527.9 313.2L526.4 312.9A55.5 55.5 0 0 1 526.2 313.3L527.9 314.4L526.0 313.8A55.5 55.5 0 0 1 525.8 314.2L526.8 315.0L525.5 314.7A55.5 55.5 0 0 1 525.3 315.1L526.3 315.9L525.1 315.6A55.5 55.5 0 0 1 523.3 318.8L524.4 319.8L523.0 319.3A55.5 55.5 0 0 1 521.7 321.1M520.6 322.7A55.5 55.5 0 0 1 520.0 323.5L521.5 325.1L519.6 324.0A55.5 55.5 0 0 1 519.0 324.8L520.1 326.2L518.6 325.3A55.5 55.5 0 0 1 517.9 326.1L519.3 327.8L517.5 326.6A55.5 55.5 0 0 1 516.5 327.6L518.6 329.9L516.1 328.0A55.5 55.5 0 0 1 515.4 328.8L515.9 329.8L515.0 329.2A55.5 55.5 0 0 1 514.0 330.2L514.3 331.1L513.5 330.6A55.5 55.5 0 0 1 511.7 332.2L512.7 333.8L511.3 332.6A55.5 55.5 0 0 1 510.4 333.2L511.0 334.5L509.9 333.6A55.5 55.5 0 0 1 508.9 334.4M507.3 335.5A55.5 55.5 0 0 1 507.2 335.6L508.6 338.4L506.7 336.0A55.5 55.5 0 0 1 506.1 336.4L506.2 337.1L505.5 336.7A55.5 55.5 0 0 1 503.8 337.7L503.9 338.6L503.3 338.0A55.5 55.5 0 0 1 499.9 339.8L500.0 340.8L499.3 340.1A55.5 55.5 0 0 1 496.5 341.3L496.5 342.0L496.0 341.5A55.5 55.5 0 0 1 494.2 342.1M492.3 342.7A55.5 55.5 0 0 1 490.4 343.3L490.3 344.1L489.8 343.4A55.5 55.5 0 0 1 486.7 344.2L486.7 345.7L486.1 344.3A55.5 55.5 0 0 1 485.2 344.4L485.4 347.7L484.6 344.5A55.5 55.5 0 0 1 484.3 344.6L484.3 346.2L483.7 344.7A55.5 55.5 0 0 1 480.7 345.0L480.5 345.9L480.1 345.0A55.5 55.5 0 0 1 477.4 345.2M475.4 345.2A55.5 55.5 0 0 1 475.0 345.2L474.7 345.8L474.4 345.2A55.5 55.5 0 0 1 471.5 345.0L471.1 345.9L470.9 345.0A55.5 55.5 0 0 1 467.9 344.6L467.3 346.8L467.3 344.5A55.5 55.5 0 0 1 467.2 344.5L466.7 345.9L466.6 344.4A55.5 55.5 0 0 1 463.7 343.8L463.1 345.0L463.1 343.7A55.5 55.5 0 0 1 461.4 343.2M459.5 342.7A55.5 55.5 0 0 1 457.9 342.2L457.4 342.6L457.3 342.0A55.5 55.5 0 0 1 456.6 341.7L454.7 345.8L456.0 341.5A55.5 55.5 0 0 1 455.7 341.3L454.9 342.6L455.1 341.1A55.5 55.5 0 0 1 453.0 340.2L452.4 341.0L452.5 340.0A55.5 55.5 0 0 1 449.8 338.6L448.8 339.7L449.2 338.3A55.5 55.5 0 0 1 446.5 336.7M444.9 335.7L442.9 338.5L444.6 335.5A55.5 55.5 0 0 1 441.8 333.4L441.2 333.6L441.3 333.0A55.5 55.5 0 0 1 440.5 332.4L438.2 334.7L440.0 332.0A55.5 55.5 0 0 1 439.0 331.1L436.3 333.6L438.6 330.7A55.5 55.5 0 0 1 438.2 330.4L437.6 330.6L437.8 330.0A55.5 55.5 0 0 1 436.7 328.9L436.1 329.0L436.3 328.4A55.5 55.5 0 0 1 435.5 327.7L434.3 328.4L435.1 327.2A55.5 55.5 0 0 1 434.5 326.6L431.7 328.7L434.3 326.3M433.1 324.9L430.4 326.9L432.8 324.6A55.5 55.5 0 0 1 431.9 323.4L429.7 324.7L431.5 322.9A55.5 55.5 0 0 1 431.3 322.6L428.8 324.2L431.0 322.2A55.5 55.5 0 0 1 430.9 322.1L429.9 322.4L430.6 321.6A55.5 55.5 0 0 1 430.4 321.3L429.8 321.4L430.1 320.9A55.5 55.5 0 0 1 428.6 318.5L427.9 318.6L428.3 318.0A55.5 55.5 0 0 1 427.5 316.8L425.5 317.5L427.3 316.2A55.5 55.5 0 0 1 426.7 315.2L425.0 315.7L426.4 314.6A55.5 55.5 0 0 1 425.9 313.5L424.2 313.9L425.7 313.2M424.9 311.4A55.5 55.5 0 0 1 424.2 309.7L421.4 310.4L424.0 309.1A55.5 55.5 0 0 1 423.9 308.8L421.8 309.2L423.7 308.2A55.5 55.5 0 0 1 423.2 306.9L421.5 307.2L423.1 306.4A55.5 55.5 0 0 1 422.8 305.6L420.3 306.0L422.7 305.0A55.5 55.5 0 0 1 422.2 303.4L421.2 303.4L422.1 302.8A55.5 55.5 0 0 1 421.4 299.8L420.2 299.7L421.3 299.2A55.5 55.5 0 0 1 421.1 297.7M420.8 295.8A55.5 55.5 0 0 1 420.6 292.2L419.4 292.0L420.5 291.6A55.5 55.5 0 0 1 420.5 291.2L415.6 291.0L420.5 290.6A55.5 55.5 0 0 1 420.5 289.2L420.0 288.9L420.5 288.6A55.5 55.5 0 0 1 420.5 288.3L419.4 288.0L420.5 287.7A55.5 55.5 0 0 1 420.6 286.2L419.8 285.8L420.7 285.6A55.5 55.5 0 0 1 420.7 284.6M420.9 282.6A55.5 55.5 0 0 1 421.3 280.1L420.7 279.7L421.4 279.5A55.5 55.5 0 0 1 421.6 278.9L420.6 278.4L421.7 278.3A55.5 55.5 0 0 1 421.7 278.1L420.4 277.5L421.9 277.5A55.5 55.5 0 0 1 422.0 276.9L419.3 275.9L422.1 276.3A55.5 55.5 0 0 1 422.4 275.5L421.9 275.0L422.5 274.9A55.5 55.5 0 0 1 422.9 273.4L421.9 272.8L423.1 272.8A55.5 55.5 0 0 1 423.2 272.5L421.1 271.5L423.3 272.2M424.0 270.4A55.5 55.5 0 0 1 424.9 267.9L424.4 267.4L425.2 267.4A55.5 55.5 0 0 1 425.3 267.1L422.9 265.7L425.5 266.6A55.5 55.5 0 0 1 425.9 265.8L423.0 264.0L426.2 265.2A55.5 55.5 0 0 1 426.7 264.2L425.1 263.0L427.0 263.6A55.5 55.5 0 0 1 427.5 262.8L425.7 261.4L427.8 262.3A55.5 55.5 0 0 1 428.7 260.7L427.4 259.5L428.9 260.4M429.9 258.7A55.5 55.5 0 0 1 430.6 257.8L429.8 256.8L431.0 257.3A55.5 55.5 0 0 1 432.4 255.4L429.9 253.0L432.8 254.9A55.5 55.5 0 0 1 433.0 254.6L432.2 253.5L433.4 254.1A55.5 55.5 0 0 1 434.6 252.7L434.2 251.9L435.0 252.2A55.5 55.5 0 0 1 436.2 251.0M437.6 249.6A55.5 55.5 0 0 1 438.4 248.9L437.6 247.5L438.8 248.5A55.5 55.5 0 0 1 440.0 247.5L437.6 244.2L440.4 247.1A55.5 55.5 0 0 1 440.5 247.0L439.8 245.7L441.0 246.6A55.5 55.5 0 0 1 443.0 245.1M444.6 244.0A55.5 55.5 0 0 1 446.0 243.0L445.9 242.3L446.5 242.7A55.5 55.5 0 0 1 448.5 241.5L448.3 240.5L449.0 241.2A55.5 55.5 0 0 1 451.1 240.1L450.7 238.6L451.6 239.8A55.5 55.5 0 0 1 452.9 239.2L452.8 238.3L453.4 239.0A55.5 55.5 0 0 1 454.7 238.5L454.4 236.9L455.3 238.2A55.5 55.5 0 0 1 456.5 237.7L456.2 236.0L457.1 237.5A55.5 55.5 0 0 1 458.4 237.1L458.4 236.0L459.0 236.9A55.5 55.5 0 0 1 460.3 236.5L460.3 235.4L460.9 236.3A55.5 55.5 0 0 1 462.5 235.9M464.4 235.4A55.5 55.5 0 0 1 465.1 235.3L465.2 234.1L465.7 235.2A55.5 55.5 0 0 1 466.2 235.1L466.1 233.1L466.8 235.0A55.5 55.5 0 0 1 467.2 234.9L467.4 233.7L467.8 234.8A55.5 55.5 0 0 1 470.4 234.5L470.7 234.0L471.0 234.4A55.5 55.5 0 0 1 473.1 234.3L473.4 233.2L473.7 234.2A55.5 55.5 0 0 1 474.7 234.2L474.9 232.5L475.0 234.2" stroke="#35a7b8" stroke-width="0.65" fill="none" stroke-linejoin="miter"/>
<path d="M476.8 242.4A47.3 47.3 0 0 1 477.1 242.4L477.4 241.1L477.7 242.4A47.3 47.3 0 0 1 478.1 242.4L478.4 241.4L478.7 242.5A47.3 47.3 0 0 1 479.0 242.5L479.5 240.5L479.6 242.5A47.3 47.3 0 0 1 480.0 242.6L480.4 241.2L480.6 242.6A47.3 47.3 0 0 1 480.9 242.7L481.4 241.0L481.5 242.7A47.3 47.3 0 0 1 481.9 242.8L482.4 240.9L482.5 242.8A47.3 47.3 0 0 1 482.8 242.9L483.4 241.4L483.4 243.0A47.3 47.3 0 0 1 483.8 243.0L484.3 242.0L484.4 243.1A47.3 47.3 0 0 1 484.5 243.2L484.9 242.6L485.1 243.3A47.3 47.3 0 0 1 488.3 244.0L488.7 243.6L488.8 244.2A47.3 47.3 0 0 1 490.6 244.7L491.3 243.7L491.2 244.9A47.3 47.3 0 0 1 492.5 245.4L493.3 244.1L493.0 245.6A47.3 47.3 0 0 1 493.3 245.7L493.9 245.0L493.9 245.9A47.3 47.3 0 0 1 495.4 246.6M496.9 247.3A47.3 47.3 0 0 1 497.4 247.5L498.4 246.2L497.9 247.8L499.2 245.8L498.4 248.0L499.1 247.1L498.8 248.3A47.3 47.3 0 0 1 504.0 251.6L504.5 251.3L504.5 251.9A47.3 47.3 0 0 1 510.1 256.9L510.8 256.6L510.5 257.3A47.3 47.3 0 0 1 510.6 257.5M511.8 258.7A47.3 47.3 0 0 1 512.5 259.7L513.1 259.6L512.9 260.1A47.3 47.3 0 0 1 516.2 264.8L517.6 264.4L516.6 265.4L519.1 264.2L516.9 265.9L518.5 265.3L517.2 266.4A47.3 47.3 0 0 1 519.3 270.8L520.7 270.5L519.6 271.3A47.3 47.3 0 0 1 519.7 271.6M520.3 273.1A47.3 47.3 0 0 1 520.4 273.5L521.9 273.3L520.6 274.1A47.3 47.3 0 0 1 521.1 275.5L522.9 275.3L521.3 276.1A47.3 47.3 0 0 1 521.8 278.0L523.6 277.8L522.0 278.5A47.3 47.3 0 0 1 522.4 280.3L524.1 280.3L522.5 280.9A47.3 47.3 0 0 1 522.7 282.1L524.0 282.2L522.8 282.7A47.3 47.3 0 0 1 522.9 283.5L525.1 283.5L523.0 284.1A47.3 47.3 0 0 1 523.0 284.2L526.6 284.1L523.0 284.8L525.2 284.9L523.1 285.4L526.2 285.4L523.1 285.9L526.6 285.9L523.2 286.5L527.7 286.4L523.2 286.9M523.3 288.5A47.3 47.3 0 0 1 523.3 288.7L525.7 288.9L523.3 289.3A47.3 47.3 0 0 1 523.3 289.6L523.9 289.9L523.3 290.2A47.3 47.3 0 0 1 523.2 292.3L524.4 292.7L523.2 292.9A47.3 47.3 0 0 1 523.1 294.4L524.2 294.8L523.0 295.0A47.3 47.3 0 0 1 522.8 296.4L524.9 297.0L522.7 297.0A47.3 47.3 0 0 1 522.4 298.8L525.6 299.8L522.3 299.4A47.3 47.3 0 0 1 522.3 299.5L523.5 300.0L522.2 300.1A47.3 47.3 0 0 1 521.9 301.1L522.8 301.6L521.8 301.7A47.3 47.3 0 0 1 521.7 302.0M521.2 303.6A47.3 47.3 0 0 1 520.9 304.7L521.8 305.3L520.7 305.3A47.3 47.3 0 0 1 519.9 307.4L521.2 308.3L519.6 307.9A47.3 47.3 0 0 1 519.5 308.2L521.7 309.4L519.3 308.7A47.3 47.3 0 0 1 519.2 309.0L520.1 309.7L518.9 309.5A47.3 47.3 0 0 1 518.8 309.8L520.8 311.0L518.6 310.3A47.3 47.3 0 0 1 518.5 310.5L519.4 311.3L518.2 311.1A47.3 47.3 0 0 1 518.1 311.3L518.8 312.0L517.8 311.8A47.3 47.3 0 0 1 516.3 314.4L517.5 315.5L516.0 314.9A47.3 47.3 0 0 1 515.0 316.5M514.0 317.8A47.3 47.3 0 0 1 513.5 318.5L515.0 320.0L513.2 319.0A47.3 47.3 0 0 1 512.6 319.6L514.2 321.3L512.3 320.1A47.3 47.3 0 0 1 511.7 320.7L512.9 322.1L511.3 321.2A47.3 47.3 0 0 1 510.6 322.0L512.5 324.2L510.2 322.4A47.3 47.3 0 0 1 509.6 323.0L510.7 324.5L509.2 323.4A47.3 47.3 0 0 1 508.4 324.2L508.6 324.9L507.9 324.6A47.3 47.3 0 0 1 506.5 325.9L507.4 327.5L506.0 326.3A47.3 47.3 0 0 1 505.4 326.8L505.8 327.8L504.9 327.1A47.3 47.3 0 0 1 504.0 327.8M502.7 328.8A47.3 47.3 0 0 1 502.6 328.8L504.2 331.8L502.1 329.2A47.3 47.3 0 0 1 501.7 329.4L501.9 330.3L501.1 329.8A47.3 47.3 0 0 1 499.7 330.6L500.1 331.8L499.2 330.9A47.3 47.3 0 0 1 496.4 332.4L496.6 333.5L495.9 332.6A47.3 47.3 0 0 1 493.5 333.6L493.5 334.5L493.0 333.9A47.3 47.3 0 0 1 491.5 334.4M489.9 334.9A47.3 47.3 0 0 1 488.3 335.4L488.2 336.2L487.7 335.5A47.3 47.3 0 0 1 485.2 336.1L485.2 337.8L484.6 336.2A47.3 47.3 0 0 1 483.9 336.3L484.2 340.1L483.3 336.4A47.3 47.3 0 0 1 483.1 336.5L483.1 338.2L482.5 336.5A47.3 47.3 0 0 1 480.0 336.8L479.8 337.9L479.4 336.9A47.3 47.3 0 0 1 477.2 337.0M475.5 337.0A47.3 47.3 0 0 1 475.2 337.0L474.9 337.8L474.6 337.0A47.3 47.3 0 0 1 472.2 336.8L471.7 338.5L471.6 336.8A47.3 47.3 0 0 1 469.2 336.5L468.3 340.4L468.6 336.4L468.0 337.7L468.0 336.3A47.3 47.3 0 0 1 465.6 335.8L465.1 336.7L465.0 335.7A47.3 47.3 0 0 1 463.5 335.3M461.9 334.9A47.3 47.3 0 0 1 460.6 334.4L460.0 335.1L460.0 334.2A47.3 47.3 0 0 1 459.5 334.0L457.9 337.3L458.9 333.8A47.3 47.3 0 0 1 458.7 333.7L458.1 334.4L458.2 333.5A47.3 47.3 0 0 1 456.5 332.8L455.8 333.5L455.9 332.5A47.3 47.3 0 0 1 453.7 331.4L452.9 332.2L453.1 331.1A47.3 47.3 0 0 1 450.9 329.8M449.5 328.9L447.8 331.2L449.2 328.7A47.3 47.3 0 0 1 446.9 327.0L446.2 327.3L446.4 326.6A47.3 47.3 0 0 1 445.8 326.1L442.2 329.8L445.3 325.7A47.3 47.3 0 0 1 444.5 325.0L442.0 327.3L444.1 324.6A47.3 47.3 0 0 1 443.8 324.4L443.1 324.7L443.4 324.0A47.3 47.3 0 0 1 442.5 323.1L441.8 323.4L442.1 322.7A47.3 47.3 0 0 1 441.5 322.1L439.6 323.5L441.1 321.6A47.3 47.3 0 0 1 440.7 321.2L437.9 323.2L440.5 320.9M439.4 319.7L437.2 321.4L439.2 319.4A47.3 47.3 0 0 1 438.4 318.4L435.9 320.0L438.1 318.0A47.3 47.3 0 0 1 438.0 317.8L435.6 319.2L437.6 317.3A47.3 47.3 0 0 1 437.6 317.3L436.4 317.8L437.2 316.8A47.3 47.3 0 0 1 437.2 316.7L436.5 316.8L436.8 316.2A47.3 47.3 0 0 1 435.6 314.3L435.0 314.3L435.3 313.8A47.3 47.3 0 0 1 434.7 312.8L433.2 313.3L434.4 312.3A47.3 47.3 0 0 1 434.0 311.5L432.9 311.7L433.7 310.9A47.3 47.3 0 0 1 433.3 310.0L431.7 310.4L433.1 309.7M432.5 308.2A47.3 47.3 0 0 1 431.9 306.8L427.2 308.2L431.7 306.2A47.3 47.3 0 0 1 431.6 306.0L429.6 306.4L431.4 305.4A47.3 47.3 0 0 1 431.1 304.4L429.6 304.6L430.9 303.9A47.3 47.3 0 0 1 430.7 303.3L427.6 303.9L430.5 302.7A47.3 47.3 0 0 1 430.2 301.4L429.4 301.3L430.0 300.9A47.3 47.3 0 0 1 429.5 298.3L428.3 298.2L429.4 297.7A47.3 47.3 0 0 1 429.2 296.5M429.0 294.9A47.3 47.3 0 0 1 428.8 291.9L427.1 291.7L428.7 291.3A47.3 47.3 0 0 1 428.7 291.0L424.1 290.8L428.7 290.4A47.3 47.3 0 0 1 428.7 289.3L427.9 289.0L428.7 288.7A47.3 47.3 0 0 1 428.7 288.6L427.4 288.2L428.7 288.0A47.3 47.3 0 0 1 428.8 286.7L428.1 286.4L428.8 286.1A47.3 47.3 0 0 1 428.9 285.3M429.1 283.7A47.3 47.3 0 0 1 429.4 281.6L428.5 281.1L429.5 281.0A47.3 47.3 0 0 1 429.6 280.6L429.0 280.1L429.7 280.0A47.3 47.3 0 0 1 429.7 279.9L428.1 279.2L429.9 279.3A47.3 47.3 0 0 1 430.0 278.8L425.6 277.5L430.1 278.3A47.3 47.3 0 0 1 430.3 277.6L429.9 277.2L430.4 277.0A47.3 47.3 0 0 1 430.8 275.8L429.7 275.2L431.0 275.3A47.3 47.3 0 0 1 431.0 275.1L429.2 274.2L431.1 274.8M431.7 273.2A47.3 47.3 0 0 1 432.5 271.2L432.0 270.7L432.7 270.6A47.3 47.3 0 0 1 432.8 270.5L430.9 269.3L433.0 270.0A47.3 47.3 0 0 1 433.3 269.3L430.9 267.8L433.6 268.8A47.3 47.3 0 0 1 434.0 268.0L432.4 266.8L434.3 267.5A47.3 47.3 0 0 1 434.6 266.8L432.3 265.1L434.9 266.3A47.3 47.3 0 0 1 435.7 265.0L434.6 264.0L435.8 264.7M436.7 263.3A47.3 47.3 0 0 1 437.3 262.5L436.3 261.4L437.6 262.0A47.3 47.3 0 0 1 438.8 260.5L436.5 258.2L439.2 260.0A47.3 47.3 0 0 1 439.3 259.8L438.5 258.7L439.7 259.3A47.3 47.3 0 0 1 440.7 258.2L440.2 257.3L441.1 257.7A47.3 47.3 0 0 1 442.1 256.7M443.3 255.6A47.3 47.3 0 0 1 443.9 254.9L443.1 253.6L444.4 254.5A47.3 47.3 0 0 1 445.3 253.7L443.1 250.6L445.7 253.4L445.1 252.2L446.2 253.0A47.3 47.3 0 0 1 447.9 251.7M449.2 250.7A47.3 47.3 0 0 1 450.4 250.0L450.1 249.0L450.9 249.6A47.3 47.3 0 0 1 452.5 248.6L452.3 247.6L453.0 248.3A47.3 47.3 0 0 1 454.7 247.4L454.3 245.9L455.3 247.2A47.3 47.3 0 0 1 456.3 246.7L455.8 245.0L456.8 246.5A47.3 47.3 0 0 1 457.8 246.0L457.4 244.2L458.4 245.8A47.3 47.3 0 0 1 459.4 245.4L459.2 244.1L459.9 245.2A47.3 47.3 0 0 1 461.0 244.9L461.0 243.9L461.5 244.7A47.3 47.3 0 0 1 462.6 244.3L462.7 243.6L463.1 244.2A47.3 47.3 0 0 1 464.5 243.8M466.1 243.5A47.3 47.3 0 0 1 466.7 243.3L466.8 242.2L467.3 243.2A47.3 47.3 0 0 1 467.6 243.2L467.5 240.8L468.2 243.1A47.3 47.3 0 0 1 468.5 243.0L468.7 242.2L469.1 242.9A47.3 47.3 0 0 1 471.2 242.6L471.4 241.8L471.8 242.6A47.3 47.3 0 0 1 473.5 242.5L473.8 241.7L474.1 242.4A47.3 47.3 0 0 1 474.8 242.4L475.1 239.4L475.2 242.4" stroke="#9348bd" stroke-width="0.65" fill="none" stroke-linejoin="miter"/>
<path d="M476.7 250.7A39.0 39.0 0 0 1 476.9 250.7L477.2 249.4L477.5 250.7A39.0 39.0 0 0 1 477.6 250.7L478.0 249.5L478.2 250.8A39.0 39.0 0 0 1 478.4 250.8L478.8 249.1L479.0 250.8A39.0 39.0 0 0 1 479.2 250.8L479.6 250.1L479.8 250.9A39.0 39.0 0 0 1 480.0 250.9L480.5 249.4L480.6 251.0A39.0 39.0 0 0 1 480.8 251.0L481.2 250.1L481.4 251.1A39.0 39.0 0 0 1 481.6 251.1L482.1 249.8L482.2 251.2A39.0 39.0 0 0 1 482.4 251.2L482.8 250.5L482.9 251.3A39.0 39.0 0 0 1 483.0 251.3L483.4 250.7L483.6 251.4A39.0 39.0 0 0 1 486.1 252.0L486.5 251.5L486.6 252.2A39.0 39.0 0 0 1 488.0 252.6L488.6 251.7L488.6 252.8A39.0 39.0 0 0 1 489.5 253.1L490.2 252.2L490.1 253.3A39.0 39.0 0 0 1 490.3 253.4L490.7 253.0L490.8 253.6A39.0 39.0 0 0 1 492.0 254.1M493.2 254.7A39.0 39.0 0 0 1 493.6 254.9L494.5 253.8L494.1 255.2L495.0 253.7L494.5 255.4L495.2 254.3L494.9 255.6A39.0 39.0 0 0 1 499.0 258.2L499.5 258.1L499.5 258.6A39.0 39.0 0 0 1 504.1 262.6L504.7 262.5L504.5 263.1A39.0 39.0 0 0 1 504.6 263.2M505.5 264.2A39.0 39.0 0 0 1 506.1 264.9L506.7 264.8L506.5 265.4A39.0 39.0 0 0 1 509.2 269.2L510.3 268.8L509.5 269.7L512.2 268.3L509.7 270.1L510.7 269.8L510.0 270.5A39.0 39.0 0 0 1 511.7 274.0L512.5 274.0L512.0 274.6A39.0 39.0 0 0 1 512.0 274.8M512.5 276.0A39.0 39.0 0 0 1 512.6 276.3L513.9 276.2L512.8 276.9A39.0 39.0 0 0 1 513.2 278.0L514.4 277.9L513.4 278.5A39.0 39.0 0 0 1 513.8 280.0L515.3 279.9L513.9 280.6A39.0 39.0 0 0 1 514.2 281.9L516.1 281.8L514.3 282.5A39.0 39.0 0 0 1 514.5 283.4L516.0 283.5L514.6 284.0A39.0 39.0 0 0 1 514.7 284.5L516.1 284.7L514.7 285.1L517.2 285.1L514.8 285.7L516.6 285.7L514.8 286.2L517.3 286.1L514.9 286.6L517.2 286.6L514.9 287.1L518.6 287.0L514.9 287.4M515.0 288.7A39.0 39.0 0 0 1 515.0 288.8L516.7 289.1L515.0 289.4A39.0 39.0 0 0 1 515.0 289.6L515.6 289.9L515.0 290.2A39.0 39.0 0 0 1 514.9 291.8L515.7 292.2L514.9 292.4A39.0 39.0 0 0 1 514.8 293.5L515.6 293.9L514.8 294.1A39.0 39.0 0 0 1 514.6 295.2L516.1 295.7L514.5 295.8A39.0 39.0 0 0 1 514.3 297.2L518.4 298.3L514.2 297.7L515.8 298.4L514.0 298.3A39.0 39.0 0 0 1 513.9 299.0L514.4 299.5L513.7 299.6A39.0 39.0 0 0 1 513.7 299.9M513.3 301.2A39.0 39.0 0 0 1 513.0 302.0L513.5 302.5L512.8 302.6A39.0 39.0 0 0 1 512.2 304.2L513.1 304.9L512.0 304.8A39.0 39.0 0 0 1 511.9 304.9L514.0 306.1L511.7 305.4A39.0 39.0 0 0 1 511.6 305.5L512.2 306.1L511.4 306.1A39.0 39.0 0 0 1 511.3 306.2L513.8 307.7L511.1 306.7A39.0 39.0 0 0 1 511.0 306.8L512.3 307.8L510.8 307.4A39.0 39.0 0 0 1 510.7 307.5L511.5 308.2L510.4 308.0A39.0 39.0 0 0 1 509.3 310.0L510.1 310.9L509.0 310.6A39.0 39.0 0 0 1 508.1 311.8M507.4 312.9A39.0 39.0 0 0 1 507.0 313.4L507.7 314.4L506.6 313.9A39.0 39.0 0 0 1 506.2 314.3L507.7 315.9L505.9 314.8A39.0 39.0 0 0 1 505.5 315.2L506.2 316.2L505.1 315.7A39.0 39.0 0 0 1 504.6 316.3L506.7 318.7L504.1 316.7A39.0 39.0 0 0 1 503.7 317.1L504.4 318.2L503.3 317.5A39.0 39.0 0 0 1 502.7 318.1L503.1 318.9L502.3 318.5A39.0 39.0 0 0 1 501.2 319.5L502.5 321.6L500.7 319.9A39.0 39.0 0 0 1 500.3 320.2L500.9 321.6L499.8 320.6A39.0 39.0 0 0 1 499.1 321.1M498.0 321.9A39.0 39.0 0 0 1 498.0 321.9L499.3 324.4L497.5 322.3A39.0 39.0 0 0 1 497.2 322.4L497.4 323.3L496.7 322.8A39.0 39.0 0 0 1 495.6 323.4L495.8 324.3L495.1 323.7A39.0 39.0 0 0 1 492.9 324.9L493.1 326.1L492.3 325.1A39.0 39.0 0 0 1 490.5 325.9L490.5 326.6L489.9 326.1A39.0 39.0 0 0 1 488.8 326.6M487.5 327.0A39.0 39.0 0 0 1 486.2 327.3L486.1 327.9L485.6 327.5A39.0 39.0 0 0 1 483.6 327.9L483.7 329.9L483.0 328.1A39.0 39.0 0 0 1 482.6 328.1L482.7 330.8L482.0 328.2A39.0 39.0 0 0 1 481.9 328.2L481.8 329.7L481.3 328.3A39.0 39.0 0 0 1 479.4 328.6L479.1 329.2L478.8 328.6A39.0 39.0 0 0 1 477.0 328.7M475.6 328.7A39.0 39.0 0 0 1 475.4 328.7L475.1 329.5L474.8 328.7A39.0 39.0 0 0 1 472.9 328.6L472.5 329.7L472.3 328.5A39.0 39.0 0 0 1 470.4 328.3L469.8 330.6L469.8 328.2L469.4 329.4L469.3 328.1A39.0 39.0 0 0 1 467.5 327.8L466.9 328.6L466.9 327.6A39.0 39.0 0 0 1 465.7 327.3M464.4 326.9A39.0 39.0 0 0 1 463.4 326.6L462.9 327.1L462.8 326.4A39.0 39.0 0 0 1 462.4 326.3L461.1 329.0L461.9 326.1A39.0 39.0 0 0 1 461.8 326.0L461.2 326.9L461.2 325.8A39.0 39.0 0 0 1 459.9 325.2L459.3 325.9L459.4 325.0A39.0 39.0 0 0 1 457.6 324.1L457.0 324.7L457.1 323.8A39.0 39.0 0 0 1 455.3 322.7M454.1 322.0L453.1 323.5L453.9 321.8A39.0 39.0 0 0 1 452.0 320.5L451.5 320.7L451.6 320.1A39.0 39.0 0 0 1 451.1 319.7L448.3 322.6L450.7 319.3A39.0 39.0 0 0 1 450.1 318.8L448.4 320.2L449.6 318.4A39.0 39.0 0 0 1 449.5 318.3L448.8 318.7L449.1 317.9A39.0 39.0 0 0 1 448.4 317.3L447.9 317.4L448.0 316.9A39.0 39.0 0 0 1 447.6 316.4L446.5 317.1L447.2 316.0A39.0 39.0 0 0 1 446.9 315.7L445.2 316.8L446.7 315.4M445.8 314.4L443.3 316.4L445.6 314.1A39.0 39.0 0 0 1 445.1 313.4L443.1 314.6L444.7 313.0A39.0 39.0 0 0 1 444.7 312.9L443.3 313.6L444.3 312.4L443.3 312.9L444.0 312.0L443.5 312.0L443.7 311.5A39.0 39.0 0 0 1 442.7 310.0L442.1 310.1L442.4 309.5A39.0 39.0 0 0 1 442.0 308.8L440.3 309.4L441.7 308.3A39.0 39.0 0 0 1 441.4 307.7L440.2 307.9L441.1 307.2A39.0 39.0 0 0 1 440.8 306.5L439.3 306.9L440.7 306.2M440.1 304.9A39.0 39.0 0 0 1 439.6 303.8L436.4 304.7L439.4 303.2A39.0 39.0 0 0 1 439.4 303.2L437.5 303.6L439.2 302.6A39.0 39.0 0 0 1 439.0 301.9L437.0 302.2L438.8 301.3A39.0 39.0 0 0 1 438.7 301.0L435.5 301.6L438.5 300.4A39.0 39.0 0 0 1 438.2 299.4L437.3 299.4L438.1 298.8A39.0 39.0 0 0 1 437.7 296.9L436.5 296.8L437.6 296.3A39.0 39.0 0 0 1 437.4 295.3M437.2 294.0A39.0 39.0 0 0 1 437.0 291.6L435.9 291.3L437.0 291.0A39.0 39.0 0 0 1 437.0 290.8L433.8 290.6L437.0 290.2A39.0 39.0 0 0 1 437.0 289.4L436.3 289.1L437.0 288.8A39.0 39.0 0 0 1 437.0 288.8L436.1 288.5L437.0 288.2A39.0 39.0 0 0 1 437.1 287.3L436.3 287.0L437.1 286.7A39.0 39.0 0 0 1 437.2 286.1M437.3 284.7A39.0 39.0 0 0 1 437.6 283.1L436.7 282.6L437.7 282.5A39.0 39.0 0 0 1 437.7 282.2L437.0 281.8L437.8 281.6L435.7 280.9L438.0 281.1A39.0 39.0 0 0 1 438.0 280.8L434.3 279.6L438.2 280.2A39.0 39.0 0 0 1 438.3 279.8L437.7 279.3L438.4 279.2A39.0 39.0 0 0 1 438.7 278.3L437.9 277.8L438.9 277.8A39.0 39.0 0 0 1 438.9 277.7L437.4 276.9L439.0 277.4M439.4 276.1A39.0 39.0 0 0 1 440.1 274.5L439.6 273.9L440.3 273.9A39.0 39.0 0 0 1 440.3 273.9L438.1 272.6L440.6 273.4A39.0 39.0 0 0 1 440.8 273.0L437.3 271.0L441.0 272.4A39.0 39.0 0 0 1 441.3 271.8L440.5 271.1L441.6 271.3A39.0 39.0 0 0 1 441.9 270.9L439.2 269.0L442.1 270.3A39.0 39.0 0 0 1 442.7 269.4L441.8 268.4L442.9 269.1M443.6 267.9A39.0 39.0 0 0 1 444.1 267.3L443.1 266.3L444.4 266.8A39.0 39.0 0 0 1 445.3 265.6L443.8 264.0L445.7 265.2A39.0 39.0 0 0 1 445.7 265.1L444.9 264.0L446.1 264.6A39.0 39.0 0 0 1 446.9 263.8L446.5 263.0L447.3 263.3A39.0 39.0 0 0 1 448.0 262.5M449.0 261.6A39.0 39.0 0 0 1 449.5 261.1L449.1 260.1L450.0 260.7A39.0 39.0 0 0 1 450.6 260.1L448.8 257.4L451.1 259.7L450.6 258.9L451.5 259.4A39.0 39.0 0 0 1 452.8 258.3M453.9 257.6A39.0 39.0 0 0 1 454.8 257.0L454.6 256.0L455.3 256.6A39.0 39.0 0 0 1 456.6 255.9L456.2 254.6L457.1 255.6A39.0 39.0 0 0 1 458.4 254.9L457.8 253.0L459.0 254.6A39.0 39.0 0 0 1 459.7 254.3L459.4 252.9L460.2 254.0A39.0 39.0 0 0 1 460.9 253.7L460.7 252.2L461.5 253.5A39.0 39.0 0 0 1 462.2 253.2L462.0 251.8L462.8 253.0A39.0 39.0 0 0 1 463.5 252.7L463.5 251.6L464.1 252.6A39.0 39.0 0 0 1 464.9 252.3L464.9 251.4L465.4 252.2A39.0 39.0 0 0 1 466.5 251.9M467.8 251.6A39.0 39.0 0 0 1 468.3 251.5L468.3 249.9L468.9 251.4A39.0 39.0 0 0 1 469.0 251.3L468.9 249.1L469.6 251.2A39.0 39.0 0 0 1 469.8 251.2L469.9 250.3L470.4 251.1A39.0 39.0 0 0 1 472.0 250.9L472.2 250.3L472.6 250.8A39.0 39.0 0 0 1 473.9 250.8L474.1 249.8L474.5 250.7A39.0 39.0 0 0 1 475.0 250.7L475.2 248.6L475.3 250.7" stroke="#f2a384" stroke-width="0.65" fill="none" stroke-linejoin="miter"/>
<path d="M476.5 256.5A33.2 33.2 0 0 1 490.1 259.7L487.3 265.6A26.6 26.6 0 0 0 476.4 263.1ZM490.6 259.9A33.2 33.2 0 0 1 500.7 267.5L495.8 271.9A26.6 26.6 0 0 0 487.7 265.8ZM501.1 267.9A33.2 33.2 0 0 1 506.9 277.5L500.7 280.0A26.6 26.6 0 0 0 496.1 272.2ZM507.1 278.0A33.2 33.2 0 0 1 509.2 288.3L502.6 288.6A26.6 26.6 0 0 0 500.9 280.3ZM509.2 288.8A33.2 33.2 0 0 1 507.9 298.9L501.6 297.1A26.6 26.6 0 0 0 502.6 289.0ZM507.7 299.4A33.2 33.2 0 0 1 503.0 309.0L497.7 305.1A26.6 26.6 0 0 0 501.4 297.5ZM502.7 309.4A33.2 33.2 0 0 1 495.2 316.8L491.4 311.4A26.6 26.6 0 0 0 497.4 305.5ZM494.8 317.1A33.2 33.2 0 0 1 486.3 321.3L484.3 315.0A26.6 26.6 0 0 0 491.0 311.6ZM485.8 321.4A33.2 33.2 0 0 1 476.2 322.9L476.2 316.3A26.6 26.6 0 0 0 483.9 315.1ZM475.7 322.9A33.2 33.2 0 0 1 466.7 321.6L468.5 315.2A26.6 26.6 0 0 0 475.8 316.3ZM466.2 321.4A33.2 33.2 0 0 1 457.9 317.5L461.5 312.0A26.6 26.6 0 0 0 468.1 315.1ZM457.4 317.2A33.2 33.2 0 0 1 450.7 311.2L455.7 306.9A26.6 26.6 0 0 0 461.1 311.8ZM450.3 310.8A33.2 33.2 0 0 1 445.7 303.2L451.7 300.5A26.6 26.6 0 0 0 455.4 306.6ZM445.5 302.7A33.2 33.2 0 0 1 443.1 293.9L449.6 293.1A26.6 26.6 0 0 0 451.5 300.1ZM443.0 293.4A33.2 33.2 0 0 1 443.0 286.1L449.6 286.8A26.6 26.6 0 0 0 449.6 292.7ZM443.1 285.5A33.2 33.2 0 0 1 444.7 278.7L450.9 280.9A26.6 26.6 0 0 0 449.6 286.4ZM444.9 278.2A33.2 33.2 0 0 1 448.1 271.7L453.7 275.3A26.6 26.6 0 0 0 451.1 280.5ZM448.4 271.2A33.2 33.2 0 0 1 452.6 266.1L457.3 270.8A26.6 26.6 0 0 0 453.9 274.9ZM453.0 265.8A33.2 33.2 0 0 1 456.7 262.7L460.6 268.0A26.6 26.6 0 0 0 457.6 270.5ZM457.1 262.4A33.2 33.2 0 0 1 468.5 257.4L470.0 263.8A26.6 26.6 0 0 0 460.9 267.8ZM469.0 257.2A33.2 33.2 0 0 1 476.0 256.5L476.0 263.1A26.6 26.6 0 0 0 470.4 263.7Z" fill="#8f3cb5"/>
<path d="M476.6 256.5A33.2 33.2 0 0 1 477.2 256.5L477.0 263.1A26.6 26.6 0 0 0 476.5 263.1ZM477.8 256.5A33.2 33.2 0 0 1 478.2 256.6L477.7 263.2A26.6 26.6 0 0 0 477.4 263.1ZM478.8 256.6A33.2 33.2 0 0 1 479.2 256.7L478.5 263.2A26.6 26.6 0 0 0 478.3 263.2ZM480.3 256.8A33.2 33.2 0 0 1 480.7 256.8L479.8 263.4A26.6 26.6 0 0 0 479.4 263.3ZM482.5 257.1A33.2 33.2 0 0 1 482.9 257.2L481.5 263.7A26.6 26.6 0 0 0 481.2 263.6ZM485.2 257.8A33.2 33.2 0 0 1 485.8 258.0L483.8 264.3A26.6 26.6 0 0 0 483.4 264.1ZM493.2 261.3A33.2 33.2 0 0 1 493.6 261.5L490.1 267.1A26.6 26.6 0 0 0 489.8 267.0ZM495.6 262.9A33.2 33.2 0 0 1 496.3 263.4L492.2 268.6A26.6 26.6 0 0 0 491.7 268.2ZM496.4 263.5A33.2 33.2 0 0 1 496.9 263.9L492.7 269.0A26.6 26.6 0 0 0 492.4 268.7ZM501.1 268.0A33.2 33.2 0 0 1 501.3 268.2L496.3 272.5A26.6 26.6 0 0 0 496.1 272.3ZM504.6 272.9A33.2 33.2 0 0 1 504.9 273.3L499.1 276.6A26.6 26.6 0 0 0 498.9 276.2ZM505.3 274.1A33.2 33.2 0 0 1 505.6 274.8L499.8 277.7A26.6 26.6 0 0 0 499.5 277.2ZM505.9 275.2A33.2 33.2 0 0 1 506.2 276.0L500.2 278.7A26.6 26.6 0 0 0 499.9 278.1ZM507.1 278.1A33.2 33.2 0 0 1 507.3 278.7L501.1 280.9A26.6 26.6 0 0 0 500.9 280.4ZM508.3 281.9A33.2 33.2 0 0 1 508.4 282.4L501.9 283.9A26.6 26.6 0 0 0 501.9 283.4ZM508.5 283.0A33.2 33.2 0 0 1 508.6 283.6L502.1 284.8A26.6 26.6 0 0 0 502.1 284.4ZM508.8 284.7A33.2 33.2 0 0 1 508.9 285.5L502.4 286.3A26.6 26.6 0 0 0 502.3 285.7ZM509.0 286.2A33.2 33.2 0 0 1 509.1 286.9L502.5 287.5A26.6 26.6 0 0 0 502.5 286.9ZM509.2 288.9A33.2 33.2 0 0 1 509.2 289.4L502.6 289.4A26.6 26.6 0 0 0 502.6 289.1ZM509.1 292.0A33.2 33.2 0 0 1 509.1 292.4L502.5 291.8A26.6 26.6 0 0 0 502.5 291.6ZM509.1 292.8A33.2 33.2 0 0 1 509.0 293.2L502.5 292.5A26.6 26.6 0 0 0 502.5 292.2ZM508.7 295.2A33.2 33.2 0 0 1 508.7 295.6L502.2 294.5A26.6 26.6 0 0 0 502.2 294.1ZM508.4 296.8A33.2 33.2 0 0 1 508.3 297.3L501.9 295.8A26.6 26.6 0 0 0 502.0 295.4ZM508.3 297.6A33.2 33.2 0 0 1 508.1 298.3L501.7 296.6A26.6 26.6 0 0 0 501.8 296.0ZM507.7 299.5A33.2 33.2 0 0 1 507.5 300.2L501.2 298.1A26.6 26.6 0 0 0 501.4 297.5ZM505.8 304.3A33.2 33.2 0 0 1 505.6 304.8L499.7 301.8A26.6 26.6 0 0 0 499.9 301.4ZM505.5 305.0A33.2 33.2 0 0 1 505.3 305.3L499.5 302.2A26.6 26.6 0 0 0 499.6 302.0ZM504.8 306.2A33.2 33.2 0 0 1 504.3 307.0L498.7 303.6A26.6 26.6 0 0 0 499.1 302.9ZM503.9 307.6A33.2 33.2 0 0 1 503.6 308.1L498.1 304.5A26.6 26.6 0 0 0 498.4 304.1ZM502.0 310.3A33.2 33.2 0 0 1 501.7 310.7L496.6 306.6A26.6 26.6 0 0 0 496.8 306.2ZM501.0 311.6A33.2 33.2 0 0 1 500.5 312.1L495.6 307.7A26.6 26.6 0 0 0 496.0 307.2ZM499.9 312.8A33.2 33.2 0 0 1 499.3 313.4L494.6 308.7A26.6 26.6 0 0 0 495.1 308.2ZM498.4 314.2A33.2 33.2 0 0 1 498.2 314.4L493.8 309.5A26.6 26.6 0 0 0 494.0 309.3ZM498.0 314.6A33.2 33.2 0 0 1 497.4 315.1L493.1 310.1A26.6 26.6 0 0 0 493.6 309.6ZM496.6 315.8A33.2 33.2 0 0 1 496.0 316.2L492.0 310.9A26.6 26.6 0 0 0 492.5 310.6ZM493.5 317.9A33.2 33.2 0 0 1 493.0 318.2L489.6 312.6A26.6 26.6 0 0 0 490.0 312.3ZM492.7 318.4A33.2 33.2 0 0 1 492.4 318.6L489.1 312.8A26.6 26.6 0 0 0 489.4 312.7ZM491.6 319.0A33.2 33.2 0 0 1 491.2 319.2L488.2 313.4A26.6 26.6 0 0 0 488.5 313.2ZM490.9 319.3A33.2 33.2 0 0 1 490.2 319.7L487.4 313.7A26.6 26.6 0 0 0 488.0 313.5ZM488.7 320.4A33.2 33.2 0 0 1 488.0 320.7L485.6 314.5A26.6 26.6 0 0 0 486.2 314.3ZM482.1 322.3A33.2 33.2 0 0 1 481.2 322.5L480.2 316.0A26.6 26.6 0 0 0 480.9 315.8ZM475.7 322.9A33.2 33.2 0 0 1 474.8 322.9L475.0 316.3A26.6 26.6 0 0 0 475.7 316.3ZM471.5 322.6A33.2 33.2 0 0 1 471.0 322.5L472.0 316.0A26.6 26.6 0 0 0 472.4 316.0ZM470.1 322.4A33.2 33.2 0 0 1 469.6 322.3L470.9 315.8A26.6 26.6 0 0 0 471.3 315.9ZM464.6 320.9A33.2 33.2 0 0 1 463.9 320.6L466.3 314.5A26.6 26.6 0 0 0 466.8 314.7ZM455.7 315.9A33.2 33.2 0 0 1 455.2 315.5L459.3 310.4A26.6 26.6 0 0 0 459.7 310.7ZM452.4 313.0A33.2 33.2 0 0 1 451.9 312.6L456.7 308.0A26.6 26.6 0 0 0 457.1 308.4ZM450.3 310.7A33.2 33.2 0 0 1 449.9 310.2L455.1 306.1A26.6 26.6 0 0 0 455.4 306.5ZM448.7 308.6A33.2 33.2 0 0 1 448.5 308.2L453.9 304.5A26.6 26.6 0 0 0 454.1 304.9ZM448.2 307.9A33.2 33.2 0 0 1 447.8 307.2L453.4 303.7A26.6 26.6 0 0 0 453.7 304.3ZM447.5 306.7A33.2 33.2 0 0 1 447.1 306.0L452.8 302.7A26.6 26.6 0 0 0 453.2 303.3ZM446.6 305.1A33.2 33.2 0 0 1 446.4 304.8L452.3 301.8A26.6 26.6 0 0 0 452.4 302.0ZM446.2 304.3A33.2 33.2 0 0 1 446.0 304.0L452.0 301.1A26.6 26.6 0 0 0 452.1 301.4ZM445.4 302.7A33.2 33.2 0 0 1 445.2 302.2L451.3 299.7A26.6 26.6 0 0 0 451.5 300.1ZM445.1 301.8A33.2 33.2 0 0 1 444.9 301.4L451.1 299.0A26.6 26.6 0 0 0 451.2 299.4ZM443.7 297.4A33.2 33.2 0 0 1 443.6 297.0L450.0 295.5A26.6 26.6 0 0 0 450.1 295.9ZM442.8 290.5A33.2 33.2 0 0 1 442.8 290.1L449.4 290.0A26.6 26.6 0 0 0 449.4 290.3ZM443.1 285.5A33.2 33.2 0 0 1 443.1 285.1L449.7 286.0A26.6 26.6 0 0 0 449.6 286.3ZM443.5 282.7A33.2 33.2 0 0 1 443.6 282.3L450.1 283.8A26.6 26.6 0 0 0 450.0 284.1ZM443.7 282.0A33.2 33.2 0 0 1 443.8 281.5L450.2 283.2A26.6 26.6 0 0 0 450.1 283.5ZM446.1 275.2A33.2 33.2 0 0 1 446.5 274.4L452.4 277.5A26.6 26.6 0 0 0 452.1 278.1ZM451.3 267.5A33.2 33.2 0 0 1 451.9 266.9L456.7 271.4A26.6 26.6 0 0 0 456.2 271.9ZM453.0 265.7A33.2 33.2 0 0 1 453.6 265.2L458.0 270.1A26.6 26.6 0 0 0 457.6 270.5ZM458.1 261.8A33.2 33.2 0 0 1 458.3 261.6L461.8 267.2A26.6 26.6 0 0 0 461.6 267.3ZM460.2 260.5A33.2 33.2 0 0 1 460.6 260.3L463.6 266.1A26.6 26.6 0 0 0 463.4 266.3ZM463.3 259.0A33.2 33.2 0 0 1 463.7 258.9L466.2 265.0A26.6 26.6 0 0 0 465.8 265.1ZM465.3 258.3A33.2 33.2 0 0 1 466.1 258.0L468.0 264.3A26.6 26.6 0 0 0 467.5 264.5ZM470.7 256.9A33.2 33.2 0 0 1 471.6 256.8L472.4 263.3A26.6 26.6 0 0 0 471.8 263.4ZM474.5 256.5A33.2 33.2 0 0 1 475.1 256.5L475.3 263.1A26.6 26.6 0 0 0 474.8 263.1Z" fill="#b070c4" fill-opacity="0.9"/>
<path d="M483.3 257.3A33.2 33.2 0 0 1 484.0 257.5L482.4 263.9A26.6 26.6 0 0 0 481.9 263.8ZM491.7 260.5A33.2 33.2 0 0 1 492.5 260.9L489.2 266.6A26.6 26.6 0 0 0 488.6 266.3ZM494.2 261.9A33.2 33.2 0 0 1 494.8 262.3L491.0 267.8A26.6 26.6 0 0 0 490.6 267.4ZM507.7 279.9A33.2 33.2 0 0 1 507.9 280.4L501.5 282.3A26.6 26.6 0 0 0 501.4 281.9ZM505.2 305.5A33.2 33.2 0 0 1 505.0 305.9L499.2 302.6A26.6 26.6 0 0 0 499.4 302.4ZM479.9 322.7A33.2 33.2 0 0 1 479.2 322.7L478.6 316.2A26.6 26.6 0 0 0 479.1 316.1ZM466.1 321.4A33.2 33.2 0 0 1 465.3 321.1L467.4 314.9A26.6 26.6 0 0 0 468.1 315.1ZM459.3 318.4A33.2 33.2 0 0 1 458.6 318.0L462.1 312.4A26.6 26.6 0 0 0 462.6 312.7ZM457.4 317.2A33.2 33.2 0 0 1 457.1 317.0L460.9 311.6A26.6 26.6 0 0 0 461.1 311.7ZM449.2 309.3A33.2 33.2 0 0 1 449.0 309.1L454.4 305.2A26.6 26.6 0 0 0 454.6 305.4ZM444.2 299.2A33.2 33.2 0 0 1 444.0 298.5L450.3 296.7A26.6 26.6 0 0 0 450.5 297.3ZM443.2 295.0A33.2 33.2 0 0 1 443.2 294.6L449.7 293.6A26.6 26.6 0 0 0 449.7 294.0ZM448.4 271.2A33.2 33.2 0 0 1 448.7 270.7L454.2 274.5A26.6 26.6 0 0 0 453.9 274.9ZM450.4 268.5A33.2 33.2 0 0 1 450.9 267.9L455.9 272.3A26.6 26.6 0 0 0 455.5 272.7ZM455.2 263.8A33.2 33.2 0 0 1 455.6 263.5L459.7 268.7A26.6 26.6 0 0 0 459.4 268.9ZM461.3 259.9A33.2 33.2 0 0 1 461.9 259.7L464.7 265.6A26.6 26.6 0 0 0 464.2 265.9ZM466.5 257.9A33.2 33.2 0 0 1 467.0 257.7L468.8 264.1A26.6 26.6 0 0 0 468.4 264.2ZM472.1 256.7A33.2 33.2 0 0 1 472.4 256.7L473.1 263.3A26.6 26.6 0 0 0 472.9 263.3ZM473.4 256.6A33.2 33.2 0 0 1 473.7 256.6L474.2 263.2A26.6 26.6 0 0 0 473.9 263.2Z" fill="#d8907c" fill-opacity="0.9"/>
<path d="M476.2 263.4L476.3 256.2M487.4 266.0L490.5 259.5M495.7 272.3L501.1 267.5M500.5 280.3L507.3 277.7M502.3 288.8L509.5 288.6M501.2 297.2L508.1 299.2M497.3 305.1L503.1 309.4M491.0 311.3L495.1 317.2M484.0 314.8L486.2 321.6M476.0 316.0L476.0 323.2M468.4 314.9L466.3 321.8M461.5 311.6L457.5 317.6M455.8 306.6L450.3 311.2M451.9 300.2L445.3 303.1M449.9 292.8L442.7 293.7M449.9 286.6L442.7 285.8M451.3 280.8L444.5 278.3M454.0 275.2L448.0 271.3M457.6 270.9L452.6 265.7M460.9 268.2L456.8 262.3M470.2 264.0L468.7 257.0" stroke="#fff" stroke-width="0.75"/>
<text x="609.5" y="194.6" font-size="7.1">gene dendity</text>
<rect x="609.5" y="197.6" width="28.9" height="4.7" fill="url(#gd)"/>
<text x="612.7" y="208.5" font-size="5.9" text-anchor="middle">0</text><text x="623.8" y="208.5" font-size="5.9" text-anchor="middle">42.5</text><text x="635.6" y="208.5" font-size="5.9" text-anchor="middle">85</text>
<text x="609.5" y="217.8" font-size="7.15">reads distribution</text>
<rect x="609.5" y="220.60" width="4.4" height="4.55" fill="#25449a"/>
<text x="615.2" y="224.80" font-size="5.6">RP 1</text>
<rect x="609.5" y="225.15" width="4.4" height="4.55" fill="#e8242a"/>
<text x="615.2" y="229.35" font-size="5.6">RP 1 input</text>
<rect x="609.5" y="229.70" width="4.4" height="4.55" fill="#45c044"/>
<text x="615.2" y="233.90" font-size="5.6">RP 2</text>
<rect x="609.5" y="234.25" width="4.4" height="4.55" fill="#35a7b8"/>
<text x="615.2" y="238.45" font-size="5.6">RP 2 input</text>
<rect x="609.5" y="238.80" width="4.4" height="4.55" fill="#9348bd"/>
<text x="615.2" y="243.00" font-size="5.6">RP 3</text>
<rect x="609.5" y="243.35" width="4.4" height="4.55" fill="#f2a384"/>
<text x="615.2" y="247.55" font-size="5.6">RP 3 input</text>
<text x="609.5" y="257.6" font-size="7.1">peak density</text>
<rect x="609.5" y="260.2" width="28.9" height="4.7" fill="url(#pd)"/>
<text x="612.7" y="270.5" font-size="5.9" text-anchor="middle">0</text><text x="623.8" y="270.5" font-size="5.9" text-anchor="middle">30.5</text><text x="635.1" y="270.5" font-size="5.9" text-anchor="middle">61</text>
</g>
</g>
<g id="panelD">
<text x="4.7" y="434.8" font-size="11.3">D</text>
<text x="32.5" y="422" font-size="7.15">Statistic of Differently Peak</text>
<rect x="38.7" y="425.4" width="75.3" height="228" fill="none" stroke="#222" stroke-width="0.6"/>
<rect x="65.1" y="435.5" width="11.9" height="207.7" fill="#f51e0f"/>
<rect x="77" y="572.2" width="11.5" height="71.0" fill="#27468e"/>
<text x="71" y="434.4" font-size="7.3" text-anchor="middle">936</text>
<text x="82.8" y="570.9" font-size="7.3" text-anchor="middle">320</text>
<path d="M37.3 643.2H38.7" stroke="#333" stroke-width="0.5"/>
<text x="35.6" y="646.3" font-size="7.3" text-anchor="end">0</text>
<path d="M37.3 587.7H38.7" stroke="#333" stroke-width="0.5"/>
<text x="35.6" y="590.8" font-size="7.3" text-anchor="end">250</text>
<path d="M37.3 532.2H38.7" stroke="#333" stroke-width="0.5"/>
<text x="35.6" y="535.4" font-size="7.3" text-anchor="end">500</text>
<path d="M37.3 476.8H38.7" stroke="#333" stroke-width="0.5"/>
<text x="35.6" y="479.9" font-size="7.3" text-anchor="end">750</text>
<path d="M76.3 653.4V654.8" stroke="#333" stroke-width="0.5"/>
<text x="76.4" y="662" font-size="7.3" text-anchor="middle">RP-vs-M</text>
<text transform="translate(16.2,544.8) rotate(-90)" font-size="7.35" text-anchor="middle">Differently Peak number</text>
<text x="122" y="532" font-size="7.2">Type</text>
<rect x="123.3" y="536.1" width="8.1" height="6.1" fill="#f51e0f"/>
<rect x="123.3" y="542.8" width="8.1" height="6.1" fill="#27468e"/>
<text x="133.9" y="541.6" font-size="7.2">Up</text>
<text x="133.9" y="548.7" font-size="7.2">Down</text>
</g>
<g id="panelE">
<text x="207.1" y="435" font-size="11.3">E</text>
<text x="280.8" y="427.9" font-size="8.7">RP()vs-M: KEGG Pathway Classification</text>
<rect x="281.7" y="431.3" width="287.8" height="227.7" fill="none" stroke="#222" stroke-width="0.6"/>
<rect x="294.3" y="433.30" width="16.4" height="4.6" fill="#f566f0"/>
<text x="311.6" y="437.50" font-size="5.6">1</text>
<text x="279.6" y="437.25" font-size="5.78" text-anchor="end">Sensory system</text>
<rect x="294.3" y="439.95" width="32.7" height="4.6" fill="#f566f0"/>
<text x="327.9" y="444.15" font-size="5.6">2</text>
<text x="279.6" y="443.90" font-size="5.78" text-anchor="end">Nervous system</text>
<rect x="294.3" y="446.61" width="261.9" height="4.6" fill="#f566f0"/>
<text x="557.1" y="450.81" font-size="5.6">16</text>
<text x="279.6" y="450.56" font-size="5.78" text-anchor="end">Immune system</text>
<rect x="294.3" y="453.26" width="16.4" height="4.6" fill="#f566f0"/>
<text x="311.6" y="457.46" font-size="5.6">1</text>
<text x="279.6" y="457.21" font-size="5.78" text-anchor="end">Environmental adaptation</text>
<rect x="294.3" y="459.92" width="98.2" height="4.6" fill="#f566f0"/>
<text x="393.4" y="464.12" font-size="5.6">6</text>
<text x="279.6" y="463.87" font-size="5.78" text-anchor="end">Endocrine system</text>
<rect x="294.3" y="466.57" width="49.1" height="4.6" fill="#f566f0"/>
<text x="344.3" y="470.77" font-size="5.6">3</text>
<text x="279.6" y="470.52" font-size="5.78" text-anchor="end">Digestive system</text>
<rect x="294.3" y="473.23" width="32.7" height="4.6" fill="#f566f0"/>
<text x="327.9" y="477.43" font-size="5.6">2</text>
<text x="279.6" y="477.18" font-size="5.78" text-anchor="end">Development and regeneration</text>
<rect x="294.3" y="479.88" width="32.7" height="4.6" fill="#f566f0"/>
<text x="327.9" y="484.08" font-size="5.6">2</text>
<text x="279.6" y="483.83" font-size="5.78" text-anchor="end">Circulatory systme</text>
<rect x="294.3" y="486.54" width="32.7" height="4.6" fill="#6d9df8"/>
<text x="327.9" y="490.74" font-size="5.6">2</text>
<text x="279.6" y="490.49" font-size="5.78" text-anchor="end">Xenobiotics biodegradation and metabolism</text>
<rect x="294.3" y="493.19" width="16.4" height="4.6" fill="#6d9df8"/>
<text x="311.6" y="497.39" font-size="5.6">1</text>
<text x="279.6" y="497.14" font-size="5.78" text-anchor="end">Metabolism of other amino acids</text>
<rect x="294.3" y="499.85" width="32.7" height="4.6" fill="#6d9df8"/>
<text x="327.9" y="504.05" font-size="5.6">2</text>
<text x="279.6" y="503.80" font-size="5.78" text-anchor="end">Lipid metabolism</text>
<rect x="294.3" y="506.50" width="16.4" height="4.6" fill="#6d9df8"/>
<text x="311.6" y="510.70" font-size="5.6">1</text>
<text x="279.6" y="510.45" font-size="5.78" text-anchor="end">Glycan biosynthesis and metabolism</text>
<rect x="294.3" y="513.16" width="16.4" height="4.6" fill="#6d9df8"/>
<text x="311.6" y="517.36" font-size="5.6">1</text>
<text x="279.6" y="517.11" font-size="5.78" text-anchor="end">Energy metabolism</text>
<rect x="294.3" y="519.82" width="16.4" height="4.6" fill="#6d9df8"/>
<text x="311.6" y="524.01" font-size="5.6">1</text>
<text x="279.6" y="523.76" font-size="5.78" text-anchor="end">Carbohydrate metabolism</text>
<rect x="294.3" y="526.47" width="16.4" height="4.6" fill="#6d9df8"/>
<text x="311.6" y="530.67" font-size="5.6">1</text>
<text x="279.6" y="530.42" font-size="5.78" text-anchor="end">Amino acid metabolism</text>
<rect x="294.3" y="533.13" width="16.4" height="4.6" fill="#5fd3c8"/>
<text x="311.6" y="537.33" font-size="5.6">1</text>
<text x="279.6" y="537.08" font-size="5.78" text-anchor="end">Substance dependence</text>
<rect x="294.3" y="539.78" width="49.1" height="4.6" fill="#5fd3c8"/>
<text x="344.3" y="543.98" font-size="5.6">3</text>
<text x="279.6" y="543.73" font-size="5.78" text-anchor="end">Neurodegenerative disease</text>
<rect x="294.3" y="546.44" width="147.3" height="4.6" fill="#5fd3c8"/>
<text x="442.5" y="550.63" font-size="5.6">9</text>
<text x="279.6" y="550.38" font-size="5.78" text-anchor="end">Infectious disease: viral</text>
<rect x="294.3" y="553.09" width="65.5" height="4.6" fill="#5fd3c8"/>
<text x="360.7" y="557.29" font-size="5.6">4</text>
<text x="279.6" y="557.04" font-size="5.78" text-anchor="end">Infectious disease: parasitic</text>
<rect x="294.3" y="559.75" width="65.5" height="4.6" fill="#5fd3c8"/>
<text x="360.7" y="563.95" font-size="5.6">4</text>
<text x="279.6" y="563.70" font-size="5.78" text-anchor="end">Infectious disease: bacterial</text>
<rect x="294.3" y="566.40" width="131.0" height="4.6" fill="#5fd3c8"/>
<text x="426.2" y="570.60" font-size="5.6">8</text>
<text x="279.6" y="570.35" font-size="5.78" text-anchor="end">Immune disease</text>
<rect x="294.3" y="573.06" width="49.1" height="4.6" fill="#5fd3c8"/>
<text x="344.3" y="577.25" font-size="5.6">3</text>
<text x="279.6" y="577.00" font-size="5.78" text-anchor="end">Endocrine and metabolic disease</text>
<rect x="294.3" y="579.71" width="49.1" height="4.6" fill="#5fd3c8"/>
<text x="344.3" y="583.91" font-size="5.6">3</text>
<text x="279.6" y="583.66" font-size="5.78" text-anchor="end">Drug resistance: antineoplastic</text>
<rect x="294.3" y="586.37" width="81.9" height="4.6" fill="#5fd3c8"/>
<text x="377.1" y="590.56" font-size="5.6">5</text>
<text x="279.6" y="590.31" font-size="5.78" text-anchor="end">Cardiovascular disease</text>
<rect x="294.3" y="593.02" width="32.7" height="4.6" fill="#5fd3c8"/>
<text x="327.9" y="597.22" font-size="5.6">2</text>
<text x="279.6" y="596.97" font-size="5.78" text-anchor="end">Cancer: specific types</text>
<rect x="294.3" y="599.68" width="98.2" height="4.6" fill="#5fd3c8"/>
<text x="393.4" y="603.88" font-size="5.6">6</text>
<text x="279.6" y="603.62" font-size="5.78" text-anchor="end">Cancer: overview</text>
<rect x="294.3" y="606.33" width="16.4" height="4.6" fill="#3fce48"/>
<text x="311.6" y="610.53" font-size="5.6">1</text>
<text x="279.6" y="610.28" font-size="5.78" text-anchor="end">Translation</text>
<rect x="294.3" y="612.99" width="16.4" height="4.6" fill="#3fce48"/>
<text x="311.6" y="617.19" font-size="5.6">1</text>
<text x="279.6" y="616.94" font-size="5.78" text-anchor="end">Folding, sorting and degradation</text>
<rect x="294.3" y="619.64" width="163.7" height="4.6" fill="#b4a32a"/>
<text x="458.9" y="623.84" font-size="5.6">10</text>
<text x="279.6" y="623.59" font-size="5.78" text-anchor="end">Signaling molecules and interaction</text>
<rect x="294.3" y="626.30" width="163.7" height="4.6" fill="#b4a32a"/>
<text x="458.9" y="630.50" font-size="5.6">10</text>
<text x="279.6" y="630.25" font-size="5.78" text-anchor="end">Signal transduction</text>
<rect x="294.3" y="632.95" width="16.4" height="4.6" fill="#b4a32a"/>
<text x="311.6" y="637.15" font-size="5.6">1</text>
<text x="279.6" y="636.90" font-size="5.78" text-anchor="end">Membrane transport</text>
<rect x="294.3" y="639.61" width="65.5" height="4.6" fill="#f0706c"/>
<text x="360.7" y="643.80" font-size="5.6">4</text>
<text x="279.6" y="643.55" font-size="5.78" text-anchor="end">Transport and catabolism</text>
<rect x="294.3" y="646.26" width="49.1" height="4.6" fill="#f0706c"/>
<text x="344.3" y="650.46" font-size="5.6">3</text>
<text x="279.6" y="650.21" font-size="5.78" text-anchor="end">Cellular community-eukaryotes</text>
<rect x="294.3" y="652.92" width="65.5" height="4.6" fill="#f0706c"/>
<text x="360.7" y="657.12" font-size="5.6">4</text>
<text x="279.6" y="656.87" font-size="5.78" text-anchor="end">Cell growth and death</text>
<path d="M280.3 435.60H281.7M280.3 442.25H281.7M280.3 448.91H281.7M280.3 455.56H281.7M280.3 462.22H281.7M280.3 468.88H281.7M280.3 475.53H281.7M280.3 482.19H281.7M280.3 488.84H281.7M280.3 495.50H281.7M280.3 502.15H281.7M280.3 508.81H281.7M280.3 515.46H281.7M280.3 522.12H281.7M280.3 528.77H281.7M280.3 535.43H281.7M280.3 542.08H281.7M280.3 548.74H281.7M280.3 555.39H281.7M280.3 562.05H281.7M280.3 568.70H281.7M280.3 575.36H281.7M280.3 582.01H281.7M280.3 588.66H281.7M280.3 595.32H281.7M280.3 601.98H281.7M280.3 608.63H281.7M280.3 615.29H281.7M280.3 621.94H281.7M280.3 628.60H281.7M280.3 635.25H281.7M280.3 641.90H281.7M280.3 648.56H281.7M280.3 655.22H281.7" stroke="#333" stroke-width="0.45"/>
<path d="M294.3 659V660.4" stroke="#333" stroke-width="0.5"/>
<text x="294.3" y="668.9" font-size="7.8" text-anchor="middle">0</text>
<path d="M372.9 659V660.4" stroke="#333" stroke-width="0.5"/>
<text x="372.9" y="668.9" font-size="7.8" text-anchor="middle">10</text>
<path d="M451.5 659V660.4" stroke="#333" stroke-width="0.5"/>
<text x="451.5" y="668.9" font-size="7.8" text-anchor="middle">20</text>
<path d="M530.1 659V660.4" stroke="#333" stroke-width="0.5"/>
<text x="530.1" y="668.9" font-size="7.8" text-anchor="middle">30</text>
<text x="417.8" y="679.9" font-size="8.7" text-anchor="middle">Pecent of Genes (%)</text>
<rect x="574.1" y="521.90" width="10.2" height="7.8" fill="#f0706c"/>
<text x="586" y="527.50" font-size="5.8">Cellular Processes</text>
<rect x="574.1" y="530.52" width="10.2" height="7.8" fill="#b4a32a"/>
<text x="586" y="536.12" font-size="5.8">Environmental Information Processing</text>
<rect x="574.1" y="539.14" width="10.2" height="7.8" fill="#3fce48"/>
<text x="586" y="544.74" font-size="5.8">Genetic Information Processing</text>
<rect x="574.1" y="547.76" width="10.2" height="7.8" fill="#5fd3c8"/>
<text x="586" y="553.36" font-size="5.8">Human Diseases</text>
<rect x="574.1" y="556.38" width="10.2" height="7.8" fill="#6d9df8"/>
<text x="586" y="561.98" font-size="5.8">Metabolism</text>
<rect x="574.1" y="565.00" width="10.2" height="7.8" fill="#f566f0"/>
<text x="586" y="570.60" font-size="5.8">Organismal Systems</text>
</g>
</svg>
</body></html>
